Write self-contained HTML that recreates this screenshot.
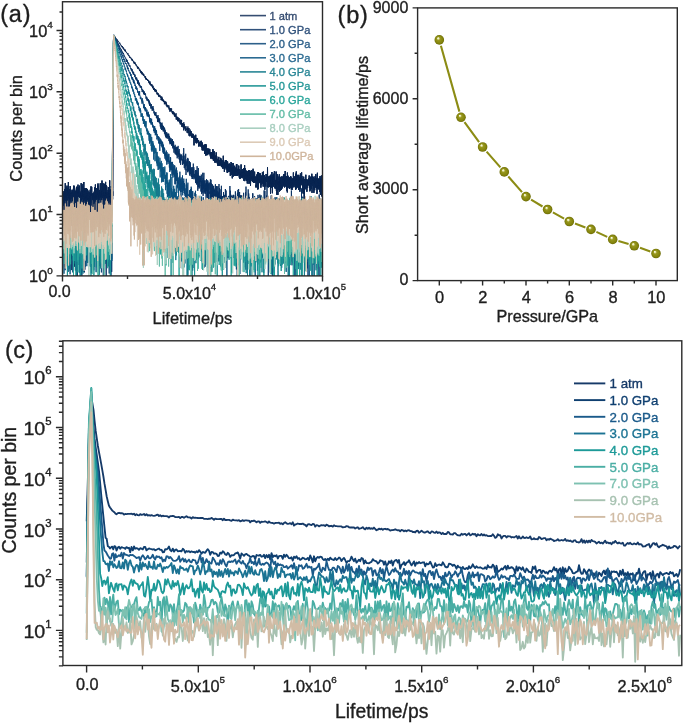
<!DOCTYPE html><html><head><meta charset="utf-8"><style>html,body{margin:0;padding:0;background:#fff;}svg{display:block;filter:blur(0.65px)} text{font-family:"Liberation Sans", sans-serif;stroke-width:0.35px}</style></head><body>
<svg width="685" height="724" viewBox="0 0 685 724">
<defs>
<clipPath id="ca"><rect x="62.5" y="1.75" width="260.0" height="274.15"/></clipPath>
<clipPath id="cc"><rect x="62.9" y="340.8" width="618.9" height="324.7"/></clipPath>
<radialGradient id="ball" cx="0.5" cy="0.5" r="0.5" fx="0.36" fy="0.3"><stop offset="0" stop-color="#ffffff"/><stop offset="0.16" stop-color="#e8e8b0"/><stop offset="0.35" stop-color="#98981e"/><stop offset="0.8" stop-color="#83830c"/><stop offset="1" stop-color="#6b6b06"/></radialGradient>
</defs>
<rect width="685" height="724" fill="#fff"/>
<g clip-path="url(#ca)">
<path d="M625 1939l1 16 1 11 1-30 2 32 1-56 1 21 1 8 1 79 1 36 1-3 1-37 2-85 1 167 1-156 1 90 1-101 1 56 1 0 1-97 2 56 1-10 1-1 1 98 1-100 1-101 1 179 2-104 1-6 1 1 1 77 1-13 1 45 1-60 1-75 2 110 1 77 1-118 1-44 1 60 1-104 1 100 1-11 2 60 1-41 1-62 1-1 1-21 1 26 1 13 2 145 1-72 1-173 1 156 1-64 1 39 1-41 1 34 2 58 1-12 1-61 1 45 1 89 1-144 1-27 2 5 1-1 1 137 1-172 1 94 1 42 1-26 1 15 2 30 1-68 1-9 1 19 1-19 1 18 1 30 1-8 2-59 1 107 1-50 1-79 1 37 1-21 1 34 2 64 1-43 1-28 1 28 1-12 1-19 1-37 1 71 2-85 1 61 1-52 1-8 1-31 1 35 1-1 1-32 2 184 1-43 1-107 1 177 1-133 1 0 1 94 2-34 1-86 1 6 1 61 1 14 1-6 1-66 1 103 2-78 1 82 1-129 1 37 1-59 1 201 1-16 1-81 2-113 1 143 1-133 1 60 1 0 1-29 1 94 2-22 1 36 1-76 1-93 1 119 1-48 1 7 1 10 2 20 1-81 1 66 1 32 1-86 1 16 1 25 2 24 1-94 1 86 1 34 1-66 1 49 1-17 1 19 2-10 1 84 1-46 1-5 1 37 1-64 1-29 1 69 2-166 1 119 1-30 1 85 1-13 1-136 1 51 2 43 1 70 1-162 1 136 1-26 1-18 1-28 1 19 2 2 1-105 1 97 1-18 1 107 1-125 1 144 1-65 2-159 1 165 1-42 1 65 1 0 1-127 1 86 2-20 1 12 1 68 1-76 1-67 1 102 1-69 1-34 2 129 1-117 1 161 1-150 1 56 1 45 1-57 1 27 2 64 1-156 1-5 1 122 1-36 1 5 1-14 2 60 1-127 1 49 1 58 1-27 1 15 1-32 1-46 2-1 1 98 1-67 1 56 1 52 1-41 1-61 2 89 1-49 1-65 1 64 1 2 1 13 1 55 1-94 2-17 1-4 1 64 1-1 1-102 1 99 1-37 1 160 2-116 1 0 1 27 1-167 1 99 1 93 1-115 2 4 1-2 1-74 1 78 1-4 1 40 1 19 1-57 2 5 1 46 1-24 1-32 1-4 1 40 1 92 1-137 2 33 1 33 1-25 1 40 1-81 1 34 1 76 2-115 1-8 1 36 1-39 1 116 1-156 1 51 1-39 2 212 1-69 1-53 1-16 1-116 1 100 1 70 1-99 2 17 1 52 1-86 1-19 1 77 1 42 1-92 2 15 1 39 1 30 1-32 1-41 1 22 1 176 1-207 2-61 1 74 1-26 1 46 1-107 1 107 1-76 2-6 1 90 1-54 1 135 1-111 1 112 1-120 1 55 2-14 1 40 1-65 1-26 1 92 1-34 1-33 1 50 2-104 1-40 1 94 1 20 1-14 1 55 1 38 2-42 1-57 1 32 1 33 1 8 1-59 1 19 1-60 2 101 1-195 1 140 1-116 1 131 1-49 1 57 1-122 2 54 1 81 1-31 1-50 1 142 1-60 1-8 2 109 1-159 1-91 1 216 1-38 1-77 1-15 1 3 2 35 1 13 1 71 1-202 1 27 1 112 1-36 1 13 2 9 1 39 1-185 1 134 1-53 1 51 1-27 2-69 1 80 1-77 1 121 1-77 1-39 1 35 1 81 2 15 1-33 1 17 1-56 1 29 1 33 1 28 2-35 1-35 1-41 1 18 1-15 1-32 1 45 1 111 2-74 1 67 1-87 1 110 1-99 1-11 1-25 1 33 2-138 1 163 1-71 1 72 1 30 1-31 1 60 2-96 1 117 1-153 1 49 1-40 1 105 1-148 1 15 2 12 1 61 1-52 1 47 1-71 1 173 1-107 1-72 2 27 1-3 1 5 1 35 1 63 1-81 1 46 2-77 1-294 1-418 1-353 1-269 1-150 1-48 1-1 2 6 1 3 1 6 1-3 1 1 1 1 1 3 1 3 2-3 1 4 1-1 1 6 1-1 1-1 1 1 2 9 1-2 1 2 1-3 1 4 1 5 1 0 1 2 2 0 1 3 1 0 1-2 1-2 1 6 1-1 1 13 2-7 1 2 1 2 1 3 1 9 1-3 1-1 2 0 1 6 1-2 1 2 1 2 1 1 1-1 1 5 2 1 1 4 1-1 1 3 1-2 1-4 1 2 2 10 1-2 1 3 1 7 1 3 1-3 1-1 1 6 2 0 1 2 1 1 1 3 1-2 1-2 1 3 1 6 2-1 1 0 1 9 1-9 1 8 1 3 1-12 2 14 1-1 1 3 1-4 1 6 1 6 1 4 1-5 2-8 1 13 1-7 1 9 1 4 1 5 1-7 1 0 2 3 1 9 1-4 1-2 1 5 1-2 1-5 2 15 1-14 1 16 1-3 1 2 1-2 1 6 1 0 2 2 1-1 1 2 1 3 1-2 1-1 1 10 1 1 2 2 1 2 1 1 1-1 1-2 1 8 1-3 2 5 1-11 1 11 1-1 1 9 1 1 1-3 1 6 2-2 1-3 1 9 1 2 1-3 1 4 1-3 2 5 1 6 1 6 1-9 1 6 1-2 1 9 1-3 2-3 1-1 1 1 1 0 1 8 1-3 1 4 1 4 2 3 1 3 1-7 1 6 1 5 1-1 1-8 2 16 1 2 1-11 1 14 1-11 1 10 1-3 1-2 2 1 1 4 1 5 1 3 1 1 1-7 1 7 1-2 2 18 1-8 1-1 1 4 1-10 1 17 1-7 2 0 1 10 1-7 1 4 1-11 1 9 1 9 1-4 2 4 1 6 1-4 1 2 1-4 1 17 1 1 1-1 2-6 1-1 1 8 1 0 1 2 1 10 1-2 2-8 1 2 1 0 1 4 1 18 1-13 1 1 1 11 2-16 1 12 1-4 1 2 1 2 1-2 1 10 2-5 1 4 1 11 1-2 1 5 1 5 1 0 1-10 2 12 1-12 1 9 1 1 1 7 1-7 1 8 1-7 2 1 1 16 1-12 1 17 1-16 1 19 1-5 2-12 1 8 1-1 1 20 1-18 1 11 1-13 1 11 2 2 1 11 1-3 1-4 1-7 1 2 1 11 1 7 2 2 1-16 1 10 1 10 1-15 1 7 1 1 2 0 1 5 1 7 1 9 1-1 1-1 1-7 1 9 2-8 1 0 1-2 1 1 1 29 1-26 1 10 1 2 2 7 1-5 1 3 1 6 1 10 1-20 1 7 2 12 1-2 1-7 1 10 1-4 1-4 1 3 1 8 2 7 1-2 1-7 1 8 1-11 1 1 1 3 2 7 1 15 1-19 1 8 1 12 1 3 1-1 1-4 2 13 1-17 1 12 1-5 1 18 1-32 1 15 1 10 2 9 1-18 1 16 1 1 1 5 1 4 1-7 2 1 1 5 1 6 1-18 1 1 1 20 1-15 1 11 2 3 1-15 1 3 1 19 1-7 1 11 1 10 1-18 2 5 1-1 1-10 1 21 1-5 1 4 1 18 2-12 1 13 1-12 1 11 1 2 1-19 1 16 1 0 2-3 1 22 1-9 1 0 1-8 1 3 1 9 1-19 2 21 1 3 1-8 1 11 1-15 1 9 1 10 2-23 1 24 1-2 1-2 1 2 1 1 1 16 1-11 2 20 1-14 1 0 1-4 1 13 1-8 1 8 2-3 1 10 1-15 1 2 1 24 1-11 1 3 1 16 2-5 1-8 1 11 1-11 1-4 1 14 1-10 1-6 2 20 1-15 1 1 1 0 1 14 1-1 1 11 2-14 1 2 1 5 1 5 1 8 1 17 1-15 1 13 2-14 1 8 1-29 1 30 1 4 1-25 1 35 1-26 2 1 1 14 1 14 1-6 1-6 1-5 1 4 2 3 1 10 1-14 1 23 1-2 1-7 1-5 1 4 2 1 1 12 1-14 1 34 1-14 1 9 1-1 1-15 2-2 1 20 1-9 1-18 1 18 1-11 1 6 2 0 1 17 1-6 1-19 1 34 1 5 1-24 1 21 2-5 1-5 1 13 1-1 1 12 1-10 1 15 1-18 2 5 1-9 1 16 1-13 1 0 1 0 1 7 2 5 1 3 1 10 1-3 1 1 1-22 1 39 1-10 2-4 1 15 1-18 1 17 1-10 1 5 1 29 2-32 1 23 1-17 1-12 1 8 1 12 1 0 1 0 2 7 1 8 1-8 1 2 1-24 1 20 1-19 1 28 2-3 1 5 1 12 1 3 1-7 1-14 1 27 2 5 1-15 1 9 1 2 1-27 1 22 1-6 1 9 2-9 1 12 1 3 1-10 1 11 1-16 1 27 1-27 2 35 1-7 1-6 1 18 1-6 1-15 1 14 2 8 1-19 1 10 1-5 1-10 1 21 1-3 1-31 2 65 1-28 1 14 1-15 1 18 1-3 1 13 1-26 2 11 1 5 1 12 1-29 1 41 1-37 1 11 2 14 1-7 1 23 1-39 1 39 1-8 1-20 1 20 2-8 1 2 1 14 1-1 1-31 1 14 1 6 2 8 1 15 1 8 1-26 1 18 1-3 1 14 1 10 2-25 1 17 1-42 1 6 1 30 1-20 1 31 1-28 2-13 1 23 1-22 1 67 1-31 1 5 1-13 2 11 1-7 1 8 1 17 1 9 1-36 1 28 1-18 2 5 1 14 1 18 1-26 1-15 1 66 1-21 1-61 2 39 1-4 1-13 1-3 1 22 1-6 1 24 2-9 1 22 1-30 1 3 1 1 1 0 1 43 1-26 2 13 1-9 1-13 1-14 1 29 1 11 1-3 1-5 2 3 1-6 1-7 1 40 1 3 1-15 1-1 2-33 1 31 1-20 1 36 1 7 1-68 1 29 1 37 2-14 1-36 1 28 1 18 1-24 1 9 1 46 2-76 1 23 1 22 1 9 1 6 1 22 1-36 1 16 2 11 1-7 1-51 1 52 1-31 1-6 1 27 1-12 2 35 1-11 1-8 1 22 1 0 1-52 1 15 2 25 1 20 1-21 1 24 1-15 1-3 1-2 1 17 2-26 1-9 1 33 1-9 1 14 1-12 1-21 1 38 2 5 1-9 1 4 1-10 1 5 1 78 1-36 2-60 1 31 1-4 1 11 1-35 1 6 1 19 1-7 2 6 1 22 1-9 1-34 1 20 1-35 1 37 1 42 2-37 1 15 1 27 1 1 1-53 1 6 1 38 2-9 1-3 1-15 1 9 1-24 1 41 1-43 1 20 2 13 1 3 1-8 1-6 1 26 1 4 1-2 2 4 1-27 1 6 1 53 1-25 1 16 1-20 1 6 2 8 1-28 1 24 1-13 1 11 1-18 1 2 1 20 2-14 1 7 1-27 1 50 1-20 1 6 1 5 2-48 1 39 1-16 1 0 1 19 1 1 1 26 1-1 2-17 1 43 1-59 1-17 1 68 1-38 1-10 1 37 2 5 1 18 1-47 1 16 1-10 1 30 1-19 2-20 1 22 1-15 1-9 1 24 1-7 1-9 1 2 2-7 1 83 1-54 1 9 1-54 1 47 1-8 1-32 2 105 1-48 1 48 1-95 1 13 1-27 1 63 2-17 1-4 1 66 1-37 1-16 1 44 1-20 1-41 2 17 1 42 1-3 1-35 1 48 1-14 1-16 2-26 1 40 1-6 1-10 1 16 1-4 1-45 1-1 2 32 1 3 1 3 1-27 1 43 1-33 1 6 1-22 2 20 1 36 1-19 1 2 1 33 1-11 1 21 2 13 1-58 1 51 1-37 1 23 1-44 1 18 1 0 2-11 1 21 1 35 1-31 1-9 1 14 1-9 1 43 2-40 1-49 1 83 1 0 1-93 1 51 1-29 2 17 1 75 1-80 1 35 1 27 1-37 1 9 1-3 2 50 1-94 1 65 1-30 1 76 1-12 1-50 1-6 2 43 1-39 1 41 1-3 1 5 1 11 1 12 2-42 1-27 1 11 1-44 1 72 1-16 1 35 1-25 2-25 1 21 1 35 1 5 1-11 1 17 1 4 2-41 1 45 1-14 1-35 1 69 1-73 1 50 1 11 2-31 1 7 1-5 1-50 1 40 1 51 1-33 1-25 2 4 1 40 1-15 1 6 1 20 1-36 1 18 2-13 1-7 1 23 1-63 1 70 1-29 1 12 1-9 2-37 1 75 1-56 1 58 1-49 1 57 1-31 1 15 2-8 1-41 1-3 1 33 1 21 1-47 1 65 2 11 1-43 1 1 1-9 1 7 1-84 1 112 1-12 2 10 1-52 1 56 1 14 1-32 1 15 1-29 1 79 2-93 1 18 1 21 1 10 1-33 1 23 1-21 2-44 1 56 1-33 1 16 1 41 1-61 1 18 1 57 2-42 1-48 1 29 1 6 1 41 1-13 1-15 1 40 2 35 1-111 1 76 1 36 1-111 1 61 1 24 2 9 1-73 1 47 1 36 1-59 1 14 1 23 1 2 2 1 1-23 1 18 1 23 1-73 1-11 1 52 2-6 1-33 1 58 1-35 1-29 1 52 1 63 1-28 2-17 1-23 1 60 1-7 1-67 1-56 1 49 1 29 2-45 1 2 1 4 1 81 1-109 1 117 1-40 2 75 1-96 1 19 1-30 1 33 1 36 1-41 1 51 2-125 1 135 1-85 1 64 1-12 1-6 1-48 1 27 2-3 1 57 1-81 1 40 1 8 1-68 1 18 2 32 1-25 1 73 1-38 1-13 1 23 1 10 1-20 2 41 1-40 1-45 1 22 1 10 1 32 1-94 1 71 2 43 1-117 1 3 1 72 1-20 1 8 1 10 2-23 1 55 1 0 1 14 1-53 1 17 1 3 1-40 2 58 1-13 1-24 1-52 1 1 1 43 1 23 2-20 1 72 1-72 1-11 1 40 1 55 1-82 1 44 2-17 1 29 1-36 1 61 1-41 1-38 1 37 1 4 2-61 1-42 1 98 1 4 1 29 1-51 1-24 2 26 1 29 1-37 1 19 1 16 1 28 1-57 1 15 2-48 1 76 1-29 1-13 1 38 1-7 1-2 1-26 2-46 1 43 1 80 1-24 1-33 1-30 1 21 2-17 1 56 1-128 1 110 1 50 1-62 1-68 1 108 2-61 1 6 1-43 1 49 1-22 1 23 1-7 1 56 2 9 1-54 1 10 1-5 1-43 1 102 1-51 2-46 1 96 1-12 1 39 1-102 1 8 1 81 1-108 2 66 1-5 1-33 1-12 1 72 1-50 1 14 2-60 1 88 1-87 1 132 1-99 1-37 1 35 1-25 2 11 1 103 1-35 1-73 1 37 1 17 1-63 1 38 2 109 1-40 1-52 1 21 1 25 1-31 1 9 2-87 1 70 1 3 1 11 1 6 1-20 1 8 1-7 2 2 1 34 1-43 1 54 1-67 1-46 1 72 1-7 2-84 1 92 1 42 1-62 1 55 1-65 1 80 2-57 1-7 1-34 1 29 1 65 1-56 1 5 1-58 2 79 1-6 1-28 1 28 1 34 1-12 1-36 1 6 2 40 1-30 1-13 1 95 1-25 1 23 1-14 2-83 1 4 1 86 1-109 1-11 1 40 1-15 1 0 2 43 1-88 1 101 1-21 1 90 1-138 1 58 2-95 1 138 1-133 1 164 1-92 1-7 1 18 1-79 2 102 1-26 1-16 1 5 1 9 1-27 1 27 1-67 2 90 1-30 1-22 1-4 1-35 1 82 1-62 2 41 1 80 1-116 1 91 1-34 1-42 1 45 1 15 2-60 1-20 1 67 1-10 1-31 1 14 1 14 1-85 2 87 1 25 1-21 1-31 1 45 1 11 1 26 2-150 1 61 1 73 1-70 1 3 1-31 1 90 1-90 2 16 1 83 1-57 1-1 1-4 1 109 1-106 1 27 2-50 1 25 1 34 1 18 1-31 1-23 1 15 2 58 1-125 1 30 1 32 1-6 1-14 1 13 1 19 2-55 1 53 1 6 1-15 1 7 1-11 1-125 2 153 1-40 1-17 1 100 1-52 1 55 1-36 1 35 2-73 1 34 1-68 1 55 1 5 1 9 1 10 1-78 2 101 1-108 1 59 1 46 1-59 1 32 1 2 2-81 1 26 1 154 1-119 1 1 1 12 1-85 1 102 2-1 1-42 1-41 1 110 1-54 1 5 1-40 1-66 2 58 1 55 1 14 1 85 1-121 1-35 1 9 2 52 1-89 1 117 1-96 1 24 1 46 1-69 1 93 2-9 1-54 1-64 1 41 1 66 1-98 1-32 1 89 2 9 1 49 1 2 1 17 1-19 1 27 1-57 2 20 1-16 1-35 1 65 1-14 1-37 1-97 1 64 2 128 1-120 1 8 1 35 1 117 1-91 1-54 1-63 2 37 1 56 1 0 1-38 1 3 1-40 1 191 2-132 1 12 1 17 1-10 1 13 1 6 1 40 1-47 2-49 1-29 1 53 1-80 1 12 1 160 1-103 2 2 1-22 1-24 1 70 1-62 1 130 1-113 1 83 2 0 1-95 1 70 1-59 1 32 1-16 1 29 1 63 2-135 1 0 1 50 1 10 1 29 1 10 1 2 2 17 1-56 1-60 1 75 1-41 1-2 1 56 1-64 2 34 1-68 1 6 1 70 1 0 1-86 1 118 1-125 2 25 1 77 1-16 1-44 1 92 1-7 1-85 2 25 1-3 1-94 1 101 1 31 1-66 1 19 1 49 2 22 1-64 1 39 1 18 1-7 1-90 1 69 1-19 2 78 1-6 1 24 1-90 1 35 1 71 1-198 2 95 1 39 1-81 1 26 1 2 1-49 1 75 1-43 2 75 1 11 1-4 1-60 1 11 1 25 1-42 2-31 1 114 1-93 1-14 1 27 1-9 1 38 1 42 2-105 1 86 1-62 1-38 1 15 1 39 1 0 1-40 2-8 1 105 1 22 1-84 1-11 1 24 1-1 2 23 1-30 1 84 1-97 1-18 1 17 1 72 1-27 2-32 1 17 1-16 1-5 1 63 1-68 1-80 1 119 2 16 1-48 1 7 1-36 1 15 1-16 1 62 2-60 1 10 1-22 1-7 1 100 1 7 1-22 1-86 2 48 1 81 1-58 1 64 1-162 1 63 1 82 1-74 2-93 1 91 1 84 1-47 1-49 1-45 1 42 2 7 1 79 1-83 1-38 1 109 1 1 1 1 1-59 2 25 1-85 1 17 1 31 1 15 1 87 1-60 2-12 1-73 1 71 1-50 1 32 1-10 1 49 1 50 2-107 1-12 1 141 1-67 1-20 1-36 1 94 1-153 2 100 1-30 1 22 1-54 1 20 1-16 1 66 2-34 1-13 1-73 1 63 1 39 1-65 1 93 1-48 2 3 1 36 1-8 1-33 1 100 1-83 1 107 1 7 2-153 1 48 1-36 1 17 1 126 1-169 1 68 2 16 1-11 1 147 1-62 1-133 1 130 1-115 1-12 2 91 1-4 1 11 1-19 1-30 1 18 1-10 1 21 2-125 1 79 1 33 1 22 1-76 1 21 1-37 2 40 1-33 1 63 1 57 1-59 1 21 1-2 1-79 2 12 1 16 1 27 1-49 1 35 1-17 1-26 2 49 1 6 1-70 1 68 1-15 1-53 1 60 1 13 2-99 1 48 1 75 1-49 1 27 1-16 1-72 1 145 2-4 1-103 1 54 1 8 1 32 1-132 1 8 2 64 1 21 1-59 1-15 1 29 1 19 1 51 1-63 2-85 1 136 1 54 1-21 1-69 1-56 1-3 1 75 2 1 1-91 1 58 1-30 1 45 1-39 1 29 2-55 1 99 1 20 1-84 1 121 1-119 1-29 1 29 2 15 1-23 1 23 1 78 1-67 1 39 1-111 1 34 2 41 1-23 1 29 1-77 1 102 1-127 1 37 2 100 1-29 1-32 1-12 1-24 1 69 1 22 1-42 2 108 1-68 1-20 1 34 1-157 1 71 1 36 2-37 1 34 1 29 1-54 1 84 1-24 1-79 1 36 2-30 1 23 1 77 1-42 1-68 1 53 1-43 1 35 2 59 1-98 1 56 1 74 1-159 1 78 1 20 2 87 1-94 1-34 1 105 1-72 1 94 1-156 1 41 2-40 1-33 1 106 1 100 1-175 1 85 1 62 1-125 2 61 1-120 1 49 1 132" transform="scale(.1)" fill="none" stroke="#0a2652" stroke-width="9.5" stroke-linejoin="round"/>
<path d="M625 2414l1 77 1-162 1 116 2-163 1 61 1-159 1 177 1 129 1-68 1 90 1 43 2-164 1-37 1 100 1-45 1 131 1-43 1-23 1 194 2-180 1 72 1-91 1 233 1-328 1-89 1 154 2-69 1 43 1-74 1 79 1 205 1-384 1 394 1-276 2-25 1 262 1-117 1-14 1-52 1-76 1 258 1-145 2-124 1-9 1-8 1 26 1 119 1 103 1-255 2 140 1-100 1 207 1 94 1-264 1-122 1 233 1 103 2-223 1 10 1 109 1 126 1-352 1 214 1-204 2 346 1-226 1 132 1-69 1-85 1 90 1-117 1 51 2 119 1 80 1-49 1-214 1 233 1 139 1-364 1-26 2 271 1-228 1 151 1 63 1-202 1 190 1-200 2 82 1 144 1-263 1 196 1-50 1-106 1-62 1 192 2-64 1 117 1 89 1-246 1-28 1-70 1 158 1-223 2 313 1-30 1-112 1 274 1-299 1 67 1-23 2 207 1-157 1-92 1-17 1 58 1-69 1-140 1 238 2 139 1-378 1 326 1-238 1 84 1 153 1-191 1-110 2 538 1-379 1 24 1-150 1 79 1 233 1 197 2-400 1-34 1 138 1-29 1 111 1-210 1 72 1-76 2 117 1 65 1-24 1-269 1 58 1 23 1-25 2 157 1-21 1 176 1-253 1-52 1 172 1-231 1 305 2-104 1-33 1-103 1-15 1 229 1-194 1-187 1 354 2-154 1 110 1-119 1 128 1-129 1 447 1-258 2-117 1-48 1 66 1 78 1-239 1 210 1-160 1 145 2-80 1 15 1 74 1-43 1 165 1-134 1-12 1-19 2 102 1-14 1 177 1-370 1 190 1 50 1 179 2-232 1-175 1-72 1 452 1-446 1 241 1 59 1-128 2 13 1-116 1 121 1 3 1-31 1-57 1-75 1 125 2-56 1-35 1 29 1 57 1 109 1-33 1 24 2-249 1 374 1-327 1-7 1 72 1 110 1-69 1-41 2 40 1 223 1-117 1-66 1 76 1-140 1 30 2-176 1 224 1-23 1-186 1 70 1 214 1-198 1 183 2-154 1-182 1 257 1-128 1 35 1-90 1 213 1-70 2-61 1 107 1 30 1-99 1-51 1 22 1 158 2-123 1 14 1-124 1 218 1-42 1-204 1 198 1 76 2-60 1 6 1 2 1-212 1 236 1 102 1-315 1 110 2-33 1 32 1-28 1-18 1 41 1 218 1-196 2 119 1-146 1 25 1-135 1 248 1 10 1 7 1-181 2 188 1-8 1-194 1 219 1 53 1-77 1-131 1 181 2-171 1 87 1-179 1 118 1-205 1 195 1 84 2-104 1 33 1 38 1-294 1 97 1 23 1-1 1 224 2-49 1 80 1-259 1-67 1 227 1-37 1 37 2-85 1 23 1-18 1-21 1 39 1 43 1-161 1 87 2 138 1-237 1 153 1-103 1 103 1-182 1 0 1 170 2 20 1 18 1-90 1-6 1 307 1-134 1-254 2 123 1 280 1-262 1 93 1-42 1 69 1-70 1 86 2-74 1 43 1-194 1 133 1-65 1 100 1-156 1 59 2 78 1-168 1 134 1-258 1 210 1 9 1-3 2-117 1 114 1 71 1 96 1-321 1 41 1-24 1 166 2 129 1-167 1 141 1-53 1-187 1 192 1 90 1-161 2 230 1-278 1 173 1-255 1 315 1-23 1-98 2 300 1-197 1-139 1-74 1 85 1-79 1 32 1 23 2 109 1-78 1-138 1 6 1 33 1 163 1-230 2 218 1-90 1-171 1 421 1-249 1-82 1 124 1 195 2-330 1-33 1-33 1 293 1 69 1-233 1-169 1 228 2-136 1 180 1-135 1-19 1 129 1-229 1 198 2-205 1 269 1 75 1 89 1-359 1 90 1 73 1 39 2-28 1-198 1 75 1 370 1-162 1-33 1-301 1-140 2-245 1-138 1-216 1-192 1-199 1-135 1-148 2-113 1-119 1-73 1-68 1-48 1-25 1 0 1-8 2 1 1 5 1 4 1 1 1-6 1 13 1 2 1-4 2-1 1 4 1 7 1 13 1-16 1 11 1-2 2 11 1-8 1 6 1-3 1 17 1-9 1 4 1 2 2 1 1 4 1-2 1 10 1-4 1-1 1 11 1-10 2 10 1 5 1-3 1 3 1 3 1 10 1-8 2 2 1 9 1-9 1 10 1 1 1 10 1-7 1 10 2 3 1-5 1-3 1 11 1 4 1-8 1 3 2 7 1 1 1 8 1 3 1 3 1-3 1-3 1 8 2 0 1-1 1 15 1-12 1 5 1 9 1-2 1 8 2-7 1 5 1 3 1 7 1-6 1 2 1 2 2 12 1-3 1 2 1-4 1 3 1 3 1 0 1 7 2-10 1 16 1 1 1 8 1-6 1 3 1-3 1 6 2 11 1-5 1 2 1 0 1 5 1 5 1-1 2 2 1 8 1 1 1-2 1-3 1 6 1 4 1-1 2 5 1 11 1-4 1-7 1 8 1 9 1 9 1-12 2 4 1-11 1 20 1-7 1-1 1 5 1 12 2-5 1 8 1 0 1-4 1 15 1-12 1-2 1 7 2 8 1-10 1 11 1 14 1-2 1-6 1 4 2-1 1 3 1 10 1 0 1-3 1-8 1 8 1 0 2 7 1 7 1 5 1 7 1-6 1 0 1 8 1 9 2 4 1 2 1-20 1 1 1 6 1 5 1 3 2 14 1-22 1 18 1 1 1 6 1 9 1-10 1-3 2 6 1 15 1 8 1-25 1 6 1 20 1-5 1-15 2 19 1 2 1-1 1 0 1 6 1-6 1 12 2 4 1 11 1-13 1-12 1 14 1-3 1 9 1 2 2 21 1-10 1 0 1-6 1 10 1 14 1 3 1-10 2-1 1-14 1 29 1-2 1 1 1-16 1 18 2 2 1-4 1 33 1-34 1 11 1-3 1 23 1-22 2 5 1-13 1 24 1-10 1 6 1 10 1 19 2-23 1 10 1-12 1 16 1 16 1-12 1 2 1-1 2 0 1 8 1 18 1-2 1-10 1 2 1-7 1 11 2-7 1 10 1 8 1-19 1 20 1 2 1 0 2-6 1 15 1-3 1 10 1-8 1 29 1-14 1 1 2-1 1 4 1-12 1 5 1 19 1-10 1-10 1 23 2-1 1-7 1 23 1-12 1-12 1-3 1 30 2-20 1 27 1-32 1 18 1 9 1 4 1-8 1-8 2 12 1-4 1 4 1 3 1-11 1 12 1 14 1-1 2 23 1 4 1-13 1-2 1 7 1 0 1-13 2 11 1 27 1-28 1 2 1 11 1-1 1 12 1-10 2 14 1-3 1-10 1 12 1 2 1-15 1 23 2-14 1 12 1 12 1 1 1-11 1-12 1 35 1 6 2-31 1 9 1 10 1 24 1-31 1 36 1-29 1 17 2-2 1 8 1 8 1-4 1-11 1 38 1-7 2-27 1 8 1-19 1 45 1-2 1-10 1-1 1 0 2 3 1-5 1 38 1-27 1 13 1 3 1-30 1 30 2-20 1-17 1 43 1-2 1 3 1-1 1-18 2 11 1 13 1 3 1 16 1-16 1 26 1-5 1-11 2 15 1 13 1-18 1 16 1-23 1 8 1 26 1-25 2-3 1 10 1 8 1 6 1-35 1 30 1 3 2 8 1 17 1-9 1-16 1 6 1 2 1 5 1 19 2-13 1-13 1 18 1 42 1-25 1 21 1-14 2-51 1 46 1 10 1 16 1-23 1-24 1 39 1-21 2 6 1 17 1-22 1 23 1 8 1 1 1-15 1-28 2 19 1 33 1-13 1 19 1 4 1 20 1-40 2 19 1-5 1 48 1-54 1 36 1-2 1-30 1 31 2 1 1-36 1 67 1-43 1-24 1-7 1 8 1 59 2-31 1-13 1 13 1 18 1 15 1-33 1 46 2 6 1-13 1-18 1-24 1 35 1-23 1 41 1-8 2 0 1 9 1-37 1 58 1 4 1-56 1 20 1-7 2 34 1-29 1 54 1-33 1-9 1 55 1-27 2 17 1-10 1-10 1 5 1 39 1-60 1 47 1-35 2 25 1 24 1-56 1 27 1-13 1 1 1 5 1 27 2-27 1-8 1 39 1 12 1-10 1-37 1 29 2-34 1 46 1-9 1-33 1-3 1 24 1 48 1-27 2 4 1 27 1-55 1 22 1 35 1 9 1-33 2 51 1-66 1 38 1 23 1-46 1 39 1-17 1-6 2 31 1-34 1-21 1 8 1 31 1-20 1 52 1-23 2-32 1 59 1-32 1-15 1 21 1-42 1 60 2 6 1 27 1-45 1 5 1 28 1-32 1-30 1 59 2-49 1 18 1 27 1 61 1-13 1-44 1 22 1-31 2 27 1-8 1 17 1-3 1-27 1 69 1-87 2 18 1 78 1-65 1 22 1 9 1-10 1 0 1 23 2-9 1-46 1 83 1-74 1 54 1-39 1 61 1-16 2-16 1 62 1-23 1-89 1 24 1-3 1 12 2 40 1-72 1-13 1 110 1-36 1 5 1 0 1-31 2 32 1-3 1 6 1 46 1-98 1 106 1-36 2-2 1-18 1-6 1 92 1-74 1 43 1-50 1 87 2-76 1 93 1-34 1-42 1-24 1-4 1 16 1 37 2-30 1 14 1 19 1-55 1 34 1 2 1-23 2 50 1-15 1 45 1-11 1 22 1-8 1-4 1-31 2-23 1 42 1-23 1-73 1 105 1-12 1-142 1 68 2 83 1-76 1 55 1 69 1-71 1 51 1-30 2-30 1 22 1 50 1 24 1-37 1-35 1 39 1 2 2-127 1 104 1-36 1 144 1-59 1 13 1-35 1-52 2 15 1 17 1-19 1 32 1-7 1-63 1 39 2-17 1-30 1 135 1-140 1 144 1-107 1 64 1-93 2 34 1 91 1-60 1 1 1 55 1-37 1 39 2-12 1-9 1-4 1 52 1-126 1 144 1-70 1 38 2-85 1 80 1 1 1-96 1 101 1-19 1 36 1-58 2 15 1 61 1-61 1 38 1-42 1 75 1-92 2-5 1 89 1-37 1-31 1 97 1-69 1-9 1 75 2-18 1-98 1 43 1 34 1 39 1-81 1 60 1-130 2 88 1-34 1 42 1-60 1 56 1 65 1-57 2 29 1-24 1 22 1-8 1 28 1-8 1-29 1 25 2-62 1 12 1 61 1 43 1-125 1 86 1 45 1-23 2-24 1-80 1 27 1 37 1 77 1-51 1 15 2-105 1 84 1-126 1 94 1 66 1-47 1 58 1-71 2 146 1-180 1 52 1-29 1 112 1-183 1 186 2-80 1 84 1-52 1-35 1 104 1-76 1-31 1 83 2-105 1 61 1 59 1-29 1 12 1-44 1-37 1 36 2-16 1 19 1-30 1-29 1 1 1 155 1-101 2 20 1-89 1 24 1 136 1-45 1 80 1-132 1 9 2 34 1 75 1-115 1 80 1-90 1 90 1-164 1 34 2 2 1 195 1-172 1-7 1 111 1-41 1 27 2-76 1-73 1 194 1 12 1-111 1 96 1-108 1 68 2-48 1-26 1 43 1-45 1 124 1 9 1-84 1 84 2-68 1-34 1 35 1-25 1 8 1 187 1-152 2 17 1-113 1 7 1 113 1-91 1 74 1-55 1 126 2-127 1-3 1 146 1-126 1-53 1 88 1-76 2 135 1 9 1 20 1-144 1 208 1-195 1 62 1-69 2 38 1 18 1-44 1-17 1-9 1 5 1 17 1 90 2-24 1 102 1-95 1-3 1-98 1-27 1 195 2 38 1-69 1-63 1-96 1 204 1 5 1-6 1-168 2 127 1-22 1 62 1-119 1 63 1-24 1 50 1-7 2-119 1 119 1-84 1 77 1 49 1-101 1 89 2-69 1-64 1 89 1 30 1-121 1 83 1 44 1-51 2-48 1 8 1 17 1-10 1 41 1 85 1-88 1 136 2-166 1 109 1 17 1-193 1 88 1 3 1 38 2-30 1 58 1-14 1-37 1 0 1 226 1-314 1 144 2-112 1-21 1 58 1 61 1-74 1 72 1 52 2 134 1-263 1 40 1-91 1 106 1-24 1 9 1 34 2-58 1-2 1 1 1 111 1-50 1-147 1 114 1 65 2 67 1-206 1 16 1 47 1 62 1-79 1-33 2 70 1 9 1 33 1-29 1 70 1-89 1 89 1-17 2 40 1 24 1-120 1-115 1 288 1-160 1 130 1-126 2 126 1-123 1 28 1-41 1-20 1 41 1-7 2 62 1-18 1-24 1-15 1-27 1-10 1 141 1-182 2 45 1 34 1-2 1 76 1-116 1 250 1-12 1-247 2 105 1-35 1 45 1-111 1 134 1-83 1-32 2-82 1 36 1 77 1-58 1 102 1-39 1-58 1-45 2 205 1-69 1-69 1-11 1 26 1 36 1 69 1 19 2-133 1 79 1-26 1 43 1-22 1 39 1-47 2-5 1-57 1 112 1 82 1-127 1-50 1 66 1-106 2 64 1 73 1-127 1 28 1 47 1 7 1 69 2 79 1-210 1-129 1 106 1 20 1 34 1 42 1-155 2 101 1-63 1 96 1-65 1-9 1 135 1 47 1-162 2-28 1 28 1 78 1 110 1-83 1-138 1 16 2 91 1-89 1 81 1 60 1-74 1 63 1-134 1 136 2-83 1-73 1 98 1 61 1-142 1 39 1-53 1 100 2-43 1 48 1-57 1 40 1 40 1 70 1-38 2-32 1-68 1-4 1 56 1-82 1-67 1 168 1-88 2 24 1 5 1 20 1 237 1-314 1 280 1-35 1-179 2-46 1 18 1 146 1 15 1-120 1 166 1-270 2-13 1 141 1 5 1-34 1-141 1 248 1-17 1-107 2 81 1-115 1-99 1 104 1 126 1-74 1 37 2 81 1-161 1-49 1 57 1-91 1 219 1-61 1 116 2-140 1-102 1 114 1 32 1-97 1-42 1 87 1 27 2-115 1 65 1-71 1 173 1-57 1 54 1 96 2-50 1-148 1-27 1 101 1 15 1-150 1 174 1-111 2 163 1 49 1-177 1 24 1 53 1 89 1-172 1 102 2-225 1 101 1 99 1 57 1-104 1 59 1 59 2-177 1 130 1-123 1 103 1-86 1 11 1-70 1 18 2 166 1-168 1-80 1 240 1-148 1 73 1-42 1-180 2 480 1-164 1-109 1 117 1-90 1-99 1 83 2 96 1-183 1 47 1 117 1-121 1 239 1-210 1 42 2-127 1 115 1 161 1-366 1 190 1-14 1 164 2-300 1 21 1 10 1 81 1-44 1 10 1 222 1-262 2 245 1-185 1 331 1-348 1 257 1-267 1 44 1 9 2 66 1-53 1-60 1 164 1 33 1-207 1 334 2-345 1 349 1-232 1-126 1 9 1 259 1-105 1-134 2 8 1 440 1-400 1 144 1-266 1 237 1-240 1 112 2-39 1 10 1 41 1 101 1-3 1 13 1 48 2-76 1-48 1 34 1-120 1 123 1-114 1 44 1-97 2 87 1-57 1 39 1 69 1-90 1 204 1-129 1-3 2-66 1 237 1-149 1-60 1-16 1 131 1 78 2-169 1 184 1-155 1 13 1-25 1-96 1 32 1 42 2-23 1 79 1-47 1 7 1 81 1-67 1-144 2 164 1-23 1 115 1-10 1 39 1-51 1-214 1 17 2 121 1 244 1-352 1 171 1 45 1-230 1 119 1-158 2 143 1 93 1-1 1 157 1-232 1 66 1-114 2 73 1-174 1 212 1-89 1-125 1 91 1-70 1 7 2 149 1 29 1 227 1-271 1 12 1-42 1-114 1 166 2 9 1-78 1 68 1 28 1 33 1-77 1-35 2 135 1-47 1-59 1 101 1-173 1-4 1 114 1-250 2 129 1 40 1 16 1-73 1-26 1 93 1-175 1 212 2 61 1 31 1-41 1-26 1 17 1 23 1-115 2 189 1 11 1-140 1 33 1 57 1-264 1 200 1-60 2 170 1-404 1 303 1-120 1 65 1-36 1 118 2 230 1-125 1-307 1 91 1-8 1 118 1-25 1 7 2 85 1-190 1 139 1 118 1-194 1 16 1 58 1-93 2-30 1-49 1 163 1 13 1-136 1 59 1 47 2-120 1-44 1 59 1 170 1 220 1-409 1 113 1-18 2-196 1 105 1 63 1 18 1 186 1-241 1 73 1-52 2-90 1 208 1-130 1 304 1-42 1-249 1-41 2 152 1-179 1 109 1-105 1 186 1 14 1-209 1-13 2 226 1-232 1 294 1-201 1 152 1-23 1-81 1 15 2-106 1 114 1 162 1-280 1-89 1 388 1-302 2 281 1-251 1 104 1 95 1-143 1 85 1-230 1 174 2-51 1 28 1-78 1 157 1-257 1 160 1-2 1 17 2-13 1 51 1 15 1-11 1-64 1-67 1 63 2 53 1-64 1-44 1 36 1-104 1 153 1-2 1 70 2 22 1-110 1 62 1-103 1 91 1-34 1-162 2 89 1-16 1 178 1 22 1-53 1-161 1 223 1-117 2-139 1 188 1-41 1-59 1 242 1-303 1 151 1 1 2 179 1-125 1 247 1-446 1-15 1 224 1-192 2 53 1 147 1 19 1 91 1-29 1 40 1-273 1-135 2 140 1 280 1-183 1-32 1 156 1-64 1-137 1 73 2 47 1 129 1-300 1 47 1-142 1 344 1-225 2-5 1 58 1 98 1-36 1-52 1 249 1-315 1 62 2 47 1-51 1 1 1-33 1 27 1 115 1-25 1-81 2 19 1-152 1 216 1-28 1-9 1 135 1-182 2 125 1-61 1 50 1-80 1-34 1 349 1-322 1-41 2 164 1-78 1-226 1 225 1-105 1 176 1-223 2 327 1-243 1 62 1-61 1 24 1-61 1 194 1 23 2-205 1 27 1 302 1-442 1 182 1-11 1 196 1-218 2-30 1-28 1 191 1-409 1 205 1-15 1-90 2 202 1-40 1 306 1-54 1-210 1-29 1 31 1 33 2-114 1-4 1 109 1-46 1-42 1 25 1 205 1-140 2 16 1-194 1 242 1-83 1 14 1 15 1 153 2-377 1 188 1-63 1 21 1 81 1 232 1-268 1-139 2 299 1-163 1-38 1 74 1 2 1-108 1 87 1-220 2 131 1-84 1 78 1 180 1-93 1-14 1-1 2 217 1-279 1 10 1 48 1 162 1-322 1 210 1 18 2 227 1-359 1-35 1 3 1 397 1-410 1 157 2-5 1 52 1-146 1-47 1 104 1 44 1-159 1 132 2-37 1 75 1-85 1-17 1 145 1 77 1-146 1 142 2-148 1-128 1 145 1 321 1-236 1-141 1 3 2 116 1-426 1 271 1 153 1-252 1 63 1-154 1 187 2 36 1 179 1-159 1 149 1-251 1 202 1-337 1 258 2-242 1 425 1-141 1 111 1-19 1-146 1 241 2-309 1 83 1 53 1-20 1 13 1-326 1 296 1-9 2 36 1-164 1 78 1 10 1 270 1-235 1-127 1 223 2-233 1 91 1 2 1-36 1 132 1-46 1-134 2-35 1 26 1-35 1 32 1 336 1-263 1 260 1-73 2 33 1-57 1-118 1 131 1-141 1-93 1 70 2 299 1-223 1-106 1 114 1-84 1 160 1-76 1-123 2 235 1-139 1 14 1 30 1-95 1-92 1 166 1 51 2-48 1-178 1 258 1 24 1-65 1-149 1 80 2-77 1 225 1-120 1 107 1-6 1-168 1 66 1-239 2 83 1 126 1 36 1 163 1 44 1-360 1 196 1-102 2 19 1-73 1-107 1 94 1 116 1-171 1 91 2 78 1-37 1-86 1-43 1 225 1-38 1 149 1-287 2 126 1-199 1 16 1 134 1-7 1 124 1-3 1-95 2 35 1-215 1 268 1-155 1 97 1-39 1-33 2 198 1-238 1-53 1 16 1 147 1 88 1-209 1 167 2-94 1 283 1-47 1-184 1 4 1 104 1 116 2-288 1 276 1-140 1-179 1 91 1-45 1 25 1-4 2 43 1 108 1-255 1 102 1 8 1-284 1 435 1-261 2 99 1 201 1-100 1-24 1 151 1-136 1-159 2-51 1 108 1 23 1 34 1 77 1-46 1-92 1 237 2-166 1-42 1-14 1 237 1-376 1 102 1 180 1-57 2-147 1-20 1 208 1 32" transform="scale(.1)" fill="none" stroke="#0a3163" stroke-width="9.5" stroke-linejoin="round"/>
<path d="M625 2284l1 78 1 65 1 50 2-41 1 100 1-221 1 79 1-14 1-204 1 198 1 175 2-59 1-186 1-23 1 111 1 63 1-135 1 227 1-16 2-97 1-67 1 29 1-11 1 190 1-111 1-37 2 36 1 25 1-133 1 98 1 72 1-223 1 102 1 232 2-267 1-153 1 101 1-25 1-15 1 93 1 131 1-197 2 261 1-159 1-57 1 32 1 80 1 100 1-340 2 115 1 150 1 63 1-149 1 5 1-10 1-128 1 237 2-138 1 261 1-180 1-186 1 318 1-253 1 362 2-226 1-26 1 45 1-121 1-9 1-39 1 147 1 46 2-216 1 200 1-137 1 145 1-142 1-220 1 192 1-194 2 369 1-95 1-21 1 36 1-96 1 0 1 58 2-141 1 278 1-33 1 236 1-333 1 58 1-83 1 140 2 13 1-112 1 85 1-114 1 2 1 44 1-92 1 68 2 59 1 67 1-156 1 138 1-201 1 67 1 101 2 74 1 20 1-301 1 437 1-196 1-359 1 165 1-77 2 111 1 47 1-37 1 324 1-104 1-74 1 34 1 24 2-405 1 364 1-214 1 374 1 26 1-302 1-66 2 225 1-122 1-176 1 14 1 244 1-301 1 24 1 56 2 305 1-107 1-139 1 59 1-18 1-45 1 26 2-58 1-84 1 140 1 72 1-43 1 150 1-166 1-115 2 407 1-24 1-362 1 191 1-69 1-64 1-136 1 81 2-2 1 29 1 184 1-156 1-112 1 519 1-79 2-344 1 221 1-117 1-71 1-145 1 182 1-30 1-116 2 233 1 94 1-326 1 450 1-92 1-51 1-249 1-5 2 28 1-56 1 218 1-72 1 46 1-78 1 4 2 154 1-193 1-29 1-14 1 103 1-46 1 62 1 216 2-384 1-3 1 254 1-85 1-62 1-24 1 36 1 18 2-34 1 226 1-223 1 53 1-235 1 30 1 131 2 93 1-136 1 204 1-263 1 184 1-45 1 131 1-24 2-284 1 126 1 96 1-148 1 137 1-51 1-13 2 129 1-88 1-96 1 45 1 233 1-144 1-279 1 361 2-41 1-87 1 174 1 82 1-391 1 358 1-335 1 96 2-15 1-159 1 337 1 62 1-321 1-3 1 78 2 149 1 59 1-134 1-74 1 197 1-269 1 195 1-39 2-157 1 171 1-164 1 86 1 119 1-15 1-134 1-27 2-4 1-49 1 55 1 14 1 93 1-23 1 128 2-64 1-67 1 43 1 213 1-106 1-306 1 320 1-299 2 95 1-27 1-4 1 125 1 44 1-37 1-141 1 216 2-143 1-26 1-26 1 13 1 220 1-363 1 262 2-150 1 87 1 10 1 48 1-226 1 200 1 117 1 10 2-95 1-188 1 157 1-52 1-110 1 29 1-9 2 27 1 65 1-21 1-31 1 30 1 15 1 72 1 52 2-84 1 67 1 99 1-295 1 230 1-226 1 32 1 66 2-165 1 345 1-187 1-137 1 107 1 130 1 72 2-175 1 199 1-277 1 20 1 381 1-250 1-208 1 65 2 212 1 29 1-6 1-52 1-155 1 26 1-124 1 101 2-62 1 136 1 35 1 32 1 67 1 197 1-546 2 305 1-230 1 167 1-109 1-10 1-72 1 220 1-103 2 73 1-120 1-58 1 241 1-204 1 134 1 171 1-99 2-167 1 33 1 115 1-52 1-52 1-82 1 214 2 17 1-252 1 145 1 105 1-265 1 83 1 126 1-71 2-17 1 139 1-24 1-260 1 114 1 22 1 0 2 50 1-35 1-108 1 147 1-110 1 306 1-226 1-86 2 49 1 120 1-147 1-104 1 481 1-340 1 7 1-11 2 158 1-275 1 267 1-120 1-79 1-19 1-69 2 291 1-44 1-172 1 22 1 73 1 338 1-341 1 12 2 12 1 179 1-346 1 314 1-249 1 73 1-263 1-13 2-194 1-308 1-134 1-239 1-155 1-165 1-149 2-118 1-93 1-89 1-64 1-46 1-22 1-16 1 12 2 5 1-1 1 1 1-7 1 16 1-1 1 5 1 0 2 4 1-3 1 10 1 2 1-2 1 5 1-2 2 9 1-3 1 9 1 3 1-4 1 5 1 3 1 8 2 1 1-1 1 6 1 5 1 1 1 0 1 7 1-6 2 12 1-2 1 1 1 6 1 0 1 11 1-3 2-3 1 4 1 6 1-1 1 6 1 3 1-3 1 8 2 4 1-4 1-4 1 22 1-13 1 1 1 14 2 6 1 0 1-5 1 10 1 7 1 3 1-8 1 5 2 2 1 4 1-5 1 11 1 0 1-3 1 6 1 13 2-13 1 15 1 5 1-6 1 12 1-1 1-6 2 5 1 5 1-4 1 12 1 6 1-10 1 1 1 10 2 1 1 2 1 7 1 13 1-13 1 9 1-1 1 4 2-4 1 7 1 5 1 15 1-7 1-10 1 1 2 9 1 7 1 4 1 14 1-4 1-6 1 8 1-3 2 3 1-4 1 4 1 7 1 2 1-2 1 7 1 12 2-3 1 0 1-6 1 14 1 17 1-4 1-16 2 26 1-11 1 7 1 1 1-11 1 20 1 7 1-6 2 4 1-3 1 10 1 4 1-2 1 4 1 7 2 4 1-5 1-3 1 8 1 9 1 2 1 2 1 1 2-16 1 14 1 9 1 11 1-18 1 11 1-9 1 6 2 15 1-5 1 24 1-13 1 2 1 4 1 8 2 0 1 12 1-22 1 25 1-1 1-25 1 27 1-13 2 3 1 19 1-2 1 14 1-15 1-9 1 13 1 23 2-32 1 24 1-8 1 11 1 4 1-10 1-2 2 15 1-5 1 24 1-5 1 4 1 7 1-13 1 15 2 4 1-3 1 9 1 16 1-14 1 17 1-28 1 9 2 4 1 8 1 10 1-16 1 16 1-8 1 11 2-2 1 4 1 17 1 3 1-10 1 18 1-6 1 0 2-3 1 7 1-10 1 14 1 19 1-8 1 14 2-19 1-11 1 25 1-9 1-6 1 21 1-45 1 36 2 2 1 6 1 2 1 7 1 27 1-3 1-5 1 4 2-18 1 5 1 11 1-3 1 12 1 5 1 4 2-1 1 12 1-5 1-16 1 45 1-19 1-37 1 28 2 9 1 13 1 0 1-25 1 8 1 4 1 4 1 20 2-4 1 25 1-12 1 30 1-21 1 17 1 6 2-30 1-12 1 7 1 38 1 9 1-21 1-3 1 14 2-11 1 38 1-16 1-13 1-11 1 17 1 5 1 7 2-17 1 30 1-8 1 10 1 0 1 0 1 28 2-36 1-10 1 1 1-1 1 65 1-27 1 1 1-11 2 17 1-2 1 19 1-32 1 39 1-17 1-32 2 35 1 12 1-23 1 7 1 20 1 0 1-5 1-17 2 38 1-15 1 24 1 30 1-7 1-35 1 29 1-12 2-19 1 38 1-12 1 4 1 22 1-21 1-8 2 43 1-19 1-12 1-2 1 8 1-34 1 30 1 1 2 26 1-15 1-4 1 18 1 11 1-29 1 37 1 9 2-19 1-3 1 16 1 13 1-19 1 20 1 3 2 0 1 30 1-14 1 10 1-38 1 6 1 52 1-13 2-17 1-38 1 38 1 11 1-22 1 20 1 12 1 34 2-57 1-10 1 34 1-5 1 31 1-34 1 24 2 12 1-47 1 26 1-11 1 17 1 42 1 19 1-22 2-31 1 23 1 1 1-7 1 18 1 4 1 0 2-2 1 28 1-42 1 19 1-4 1 20 1-35 1 70 2-30 1-34 1 21 1 4 1 36 1 9 1-36 1 5 2 100 1-127 1 55 1-7 1 6 1 4 1-7 2-5 1-37 1 46 1-12 1-22 1 41 1 15 1-50 2 55 1-6 1 2 1-7 1-34 1-6 1 31 1 32 2-55 1 75 1-24 1-46 1 45 1 53 1-45 2-1 1-17 1 73 1-88 1 84 1-58 1 66 1-8 2-34 1 36 1-16 1-39 1 46 1 31 1-67 1 43 2 57 1-69 1 8 1 37 1-32 1 7 1 6 2 7 1 53 1-73 1 14 1 46 1-50 1-35 1 96 2-54 1 99 1-77 1-49 1 92 1 6 1-56 1 7 2 33 1-41 1 54 1-48 1-31 1 101 1-86 2-4 1 68 1-58 1 60 1-35 1-44 1 56 1 0 2 57 1 23 1-40 1 8 1-32 1 109 1-114 2 66 1 0 1-102 1 108 1 13 1-115 1 128 1-86 2 1 1 70 1-69 1 81 1-23 1-55 1 6 1 35 2 8 1 84 1-77 1-13 1 43 1 27 1-117 2 55 1 4 1 99 1-136 1 45 1 31 1 29 1-49 2 19 1-35 1 2 1-19 1 61 1-75 1 119 1-48 2 37 1 1 1-17 1-85 1 185 1-59 1-15 2-30 1 105 1-143 1 15 1 57 1 19 1 17 1-121 2 10 1 111 1-133 1 49 1 36 1 11 1-10 1-57 2 169 1-144 1 20 1 27 1 48 1-47 1 54 2-26 1 79 1-85 1 130 1-126 1 72 1-54 1-8 2-38 1 75 1 33 1-46 1-63 1 0 1-16 2 8 1 15 1 123 1-187 1 86 1 58 1 45 1-67 2 82 1-59 1-69 1 26 1-27 1 268 1-240 1-45 2 73 1-12 1 55 1-44 1-28 1 101 1-57 2-3 1 43 1 17 1-166 1 120 1 79 1-85 1-13 2-16 1-28 1 79 1-79 1 12 1 20 1 64 1-121 2 144 1-12 1-2 1-25 1-60 1 52 1 55 2-93 1 112 1-11 1-46 1-16 1 57 1 28 1 17 2-42 1-8 1 25 1-19 1 17 1-47 1-124 1 165 2 93 1-152 1-49 1 124 1-23 1-78 1 113 2-6 1 124 1-89 1-126 1-47 1-10 1 178 1 48 2-65 1 28 1-13 1-50 1 118 1-30 1-101 2 0 1 2 1 155 1-131 1-63 1 101 1 66 1-47 2-119 1 10 1 162 1-17 1-84 1-74 1-9 1 332 2-207 1 33 1-56 1-127 1 120 1 93 1-197 2 45 1 58 1-29 1 79 1-39 1 135 1-209 1 71 2 86 1-170 1 10 1 9 1 85 1-39 1 147 1-47 2 48 1-153 1 110 1-59 1 46 1-45 1 76 2 5 1 44 1-107 1-38 1 187 1-224 1-38 1 202 2-47 1 67 1-187 1-54 1 130 1 229 1-327 1 304 2-217 1 13 1 44 1 20 1 46 1-35 1-125 2 48 1 74 1 53 1 13 1-53 1-102 1 12 1 28 2 66 1 17 1-48 1-68 1 207 1-28 1-128 2 150 1-220 1-8 1 138 1-102 1 171 1 18 1-137 2-94 1 14 1-7 1-42 1 103 1 23 1 128 1-121 2 38 1-72 1 195 1-112 1 168 1-296 1 314 2-334 1 10 1 161 1-71 1-131 1 415 1-306 1-70 2 58 1 25 1 56 1 74 1-71 1-14 1-56 1 14 2-34 1 78 1-15 1-146 1 152 1 66 1 4 2 109 1-26 1 22 1-180 1 232 1-223 1 187 1-59 2-107 1 8 1-76 1 40 1 96 1-41 1-96 1 71 2-94 1 192 1-5 1 64 1-243 1-61 1 207 2 17 1 73 1-249 1 142 1-57 1 16 1 199 1 44 2-378 1 28 1 18 1 124 1 76 1-97 1 113 2-144 1 53 1 32 1-81 1 62 1 90 1-22 1-85 2 26 1-116 1 57 1-11 1 200 1-137 1 142 1-100 2-124 1 134 1-30 1-66 1 72 1-165 1 178 2-35 1-166 1 122 1 37 1-205 1 156 1-108 1 73 2-6 1-72 1 87 1 100 1-30 1-10 1-130 1 22 2 78 1 22 1-19 1-93 1-71 1 157 1 151 2 41 1-36 1-314 1 353 1-111 1-60 1 115 1-117 2 449 1-487 1 18 1-79 1-82 1 466 1-458 1 76 2 201 1-218 1 93 1 165 1-70 1 122 1-260 2 113 1-178 1 175 1 9 1 95 1-316 1 222 1-174 2-13 1 106 1 30 1 59 1-44 1-61 1-26 2-50 1 44 1 87 1 123 1-20 1-60 1-115 1-28 2 189 1-26 1 222 1 5 1-338 1-156 1 326 1 5 2 30 1-142 1 224 1-439 1 238 1-155 1 270 2-128 1-130 1 462 1-160 1-224 1-166 1 201 1 138 2-126 1 242 1-340 1 82 1 11 1 120 1-213 1 405 2-385 1 177 1 100 1-94 1-157 1-73 1-94 2 155 1 72 1 14 1-57 1 117 1 8 1-119 1-30 2 379 1-317 1 52 1-53 1-167 1-47 1 158 1-87 2 34 1 443 1-366 1 337 1 75 1-349 1 21 2-181 1 171 1 193 1-189 1 74 1 65 1-262 1 107 2-182 1 136 1-166 1 284 1-11 1 1 1-81 1-157 2 109 1 229 1-210 1 338 1-287 1 62 1-268 2 118 1-69 1 134 1-109 1 171 1-108 1 22 1 0 2 21 1 140 1-202 1 79 1 58 1-83 1-78 2 77 1 33 1-137 1 315 1-276 1 137 1-56 1-9 2-196 1 557 1-448 1 31 1 37 1 90 1-68 1-189 2 435 1-408 1 38 1 43 1-9 1-57 1 497 2-319 1-78 1 181 1-171 1-181 1 226 1-70 1 246 2-305 1 53 1 20 1 176 1-126 1 256 1-438 1 241 2 16 1-92 1-51 1 240 1 36 1-241 1-27 2-101 1 125 1-54 1 145 1-26 1-107 1 15 1-48 2 358 1-151 1-177 1 78 1 252 1 89 1 133 1-327 2-18 1-70 1-141 1 9 1 246 1-96 1-53 2 2 1-139 1 19 1-58 1 114 1-204 1 274 1 7 2-109 1-10 1-44 1-13 1 281 1-39 1-180 2 191 1-187 1 255 1-344 1 58 1 100 1 72 1-79 2 231 1-113 1-222 1 154 1-167 1 99 1 207 1 142 2-321 1 103 1-41 1-290 1 223 1 107 1-57 2-76 1 173 1 44 1-403 1 72 1 115 1-125 1 245 2 27 1-27 1 82 1-26 1-156 1 0 1 40 1 24 2-165 1 8 1 36 1-74 1 91 1 57 1-64 2-48 1-112 1 244 1-17 1 167 1-83 1 97 1-137 2-13 1-146 1 123 1 53 1 41 1 63 1-331 1 57 2 268 1-155 1 125 1-161 1-48 1 117 1 223 2-122 1-17 1-345 1 61 1 96 1 175 1-18 1 15 2-195 1 356 1-370 1 298 1-317 1 57 1 61 2-1 1 56 1-278 1 277 1-45 1-25 1 77 1-209 2 271 1-17 1 142 1-286 1 96 1-69 1-79 1 193 2 22 1-39 1-269 1 521 1-125 1-332 1 52 2-61 1 99 1 41 1 171 1-162 1 1 1 141 1-290 2-28 1 370 1-300 1 18 1-52 1 138 1-10 1-165 2 289 1-232 1 269 1-240 1 90 1-78 1 182 2-111 1-52 1-120 1 116 1 86 1 62 1-249 1-14 2-2 1-35 1 107 1-75 1 36 1 27 1 409 1-264 2 336 1-266 1-131 1 259 1-186 1 28 1 54 2-138 1 145 1-13 1-198 1 73 1-10 1-44 1 13 2-118 1 125 1 399 1-298 1-79 1-76 1 47 2 45 1-138 1-88 1 55 1 194 1-89 1-11 1 85 2-118 1 186 1-139 1-39 1 46 1 120 1 22 1-286 2 338 1-166 1 38 1 194 1-194 1-146 1 253 2-26 1-166 1 0 1 37 1 107 1 6 1 39 1-189 2-18 1 99 1 146 1-152 1-40 1-66 1 94 1 162 2-70 1-319 1 114 1-112 1 156 1 204 1-13 2-146 1 34 1 7 1-86 1 331 1-412 1 196 1-166 2 162 1-155 1-87 1 363 1-133 1-95 1-121 1 24 2 232 1-70 1-20 1-165 1 432 1-238 1 12 2-111 1-42 1 22 1 14 1-17 1 307 1-137 1-131 2-4 1 241 1-46 1-199 1 184 1-212 1-105 2 197 1-50 1 23 1-83 1-76 1 141 1 604 1-520 2 106 1-110 1 46 1-171 1-17 1 171 1-50 1-84 2 170 1-158 1 39 1-59 1 305 1-264 1 188 2-167 1 50 1-58 1 12 1-91 1 125 1-152 1 216 2-110 1 14 1 36 1 21 1-86 1 51 1-86 1 113 2-243 1 33 1 248 1-135 1 174 1-236 1 136 2-27 1-34 1 491 1-480 1-129 1 681 1-551 1 106 2-199 1 318 1-169 1 128 1-88 1 150 1-205 1 67 2-241 1 160 1 71 1 90 1-30 1-75 1-114 2-130 1 223 1-104 1 346 1-454 1 188 1 251 1-45 2-141 1-170 1-115 1 237 1 112 1-165 1-7 1 216 2-168 1-11 1 60 1-172 1 181 1 63 1-17 2 147 1 23 1 48 1-181 1-155 1-110 1 279 1-29 2-92 1-66 1-79 1 102 1 137 1-216 1 411 2-423 1-33 1 182 1 90 1-19 1 91 1-268 1 74 2 347 1-216 1-142 1-210 1 155 1-23 1 13 1 6 2 189 1-212 1 131 1-269 1 417 1-241 1 116 2 5 1-52 1-15 1-104 1 145 1 29 1-235 1 109 2 247 1-127 1-93 1-56 1 49 1 19 1 72 1-128 2 340 1-237 1-25 1 180 1-255 1 39 1 350 2-469 1 367 1-58 1-200 1 309 1-251 1 102 1-96 2 70 1-94 1 216 1-118 1-222 1 58 1 122 1 21 2 52 1-106 1-78 1-26 1-27 1-121 1 251 2-46 1 173 1-174 1 197 1-294 1 7 1 154 1-81 2 61 1 52 1-1 1-74 1 75 1-96 1-109 2 147 1 77 1-88 1 62 1-85 1-209 1 261 1-18 2 39 1 115 1-215 1-15 1 161 1-170 1 148 1-95 2 234 1-106 1-49 1-123 1 67 1 30 1-10 2-23 1 419 1-338 1-29 1-195 1 157 1-10 1-69 2 274 1-301 1-127 1 371 1-150 1 169 1-236 1 5 2 73 1-29 1-35 1 117 1-230 1 241 1-68 2-237 1 233 1-113 1-59 1 54 1-10 1 640 1-279 2-290 1 10 1 130 1-105 1 240 1-212 1 64 1 93 2 68 1-124 1-158 1 219 1-255 1 306 1-225 2 13 1 207 1-47 1-223 1-43 1-40 1 57 1 191 2 36 1-281 1 112 1-92 1 196 1-113 1 80 2 375 1-513 1 185 1-312 1 214 1-10 1-81 1 125 2 37 1 97 1-113 1-6 1-135 1 165 1-39 1-48 2 80 1-108 1 158 1-151 1 7 1 28 1 46 2-56 1-26 1 83 1-4 1-152 1 116 1-130 1 80 2 105 1-122 1 171 1 82 1 25 1-218 1 133 1 221 2-365 1 82 1-226 1 223 1-201 1 273 1-206 2 93 1-233 1 290 1-195 1 116 1 83 1-35 1 112 2-180 1 84 1 76 1-301 1 299 1-66 1-66 1-250 2 381 1 36 1-309 1 204 1 78 1-177 1 146 2-38 1-24 1 143 1-140 1 107 1-223 1 147 1 97 2 253 1-594 1 55 1 41 1 72 1 510 1-578 2 187 1-190 1 323 1-174 1-333 1 72 1 367 1 0 2-192 1-49 1-83 1-5 1-67 1-9 1 535 1-349 2 49 1 135 1-278 1 104 1-116 1 103 1 26 2 257 1-479 1 111 1 132 1-70 1 171 1-250 1 9 2 298 1-68 1-88 1 129 1 52 1-237 1 118 1 25 2-66 1 72 1-58 1-153 1 4 1 88 1 29 2-36 1-11 1-27 1 20 1 86 1-37 1 28 1-158 2 89 1-66 1 197 1-120 1-16 1 225 1-185 1-97 2-65 1 190 1 22 1 133 1 127 1 18 1-378 2 91 1 3 1-101 1-51 1-50 1 28 1 108 1 432 2-413 1 115 1-10 1-116 1-22 1-128 1 163 2-2 1 27 1 468 1-350 1-359 1 96 1 48 1 52 2-159 1 124 1-200 1 245 1-63 1 131 1-282 1 153 2 83 1 38 1-8 1-64 1 80 1-84 1 95 2-170 1 60 1 27 1-111 1 114 1 40 1-50 1 80 2-193 1 257 1 139 1-245 1-124 1 159 1-154 1-119 2 297 1-37 1-265 1 386" transform="scale(.1)" fill="none" stroke="#0b4677" stroke-width="9.5" stroke-linejoin="round"/>
<path d="M625 2197l1 484 1-167 1-176 2 103 1-94 1-131 1 317 1-193 1-3 1 123 1-21 2-38 1 336 1-337 1-42 1-58 1 25 1 71 1 47 2 65 1-12 1-49 1 93 1-92 1 188 1-171 2-16 1-140 1 35 1 25 1 1 1-84 1 182 1-68 2 3 1 97 1-228 1 184 1-5 1-243 1 182 1 54 2-111 1 224 1-91 1 75 1-112 1 180 1-217 2 327 1-314 1 123 1-183 1 264 1-148 1 146 1-185 2-100 1-42 1-101 1 214 1 47 1 64 1 44 2-266 1 309 1 152 1-259 1-133 1 97 1 198 1-361 2 221 1 47 1-90 1-41 1-82 1 169 1-65 1-28 2-189 1 240 1-105 1 180 1-185 1-75 1 52 2 128 1-64 1 66 1 56 1-175 1-78 1 175 1 34 2-133 1 217 1-194 1 86 1-47 1-217 1 32 1 294 2 4 1-163 1 163 1-136 1 37 1-89 1 175 2-14 1-152 1-21 1 218 1 135 1-254 1 7 1 142 2-81 1-207 1 10 1-60 1 306 1-95 1 156 1-253 2 408 1-279 1 29 1-147 1-13 1-33 1 361 2-332 1-70 1 78 1 78 1 129 1-155 1 105 1 32 2 46 1 70 1-302 1 128 1 136 1-174 1 36 2-55 1 310 1-241 1-119 1 92 1-123 1 276 1-180 2-16 1-109 1-110 1 356 1-251 1-38 1 148 1 8 2-170 1 169 1 61 1 24 1-82 1 261 1-445 2 198 1 134 1-155 1 83 1-239 1 167 1-106 1-61 2 233 1-241 1 286 1-79 1-46 1-91 1 163 1-112 2-6 1 15 1-86 1 235 1-58 1-82 1-34 2 72 1 29 1 207 1-176 1 29 1-199 1 43 1-13 2-173 1 66 1 122 1 115 1 137 1-309 1 61 1 74 2-158 1 94 1 27 1-38 1 295 1-476 1 98 2 188 1-34 1-53 1-11 1 52 1-204 1 253 1 49 2-176 1-42 1-88 1 22 1 290 1-197 1-70 2 58 1 155 1-153 1 42 1-50 1 124 1-159 1-6 2 98 1 8 1 20 1 124 1-100 1-46 1-65 1 7 2 35 1 130 1-149 1 29 1 244 1-39 1 164 2-522 1 298 1-201 1 181 1-164 1 121 1 45 1-6 2-85 1-32 1 220 1-194 1 131 1-46 1 32 1-122 2-204 1 183 1 56 1-163 1 251 1 191 1-274 2 174 1-68 1-192 1 162 1-25 1-73 1 132 1-178 2 19 1 42 1 92 1 1 1-76 1-142 1-44 1 315 2 27 1-217 1 343 1-130 1-15 1-214 1 26 2-50 1 17 1 43 1 45 1-156 1 227 1-224 1 52 2 266 1-43 1-236 1 219 1-233 1-119 1 356 2 43 1-196 1 124 1 14 1-190 1-50 1 81 1 203 2 79 1-182 1-4 1-42 1-69 1 255 1-322 1 181 2-153 1-35 1 172 1-74 1-72 1 150 1 204 2-293 1 226 1-231 1 113 1-266 1 252 1 147 1-368 2 194 1-87 1 104 1-42 1-8 1 74 1-14 1-37 2 86 1-231 1 174 1 1 1-46 1-63 1-97 2 127 1 250 1-154 1-71 1 13 1-23 1 236 1-534 2 329 1 110 1-217 1 186 1-57 1-64 1-8 1-74 2 82 1-42 1 94 1-1 1-34 1 74 1-171 2 132 1-59 1 151 1-301 1 365 1 0 1 15 1-132 2-149 1 54 1 276 1-392 1 114 1-97 1-57 2 75 1 206 1-229 1-43 1 425 1-261 1 63 1-175 2 192 1-147 1 117 1-177 1 9 1 243 1-180 1-87 2 121 1 122 1-151 1 203 1-41 1-232 1 214 2-87 1 192 1-249 1 163 1-64 1-224 1 36 1 343 2-324 1 241 1-20 1-33 1-119 1 258 1-349 1-141 2-178 1-184 1-308 1-194 1-151 1-153 1-148 2-126 1-91 1-80 1-71 1-42 1-32 1-10 1 9 2 1 1 4 1 0 1 2 1 8 1 4 1 9 1-6 2 7 1 0 1 0 1 8 1 12 1-3 1-2 2 3 1-1 1 16 1-8 1 7 1-2 1 3 1 1 2 8 1 7 1-1 1 12 1 0 1 6 1-2 1-4 2 9 1 7 1 1 1-3 1 14 1 1 1 4 2 5 1 0 1-5 1 9 1 2 1 13 1-7 1 5 2 7 1 5 1-1 1 10 1-6 1 15 1-6 2-2 1 4 1 21 1-7 1 0 1 9 1-1 1 5 2 2 1 6 1-7 1 15 1-9 1 7 1 13 1-12 2 13 1 3 1 0 1 4 1 7 1 7 1-16 2 20 1-8 1 19 1-12 1 5 1 3 1 4 1 20 2-11 1 12 1 2 1-8 1 4 1-1 1 11 1 17 2-5 1-5 1 0 1 7 1 10 1 7 1-3 2 22 1-13 1-9 1 21 1-12 1 17 1-1 1-5 2 3 1 10 1 6 1-3 1-5 1 14 1 14 1-5 2 3 1 6 1-1 1 9 1-6 1 22 1-17 2 0 1 9 1 0 1 5 1 0 1 12 1 2 1 0 2 12 1-13 1 20 1 2 1-10 1-2 1 24 2-10 1 11 1-12 1 9 1 18 1 0 1-8 1 4 2 5 1 7 1 4 1-11 1 18 1-4 1 4 1-2 2 6 1 0 1 28 1-9 1 5 1-13 1 12 2 13 1-13 1 16 1-3 1 14 1-13 1 13 1 4 2 15 1-23 1 16 1-6 1 3 1 6 1-4 1 26 2 3 1-14 1 13 1 5 1 8 1 4 1-13 2 2 1 24 1-1 1-7 1 8 1-5 1 36 1 7 2-19 1-5 1 13 1-16 1 4 1 14 1 6 1-20 2 34 1-10 1 18 1-30 1 28 1 13 1-23 2 2 1 29 1-29 1 22 1 15 1 0 1-19 1-6 2 19 1-16 1 10 1 12 1 16 1 10 1 3 2-15 1 27 1 12 1-17 1-7 1-2 1 6 1 26 2-19 1 15 1-5 1 22 1-40 1 42 1-6 1-11 2-3 1 23 1 31 1 10 1-26 1-9 1 9 2 3 1 7 1-13 1 24 1-10 1 15 1-36 1 8 2 20 1 10 1 2 1-6 1 36 1-43 1 50 1-21 2 51 1-9 1-39 1 3 1 25 1-13 1-4 2-4 1-1 1 3 1 20 1-26 1 69 1-48 1 8 2 34 1-39 1 25 1 21 1-51 1 53 1-8 1 19 2-14 1-52 1 55 1 22 1-5 1 22 1 7 2-10 1-6 1 13 1-26 1 10 1 49 1-25 1 8 2-27 1 21 1 22 1-10 1-8 1 12 1 14 2-18 1-18 1 35 1 10 1 5 1-9 1 52 1-43 2 27 1 5 1-65 1 106 1-40 1 8 1-58 1 77 2-22 1 14 1-20 1 5 1-59 1 77 1-51 2 92 1-63 1 23 1 83 1-74 1-1 1-57 1 81 2 66 1-102 1 90 1-90 1 54 1 26 1-23 1-7 2-54 1 13 1 71 1-61 1 50 1-45 1 29 2 127 1-115 1 27 1 9 1 21 1-15 1-67 1 50 2 20 1-34 1 28 1-17 1 109 1-128 1-6 1 6 2 17 1 29 1-29 1 24 1-41 1 72 1 40 2 16 1-53 1 49 1-21 1 37 1-103 1 113 1-115 2 143 1-47 1 33 1-34 1-56 1 18 1 54 2-40 1 110 1-69 1-6 1 37 1-68 1 19 1-47 2 127 1-75 1 27 1-2 1 16 1 11 1 14 1-56 2 32 1-82 1 23 1 70 1 103 1-119 1-28 2 49 1-1 1-28 1 56 1 13 1-22 1-12 1-73 2 75 1 140 1-76 1 12 1-31 1-96 1 146 1-78 2-27 1 143 1-88 1-44 1 28 1-22 1 64 2-69 1-16 1 14 1 76 1 59 1-30 1-94 1 51 2-7 1-55 1 34 1 25 1-48 1 45 1 48 1-123 2 69 1 22 1-6 1 100 1-95 1 36 1 111 2-144 1 115 1-80 1 12 1-56 1 90 1-94 1 47 2 1 1-70 1 106 1-100 1 209 1-58 1-16 1 108 2-123 1-45 1 164 1-137 1-8 1 76 1-70 2 77 1 110 1-124 1-42 1-3 1 146 1-62 1-53 2-82 1 216 1-189 1 24 1 82 1-63 1-48 2 80 1 83 1-52 1-100 1-6 1-83 1 96 1 29 2 43 1 5 1 43 1 74 1-65 1-84 1 19 1 51 2-183 1 119 1 119 1 101 1-191 1 103 1-49 2 3 1-3 1 28 1-47 1 108 1 97 1-265 1 80 2 93 1-206 1 78 1 14 1 155 1-67 1-24 1 21 2 14 1-161 1 298 1-21 1-165 1 88 1-142 2 115 1-139 1 122 1-110 1-14 1 161 1-102 1 2 2 19 1-146 1 149 1 146 1-104 1 147 1-167 1 146 2-201 1 19 1 23 1 91 1 93 1-145 1-88 2 41 1 75 1 192 1-165 1-120 1 184 1-218 1-107 2 336 1-9 1-150 1 42 1-61 1 144 1-33 2-61 1 18 1-47 1 152 1-183 1 274 1-171 1 212 2-95 1-139 1 169 1-208 1-31 1 31 1 133 1-97 2 160 1-100 1-81 1-56 1 253 1-56 1-78 2-96 1 61 1 70 1 36 1-191 1 89 1-109 1 234 2-144 1-75 1 198 1-204 1 168 1 89 1-85 1-109 2 129 1 3 1-32 1-7 1 35 1-77 1 214 2-124 1-215 1 142 1-112 1 218 1-91 1-14 1-35 2 408 1-343 1-81 1 50 1 249 1-60 1-162 1-63 2 95 1 83 1 77 1-167 1-94 1-8 1-80 2 251 1 119 1-26 1-58 1 314 1-399 1 89 1-29 2-18 1-42 1 163 1 46 1-82 1-189 1 29 2 0 1 204 1-108 1-77 1 181 1-349 1 72 1 220 2-49 1 8 1 116 1 1 1-267 1-57 1 255 1-73 2 105 1 268 1-71 1-79 1-453 1 390 1-107 2-207 1 370 1-124 1-196 1 109 1 231 1-139 1-221 2 468 1-505 1-6 1 185 1 237 1-371 1 196 1-219 2 107 1 137 1-85 1-126 1 155 1-62 1-146 2 124 1 4 1-149 1 141 1 69 1 212 1-367 1-55 2 289 1-217 1 199 1 35 1 9 1-216 1 161 1-167 2 276 1-179 1-53 1 34 1 320 1-291 1-132 2 134 1 60 1-245 1 271 1 176 1-282 1 149 1-281 2 45 1 221 1-233 1 415 1-446 1 128 1 39 2 219 1-203 1 235 1-70 1-222 1-135 1 212 1 50 2-122 1-77 1-35 1-38 1 367 1-272 1 203 1-211 2 162 1-247 1 296 1-150 1-19 1 203 1-122 2 161 1-85 1-255 1 140 1 267 1-218 1-58 1 83 2-143 1 130 1 307 1-408 1 86 1-100 1 235 1-381 2 250 1-8 1-22 1-50 1-127 1 107 1 206 2-171 1 14 1 426 1-282 1-82 1-66 1-173 1 269 2 60 1-235 1 130 1-34 1 188 1 215 1-440 1 91 2-52 1 37 1-14 1 134 1-342 1-77 1 312 2-65 1 45 1-115 1-72 1 96 1 253 1-260 1-28 2 9 1 330 1-154 1-140 1-161 1 231 1 153 2-233 1 148 1-17 1 47 1-222 1 39 1 84 1 218 2-4 1-75 1-60 1 212 1-388 1-10 1 194 1-95 2 60 1-80 1-31 1 38 1-54 1 174 1 24 2-198 1-43 1-14 1 362 1-410 1 321 1-61 1-174 2-79 1 260 1-54 1 47 1-104 1 18 1-48 1 163 2 92 1-232 1-170 1 275 1-257 1 156 1-100 2 116 1-276 1 335 1 201 1-246 1-67 1 2 1-26 2-99 1 85 1 111 1-60 1 148 1-17 1-50 1-263 2 317 1-162 1-45 1 9 1 277 1-210 1-40 2 200 1 223 1-70 1-221 1 98 1-50 1-97 1-149 2 194 1 61 1-144 1-109 1 223 1-82 1-99 2 329 1-101 1-65 1-62 1-204 1 97 1-87 1 54 2 214 1 173 1-331 1 422 1-271 1-92 1-160 1 466 2-320 1-149 1 259 1 224 1-288 1-86 1 68 2 39 1-145 1 36 1 178 1-49 1 227 1-447 1 322 2-336 1 132 1 55 1 110 1-216 1 101 1 185 1-146 2 48 1 82 1-99 1 89 1 8 1 74 1-172 2 9 1 109 1-250 1-59 1 70 1 381 1-277 1-57 2-30 1-115 1 115 1 46 1-91 1 52 1-40 1-76 2 248 1 87 1-126 1-294 1 209 1 15 1 14 2 32 1 12 1 66 1-211 1 111 1-190 1 281 1 32 2-176 1 104 1-23 1-66 1-37 1 343 1 208 1-338 2-79 1-113 1 0 1 196 1-157 1-20 1 181 2-276 1 421 1-224 1-41 1-100 1 10 1-157 1 380 2-145 1 167 1-247 1 31 1 1 1 21 1-172 2-71 1 419 1-41 1-122 1-45 1 28 1-15 1 2 2-150 1 214 1-278 1 68 1 160 1-90 1 60 1 193 2 25 1-132 1-108 1 112 1-255 1 57 1 329 2 6 1-232 1-17 1 112 1 96 1-136 1 34 1 123 2 65 1-91 1-426 1 580 1-72 1-155 1-63 1 28 2-133 1 148 1-124 1-150 1 44 1 498 1-349 2 191 1-60 1-35 1-73 1 290 1-303 1 181 1 9 2-243 1-76 1 318 1 87 1-390 1 316 1-369 1 176 2 63 1 22 1 222 1-300 1-38 1 527 1-476 2 80 1-41 1-18 1-73 1 93 1-106 1 238 1-178 2 227 1-64 1-57 1-216 1 313 1-5 1-155 2-11 1 124 1-119 1-103 1-80 1 230 1-280 1 650 2-500 1-27 1-39 1 200 1-213 1 244 1-292 1 76 2 120 1 38 1-39 1-81 1-148 1 8 1 356 2-255 1 317 1-162 1-49 1 88 1-98 1 262 1-321 2 32 1 264 1-173 1-21 1 282 1-78 1-415 1 162 2 122 1 226 1-437 1 217 1-224 1-36 1 156 2-79 1-146 1 20 1 131 1 63 1 120 1-67 1 73 2 256 1-508 1 425 1-223 1 2 1-100 1-10 1 6 2-104 1 17 1 15 1-135 1 172 1-262 1 396 2-100 1 5 1 186 1-189 1-38 1-152 1 453 1-268 2 160 1-155 1 41 1 79 1 73 1-95 1 12 2-99 1 87 1-219 1 153 1 191 1-44 1-276 1-3 2 238 1-279 1 390 1 3 1-208 1 173 1 158 1-377 2-50 1 12 1-3 1-35 1 69 1 363 1-449 2 419 1-338 1 103 1-41 1-1 1 72 1-296 1 359 2-463 1 324 1 13 1 142 1 147 1-422 1-49 1 284 2 94 1-187 1-13 1-85 1-72 1 203 1 168 2-224 1-36 1-144 1 281 1-122 1-103 1 48 1 259 2-88 1-117 1 130 1 85 1 266 1-601 1-8 1 341 2-275 1 330 1-409 1-165 1 238 1 122 1 107 2 59 1-212 1 238 1-202 1-252 1 161 1-52 1 295 2-224 1 34 1 117 1-120 1 356 1-469 1 219 2-184 1 94 1-29 1-71 1-199 1 400 1-73 1 108 2-272 1 54 1-28 1-163 1 15 1 74 1-37 1 401 2-79 1-157 1-92 1 316 1-461 1 382 1-125 2 45 1-139 1 441 1-340 1 166 1-95 1-76 1-14 2 33 1 224 1-130 1-287 1 278 1-83 1 89 1-167 2 363 1-203 1-134 1-43 1 85 1 51 1-159 2-61 1 52 1 221 1-145 1 322 1-311 1 64 1 13 2-177 1 179 1-95 1 209 1-354 1 190 1-103 1-88 2 246 1-189 1 58 1 70 1-171 1 296 1-360 2 194 1-57 1 126 1-101 1-13 1-92 1 188 1 232 2-286 1 115 1 195 1-466 1 161 1-56 1 61 2 11 1 153 1-251 1 428 1-546 1 99 1 398 1 0 2-51 1-148 1-127 1 73 1 27 1 358 1-386 1-36 2 133 1-69 1-1 1-148 1 336 1-26 1-182 2 29 1 27 1-87 1-71 1-96 1 295 1-108 1-198 2 165 1 39 1-56 1 177 1-94 1-138 1 92 1-192 2 346 1-356 1 353 1-51 1 399 1-363 1-17 2-263 1 317 1 23 1-159 1-132 1 355 1-262 1-225 2 320 1 57 1 109 1-236 1 12 1 37 1-76 1 509 2-483 1-9 1 7 1-77 1 305 1-99 1-169 2 247 1-213 1 27 1 32 1 160 1-64 1-197 1-55 2 242 1-47 1-25 1 228 1-94 1-230 1 107 1 140 2-182 1 174 1-181 1-132 1-65 1-5 1 112 2 398 1-375 1 33 1 90 1-164 1 327 1-385 1 273 2-188 1 80 1 103 1-233 1 219 1-57 1 63 2-310 1 370 1-93 1 54 1 116 1-398 1 163 1-68 2 140 1-117 1 27 1-124 1 236 1-240 1 4 1-126 2 349 1 290 1-533 1 197 1-117 1 122 1-358 2 606 1-533 1 320 1 173 1-112 1-52 1-305 1 260 2-259 1 284 1-270 1 200 1 148 1-24 1 173 1-215 2 181 1-240 1-102 1 309 1-289 1 56 1 80 2-164 1 182 1-95 1 47 1-46 1 287 1-264 1-153 2 132 1-49 1-95 1 559 1-598 1 158 1 53 1 113 2 19 1-107 1-7 1-24 1 57 1-132 1-106 2 195 1-32 1-184 1 333 1-156 1-116 1 62 1-59 2 189 1-300 1 246 1 240 1-128 1 332 1-585 2-44 1 191 1 119 1-191 1 43 1 8 1-98 1 155 2 47 1-260 1 371 1-270 1 327 1-262 1 82 1-115 2-26 1 89 1-212 1 213 1-48 1-172 1 419 2-178 1 95 1-319 1 470 1-334 1-57 1-224 1 421 2-217 1 14 1 47 1 28 1-93 1 77 1 67 1-85 2-8 1-117 1 221 1-219 1-12 1 39 1 174 2-47 1-81 1-25 1 457 1 125 1-551 1 5 1-87 2 305 1-170 1-246 1 55 1 274 1 74 1-283 1 306 2-18 1-146 1 119 1-38 1-265 1 4 1 166 2 132 1-119 1-65 1-28 1 42 1-75 1 178 1-28 2 260 1-392 1 347 1-149 1-87 1-216 1 146 2 260 1-33 1-129 1-294 1 345 1 67 1-285 1 237 2 166 1-184 1-102 1 18 1 178 1-206 1 69 1 25 2-83 1 350 1-360 1 129 1-142 1 172 1-274 2 167 1-152 1-87 1 252 1-203 1 267 1-202 1 89 2-207 1 427 1-177 1-102 1-27 1 86 1 89 1-98 2 52 1 38 1-184 1-32 1 286 1 97 1-370 2 99 1-31 1 30 1-59 1 12 1 147 1-123 1 427 2-60 1-178 1-59 1 50 1 35 1-154 1 172 1-174 2 184 1-205 1-160 1 276 1 286 1-477 1 373 2-173 1-266 1 259 1-137 1 41 1 116 1-195 1-30 2 445 1-468 1 236 1-205 1 340 1 22 1-421 2 117 1-4 1-114 1 162 1-24 1 205 1-111 1-117 2 84 1 444 1-589 1-104 1 143 1-20 1 90 1 52 2-100 1 102 1-6 1-49 1-59 1-17 1 87 2-74 1 170 1-153 1 238 1-99 1 3 1-311 1 379 2-91 1-144 1 98 1-110 1 176 1-234 1 48 1-66 2 25 1 109 1 506 1-518 1 151 1-193 1-42 2 172 1 78 1-111 1-141 1-91 1 234 1 63 1 40 2-146 1 206 1-39 1-138 1 176 1-67 1-34 1-144 2-134 1 283 1-94 1-259 1 307 1-7 1 153 2 231 1-493 1 236 1-233 1 52 1 227 1-157 1 346 2-80 1-333 1 308 1-47 1-170 1 330 1-463 2-98 1 66 1 144 1-132 1 230 1-14 1-157 1-44 2 135 1-207 1-26 1 6 1 499 1 139 1-352 1-116 2-97 1-46 1 306 1-120 1-224 1 221 1-353 2 291 1-67 1 223 1-437 1 436 1 88 1 35 1-307 2 316 1-299 1-14 1-100 1-26 1 105 1 101 1 224 2-415 1 255 1-68 1-2" transform="scale(.1)" fill="none" stroke="#0e5783" stroke-width="9.5" stroke-linejoin="round"/>
<path d="M625 2256l1 511 1-261 1-166 2-43 1-74 1 52 1-93 1 103 1 123 1-149 1 185 2-177 1 183 1-201 1 177 1-241 1 354 1-315 1 331 2-196 1 40 1 131 1-318 1 34 1 200 1 49 2-83 1-5 1-187 1 127 1-78 1 82 1-21 1-1 2 103 1-29 1 40 1-2 1-68 1-66 1 81 1 54 2-201 1 128 1-53 1 138 1-6 1 240 1-364 2 6 1 166 1-224 1 268 1-293 1 96 1 101 1 186 2-261 1-141 1 90 1 158 1-95 1 90 1-94 2 30 1 301 1-356 1 29 1-179 1 205 1-1 1 211 2-164 1-118 1-110 1 268 1-30 1-229 1 242 1-95 2 9 1-204 1 231 1-244 1 166 1 21 1-130 2 374 1-272 1 68 1 126 1-281 1 103 1-48 1 157 2-132 1 343 1-316 1 98 1 186 1-273 1 27 1 106 2 98 1-350 1 197 1 114 1-4 1-102 1-73 2-88 1 95 1 28 1-118 1 299 1-256 1 45 1 4 2-41 1 43 1-95 1-20 1-20 1 119 1 167 1-20 2-297 1 400 1-186 1-51 1-83 1 152 1 77 2 86 1-441 1 289 1 50 1-250 1 120 1-39 1 68 2-46 1-155 1 387 1-276 1 90 1-153 1 120 2-163 1 222 1-58 1-245 1 289 1 82 1-31 1-138 2 168 1-105 1-20 1-13 1-128 1 147 1 380 1-389 2 26 1-103 1 147 1-139 1 93 1-70 1 316 2-237 1 26 1-34 1 86 1-94 1-94 1 19 1 81 2-319 1 654 1-416 1 133 1-267 1 287 1-17 1-65 2-35 1-142 1 386 1-104 1-143 1 12 1 185 2-212 1 12 1-43 1 245 1-268 1 9 1 14 1 107 2-180 1 296 1-304 1-55 1 170 1 109 1-68 1-58 2 198 1-212 1 51 1 127 1-295 1 35 1 81 2 93 1-141 1 234 1-75 1-27 1 233 1-197 1 13 2-258 1 38 1 94 1-32 1 135 1-161 1 189 2-106 1 14 1 57 1-23 1-74 1 13 1-158 1 187 2-116 1 39 1-9 1 77 1-193 1 515 1-412 1 257 2-293 1 99 1 83 1 60 1-165 1-28 1-32 2 152 1-80 1 107 1-268 1 298 1 78 1-102 1 5 2-50 1-284 1 268 1 73 1 43 1-47 1 20 1-127 2 371 1-418 1 239 1-212 1 121 1-3 1-156 2 54 1 161 1-152 1-126 1 219 1-76 1-78 1-60 2 354 1-195 1 162 1-153 1 213 1-208 1-194 1 271 2-234 1 24 1 36 1 85 1 303 1-393 1 155 2-149 1 138 1-71 1 54 1-115 1 177 1-105 1 25 2-89 1-20 1-95 1 306 1-284 1 22 1 61 2 66 1-92 1 215 1-42 1-144 1 15 1 75 1 41 2 324 1-265 1 23 1-92 1 66 1-125 1 130 1-118 2 262 1-229 1 233 1-178 1 230 1-464 1 140 2-145 1 352 1-113 1-178 1 225 1-251 1 33 1 147 2 50 1 81 1-226 1-62 1 101 1 125 1-112 1-95 2 167 1-233 1-202 1 307 1 288 1-245 1-84 2 209 1 63 1-75 1 167 1-39 1-318 1 191 1-130 2-136 1-65 1 435 1-247 1 181 1-89 1-191 1 390 2-456 1 51 1 239 1-302 1 142 1 37 1-33 2 268 1-260 1-113 1 16 1 24 1 208 1-116 1-80 2 20 1-17 1 211 1-62 1 197 1-89 1-58 2 26 1-283 1 414 1-339 1 141 1-4 1-9 1-103 2 0 1 135 1 22 1-81 1 277 1-298 1-20 1 123 2 103 1-199 1-213 1 198 1-18 1 155 1-46 2-25 1 282 1-179 1-411 1 289 1-4 1-196 1 181 2-112 1 93 1-36 1 202 1-179 1-103 1-51 1-55 2-293 1-96 1-247 1-254 1-123 1-196 1-123 2-127 1-107 1-91 1-50 1-44 1-23 1-10 1-2 2 7 1 5 1-1 1 10 1 3 1 4 1 6 1 4 2-2 1 6 1 4 1 9 1 6 1 1 1-4 2 12 1 9 1-1 1-2 1 18 1-8 1 7 1 11 2-3 1 14 1-7 1 7 1 16 1-2 1 6 1-3 2 12 1-7 1 2 1 5 1 14 1-4 1 19 2-8 1 6 1-2 1 9 1 4 1 6 1 10 1-1 2 13 1-4 1 0 1 3 1 3 1 10 1 4 2 2 1 5 1 1 1 14 1-5 1 4 1 4 1 13 2 3 1 1 1 3 1 0 1 8 1 4 1-7 1 17 2 2 1 3 1 5 1 6 1 4 1-12 1 18 2 3 1 14 1 6 1-2 1-1 1-3 1 18 1 6 2-9 1 8 1 26 1 2 1 5 1-8 1 1 1 9 2-7 1 10 1-1 1 12 1-5 1 13 1-1 2-8 1 30 1-1 1-12 1 29 1-15 1 21 1-3 2 10 1 12 1-25 1 20 1-4 1 3 1 6 1-5 2 6 1 32 1-16 1 16 1 5 1-6 1 0 2 7 1-12 1 12 1-5 1 29 1-6 1 35 1-4 2-19 1 3 1 4 1 33 1-19 1 10 1 6 2-12 1 27 1 2 1-16 1 12 1 11 1 4 1 0 2-4 1-13 1 41 1 3 1 7 1-16 1 26 1 11 2-18 1-18 1 18 1 7 1 12 1-3 1 10 2 2 1-7 1 19 1 12 1-21 1 11 1-24 1 29 2 0 1 21 1 21 1-24 1 38 1 2 1-12 1-30 2 40 1-8 1 19 1-2 1 15 1 4 1-6 2-17 1 35 1-1 1-31 1 40 1-1 1-14 1 27 2-6 1-3 1 3 1-12 1 14 1 23 1 7 1 12 2-14 1 6 1 0 1 30 1-37 1 1 1 55 2-25 1 21 1-54 1 12 1 32 1-9 1 36 1 22 2 6 1-48 1 12 1 37 1 0 1 10 1 24 2-24 1-49 1 17 1 23 1-20 1 38 1-1 1-12 2 24 1 11 1 18 1-27 1 18 1 1 1-7 1-6 2 21 1-66 1 79 1-1 1 17 1-2 1-44 2 55 1-23 1 38 1-22 1 20 1 13 1-10 1-43 2 34 1-14 1 72 1-66 1 43 1 0 1 9 1 31 2-6 1-46 1 0 1 19 1 9 1 113 1-66 2 26 1-30 1 4 1-37 1-9 1 59 1-16 1 66 2-78 1-36 1 34 1 22 1-17 1 58 1-4 1-12 2 32 1 50 1-76 1 58 1 51 1-119 1 5 2 7 1 40 1 65 1-100 1 74 1 53 1-91 1-31 2 20 1 50 1 51 1-39 1 10 1-59 1 26 2 9 1-12 1 5 1-1 1 65 1-39 1 58 1-47 2 16 1 95 1-143 1 67 1 23 1-26 1 36 1-32 2 42 1-67 1 13 1 61 1-59 1 38 1 9 2 33 1-101 1 148 1-114 1 50 1 81 1-71 1-42 2 78 1-64 1 25 1-2 1-23 1 27 1-37 1 108 2-7 1 48 1-34 1-10 1-85 1 136 1-51 2-114 1 130 1-17 1 62 1-130 1 39 1 107 1-185 2 106 1 83 1-43 1-40 1 29 1-30 1 131 1 60 2-222 1 243 1-177 1-42 1 138 1 37 1-114 2-34 1 161 1-39 1-161 1 25 1 166 1-39 1-14 2-36 1 71 1 19 1-111 1-34 1 51 1 106 2-21 1 36 1-152 1 247 1-149 1-158 1 31 1 68 2 67 1-20 1-53 1-35 1 99 1 70 1-139 1 165 2-81 1 147 1-45 1 110 1-178 1 72 1-26 2-25 1-46 1 67 1 103 1-89 1-142 1 149 1 6 2-49 1-148 1 146 1-13 1-115 1 136 1-68 1 25 2 56 1 52 1-191 1 79 1-80 1 228 1-29 2 137 1-278 1 281 1-92 1-206 1 133 1-93 1 222 2 1 1-193 1 90 1-59 1 56 1 88 1-99 1-90 2 245 1-185 1-57 1 51 1 49 1 196 1-233 2 48 1 161 1-216 1 46 1-5 1 210 1-283 1 24 2 88 1 74 1-151 1 213 1-206 1 170 1-202 1 187 2-4 1-66 1-104 1 403 1-452 1 58 1 246 2-9 1-179 1 278 1-235 1-109 1 72 1 161 1-127 2 66 1-128 1-35 1 185 1-175 1 108 1 16 2 114 1-25 1 20 1-218 1 95 1 24 1-13 1-83 2-92 1 59 1 67 1 28 1-78 1 130 1-96 1 132 2 28 1-207 1 82 1 17 1 230 1-83 1-55 2-52 1 85 1-138 1 140 1-55 1 141 1-247 1 155 2-186 1 21 1 199 1-31 1-165 1 222 1-140 1 37 2 160 1-121 1 178 1 48 1-338 1 298 1-157 2-127 1 48 1-105 1 58 1-67 1 482 1-186 1-359 2 111 1 183 1-336 1 190 1 106 1-50 1-74 1 237 2-250 1 279 1 8 1-369 1 158 1 170 1-31 2 28 1-237 1 107 1-214 1 94 1-13 1 261 1-265 2 9 1 78 1 135 1-128 1 156 1-311 1 159 2 39 1 150 1-199 1-181 1 36 1 71 1 252 1-116 2 187 1-309 1 75 1 41 1 202 1-294 1-78 1 114 2 377 1-267 1 25 1 49 1-36 1-181 1 12 2 170 1 300 1-549 1 297 1-198 1 83 1 253 1-259 2 84 1-141 1 123 1 55 1 1 1-167 1-118 1 239 2-27 1 312 1-353 1-74 1 36 1-138 1 88 2 273 1-328 1 457 1-273 1-37 1-85 1 257 1-222 2 31 1-22 1-6 1 94 1-197 1 27 1-58 1 124 2 100 1-128 1 57 1 212 1-234 1 492 1-472 2-243 1 140 1 549 1-257 1-170 1 453 1-306 1 17 2-99 1-333 1 353 1 182 1-257 1 138 1-69 2 0 1-204 1 370 1-406 1 308 1-71 1-85 1 281 2-327 1 106 1-307 1 252 1 116 1-114 1-192 1-17 2 231 1-206 1 98 1 249 1-28 1-265 1-16 2 87 1-125 1 134 1 505 1-198 1-226 1-126 1 254 2-174 1 409 1-223 1-214 1 411 1-88 1-257 1-193 2 93 1-118 1 217 1-177 1-19 1 265 1-58 2-213 1 205 1-42 1-199 1 304 1-321 1 323 1 95 2-234 1 302 1-275 1 109 1-113 1-134 1 150 1 330 2-292 1-74 1 117 1-71 1-192 1 267 1-27 2-123 1 127 1-133 1 86 1 16 1 71 1-197 1-32 2 138 1 275 1-421 1 112 1 180 1-62 1 167 2-175 1 7 1-54 1 217 1-129 1-194 1 143 1 79 2-41 1-92 1-223 1 113 1 244 1-187 1 303 1-267 2-201 1 166 1 257 1-236 1-151 1 311 1-57 2-205 1 200 1-70 1 45 1-258 1 75 1 16 1 49 2 77 1 74 1-97 1 310 1-56 1-387 1 157 1-13 2-9 1 167 1-264 1 299 1-297 1 99 1-200 2 88 1 92 1 189 1-217 1 30 1 174 1-97 1 86 2-336 1 15 1 49 1 142 1 52 1 221 1-295 1 71 2 10 1-253 1 19 1 288 1-346 1 67 1 146 2 14 1-22 1 70 1 158 1 5 1-326 1 155 1-60 2-46 1-176 1 67 1 209 1-146 1 6 1-8 2-178 1 729 1-204 1-56 1-344 1 263 1 3 1-98 2-148 1 5 1 297 1-292 1-154 1 113 1 198 1 307 2-164 1-65 1-40 1 63 1-316 1 113 1 226 2-202 1 68 1-69 1 24 1 27 1 110 1-243 1 541 2-552 1 73 1 52 1-50 1 151 1-117 1-138 1 149 2 182 1-410 1 612 1-292 1-86 1 55 1-151 2-37 1 158 1 358 1-203 1-194 1-257 1 463 1-113 2-195 1-25 1 67 1 185 1-87 1-113 1 33 1-102 2 86 1 54 1-96 1 357 1-258 1 88 1-169 2 424 1-131 1-211 1-113 1 48 1 132 1 41 1-116 2-114 1 336 1-261 1 32 1 5 1 91 1-80 2 15 1-90 1 52 1-70 1 232 1-212 1 277 1-201 2-40 1-29 1 148 1 29 1-124 1-278 1 580 1-218 2 259 1-198 1 172 1-69 1-103 1-17 1 11 2-6 1-336 1 339 1-251 1 104 1 409 1-385 1 40 2-7 1-28 1 138 1-205 1 70 1-148 1 63 1 170 2-42 1 122 1-149 1 59 1-1 1-378 1 231 2 39 1 185 1-285 1 175 1 264 1-359 1 6 1 138 2-347 1 311 1-85 1-141 1 478 1-260 1 172 1-224 2 76 1-255 1 130 1 153 1-282 1 360 1-224 2 75 1-45 1 383 1-396 1 231 1-437 1 546 1-297 2 274 1-361 1 90 1-23 1 172 1-162 1-39 1 3 2 177 1 104 1-166 1-72 1 207 1-213 1 67 2 68 1-242 1-8 1 194 1-52 1-225 1 145 1 284 2-353 1 204 1-23 1-106 1-166 1 5 1-7 2 156 1 46 1 151 1-184 1-138 1 118 1-10 1 316 2-81 1-19 1 107 1-262 1 179 1-145 1-128 1-7 2 15 1 537 1-189 1-250 1-211 1 184 1-52 2 169 1 6 1-56 1 81 1-85 1-237 1 2 1 231 2 155 1-118 1-67 1 102 1-76 1 43 1 95 1-71 2-107 1 83 1 293 1-350 1 258 1-407 1 169 2 66 1-168 1 13 1 205 1-208 1 419 1-252 1 134 2-202 1 61 1-140 1 222 1-89 1-221 1 170 1-171 2 508 1-329 1-251 1-39 1 337 1-84 1 60 2-125 1 57 1 37 1-87 1 199 1-293 1 299 1-222 2 353 1-249 1-165 1 486 1-313 1-65 1 167 2-160 1-77 1 138 1 103 1-115 1-216 1 98 1-91 2 332 1-77 1-96 1 33 1-203 1 454 1-298 1-13 2 51 1-57 1-190 1 229 1-62 1-24 1-95 2 200 1 102 1 110 1-93 1-35 1-21 1-112 1-130 2 206 1-286 1 99 1 81 1 181 1 48 1-262 1 266 2-142 1 208 1-359 1 4 1 157 1 36 1-191 2 82 1 212 1-247 1 264 1 91 1-331 1 46 1 131 2-198 1 201 1-56 1-60 1 389 1-448 1-19 1 110 2 393 1-320 1-10 1-121 1-29 1-8 1-135 2 340 1-78 1-129 1 182 1-77 1 420 1-521 1-119 2 91 1-12 1 82 1 305 1-43 1-43 1-243 2 45 1 76 1-121 1 137 1-169 1 52 1 128 1-158 2 513 1-343 1 31 1-105 1-28 1 314 1-461 1 434 2-295 1 73 1-209 1 198 1 391 1-487 1-183 2 450 1-289 1 250 1-423 1 362 1 57 1 120 1-284 2 154 1-479 1 324 1-47 1 5 1-31 1-108 1 353 2-295 1 18 1 40 1-46 1-69 1 146 1 213 2-53 1-358 1 294 1 1 1-203 1 119 1 162 1-149 2-17 1 30 1-263 1 37 1 385 1-170 1-198 1 335 2-149 1-60 1 362 1-213 1-67 1-305 1 154 2-152 1 160 1 97 1-77 1 52 1-115 1 61 1-3 2 493 1-394 1-136 1-86 1 404 1-187 1 22 2 109 1 142 1-56 1-210 1-158 1-60 1 196 1-16 2-42 1 16 1 67 1 74 1-78 1 41 1 27 1-290 2 90 1 343 1 100 1-458 1 152 1 133 1-265 2 252 1 75 1-392 1 481 1-184 1-107 1 217 1-142 2-88 1-21 1 77 1 367 1-414 1 125 1 35 1-176 2 195 1-50 1-362 1 167 1-11 1 293 1-506 2 285 1-223 1 117 1 531 1-509 1 100 1-56 1-41 2 72 1-65 1-3 1 241 1-239 1-108 1 61 1 120 2 85 1-257 1 130 1-30 1 47 1-32 1-107 2 263 1-135 1-19 1 179 1-140 1-49 1 115 1-43 2-139 1 43 1 42 1-139 1 156 1 111 1-179 2-41 1-143 1 247 1 0 1 24 1 297 1-169 1-39 2-166 1 35 1 188 1-2 1 42 1-282 1 333 1 103 2-340 1 126 1-270 1 332 1-42 1-287 1 148 2 235 1-117 1-159 1 137 1-311 1 222 1-239 1 615 2-294 1 170 1 187 1-340 1-83 1 13 1-165 1 514 2-372 1 76 1 11 1-50 1 36 1-126 1 40 2-216 1 284 1-102 1 235 1-103 1-398 1 399 1-260 2 343 1-162 1-29 1 122 1-142 1 105 1-79 1 213 2-308 1 246 1-323 1 229 1-127 1 420 1-211 2-15 1-106 1-315 1 164 1 198 1-106 1 215 1-256 2-234 1 420 1-195 1 37 1-146 1 47 1 315 1-279 2-87 1-1 1 341 1-25 1 224 1-405 1 481 2 60 1-237 1-291 1 21 1-132 1 67 1 151 1 89 2-25 1-133 1-130 1 253 1 141 1-85 1-202 2 129 1 128 1-205 1 117 1-206 1 73 1 371 1-257 2 240 1-349 1 92 1-182 1 48 1-109 1 66 1-42 2 85 1 83 1 24 1-47 1 75 1-53 1-128 2 299 1-453 1 546 1-462 1 319 1-111 1-282 1 386 2 188 1-39 1-250 1-233 1 67 1 90 1 238 1-365 2 151 1 63 1-16 1-197 1 232 1 70 1-327 2-116 1 536 1-295 1 101 1-346 1 273 1 6 1 182 2-179 1 20 1 329 1-393 1 169 1 62 1-136 1 11 2 78 1-201 1 15 1-48 1 156 1-85 1 170 2 14 1-157 1 20 1-15 1-226 1 122 1 580 1-264 2-270 1-8 1 104 1-121 1-47 1 194 1-140 2 552 1-340 1-58 1-106 1-144 1 59 1 66 1-46 2 15 1-12 1-63 1-12 1 157 1 23 1 9 1-183 2 52 1 53 1 105 1 96 1-66 1 85 1-338 2-61 1 93 1 225 1-179 1-35 1 214 1 256 1-486 2-88 1 422 1-151 1 79 1-123 1-116 1 160 1-195 2 360 1-127 1 215 1-417 1 399 1-269 1-64 2 321 1-313 1-42 1 20 1 102 1 106 1-4 1-260 2 180 1 172 1-318 1 152 1-320 1 278 1-24 1 486 2-346 1 178 1-64 1-353 1 377 1-130 1 11 2-84 1-41 1-266 1 274 1-148 1 118 1-66 1 153 2 272 1-412 1 344 1 107 1-649 1 36 1 358 2-182 1-139 1 145 1-97 1 8 1 398 1-230 1-163 2 78 1-164 1 349 1-230 1 77 1 242 1-530 1 389 2-184 1 493 1-286 1 0 1 89 1-474 1 219 2 277 1-212 1-47 1 505 1-693 1 455 1-255 1 378 2-344 1 165 1-170 1-250 1 158 1-119 1 29 1 168 2-62 1-106 1 171 1 2 1-108 1 287 1-95 2-33 1-4 1-80 1 127 1 379 1-508 1-29 1 155 2-44 1-178 1-105 1 317 1 91 1-418 1 284 1-155 2 182 1-49 1-112 1 394 1-410 1 0 1 179 2-33 1-94 1-115 1 144 1 31 1-91 1 116 1 105 2-124 1-170 1 250 1-167 1 92 1 79 1 217 2-536 1 314 1 164 1-416 1 125 1-1 1 77 1-63 2-91 1 12 1 173 1-311 1 365 1 0 1-91 1 12 2-80 1 287 1-337 1 494 1-27 1-284 1-228 2 170 1-368 1 255 1-37 1 32 1 57 1 220 1-320 2 588 1-489 1 15 1-134 1-32 1 228 1-148 1 102 2 209 1-370 1 118 1 335 1-207 1-110 1 35 2-99 1-35 1 153 1 322 1-464 1 107 1 220 1-118 2 373 1-356 1-288 1 226 1-176 1 80 1 9 1 73 2-80 1-87 1 175 1-339 1 228 1 62 1 99 2-320 1 140 1 159 1-208 1 198 1-131 1-60 1 21 2 121 1-157 1 206 1-194 1 25 1 187 1-52 2 123 1-269 1 17 1 186 1-148 1 265 1-318 1-110 2 216 1 147 1-153 1 286 1-98 1-397 1 344 1-252 2 204 1 113 1-187 1 209 1 38 1-142 1 161 2-345 1 68 1-48 1 63 1-219 1 469 1-547 1 491 2-116 1-163 1 75 1 46 1-170 1 95 1 72 1-274 2-49 1 345 1-15 1-162" transform="scale(.1)" fill="none" stroke="#167b8d" stroke-width="9.5" stroke-linejoin="round"/>
<path d="M625 2632l1-302 1 191 1 49 2-337 1 68 1 152 1-292 1 71 1 138 1 70 1-180 2 137 1 30 1 84 1-161 1-144 1 56 1 104 1-155 2-10 1 88 1-19 1-129 1 24 1 160 1-55 2-3 1 93 1 150 1-350 1 203 1-25 1-123 1 390 2-225 1 28 1-54 1-122 1 131 1-135 1-133 1 133 2 531 1-425 1-13 1 46 1-152 1 13 1 270 2-89 1-263 1 56 1 396 1-191 1 47 1-70 1 72 2-128 1-41 1-16 1-67 1 185 1 4 1-167 2 183 1 115 1-82 1-272 1 238 1-52 1 233 1-272 2-69 1 9 1-53 1 137 1 75 1-146 1 98 1-94 2 169 1-193 1-61 1 208 1-39 1-19 1-106 2 180 1 120 1-227 1 90 1 23 1-99 1-106 1 160 2-253 1 215 1-14 1-63 1-10 1 199 1-23 1-196 2 382 1-355 1-35 1 109 1 12 1 6 1-147 2-20 1 428 1-222 1-188 1 212 1-107 1-62 1 450 2 75 1-707 1 225 1 177 1-196 1 132 1-101 1 45 2 9 1-69 1 29 1 22 1 186 1-209 1-80 2-16 1 86 1 53 1-157 1 43 1 218 1-119 1-7 2-105 1 89 1-126 1-113 1 491 1-303 1 251 2 29 1-240 1-70 1 5 1 50 1 203 1-148 1 423 2-539 1 166 1-138 1 10 1-19 1 67 1 61 1-316 2 220 1 138 1 135 1-431 1 130 1 57 1-22 2 3 1-64 1 91 1-103 1 135 1-56 1-12 1 136 2-234 1 182 1 52 1-135 1 5 1-14 1-164 1 229 2-7 1 261 1-96 1-156 1 19 1-113 1 5 2 243 1-188 1 13 1-103 1 176 1 40 1-20 1-20 2 145 1-304 1 61 1-20 1 140 1-99 1-76 1 92 2-113 1 87 1 94 1 154 1-312 1-72 1 15 2 196 1-166 1 36 1 100 1 38 1-128 1 94 1-38 2 26 1-50 1 98 1-94 1 43 1 75 1-204 2-121 1 302 1-140 1 143 1-249 1 91 1-113 1 151 2 77 1-112 1 249 1 117 1-276 1-172 1 251 1-50 2-161 1 149 1-163 1 585 1-498 1-45 1 25 2 86 1 19 1 125 1-57 1-20 1 216 1-321 1-136 2 356 1-232 1-5 1 85 1-37 1 153 1-118 1-191 2 278 1 53 1-420 1 237 1 146 1-136 1 423 2-429 1-224 1 464 1-78 1-157 1 125 1-298 1 307 2-158 1-26 1 159 1 9 1-17 1 139 1-227 1 49 2-120 1 16 1-20 1 41 1 41 1 70 1-101 2-57 1 149 1-97 1-14 1 167 1 38 1-326 1 357 2-213 1 55 1-71 1 216 1-293 1-46 1 2 2 265 1-129 1-133 1 150 1 112 1 115 1-257 1 21 2 58 1 153 1-25 1 9 1-74 1-194 1 32 1-125 2-100 1 302 1-112 1 134 1 199 1-269 1 13 2 294 1-2 1-384 1 396 1-379 1 3 1 225 1-176 2-17 1 67 1-131 1 108 1 2 1 54 1-199 1 356 2-189 1-7 1-123 1 153 1-248 1 163 1 386 2-286 1-66 1-134 1 198 1-43 1 14 1-234 1 118 2 13 1-75 1 84 1 49 1-153 1 162 1 161 1-224 2 61 1 92 1-123 1 19 1 59 1-277 1 65 2 71 1 316 1-92 1-119 1-75 1-21 1 223 1-145 2 14 1 62 1 15 1-252 1 395 1-284 1 191 2-365 1 422 1-310 1 227 1-12 1-7 1-216 1 147 2 70 1-29 1-238 1 345 1-86 1 86 1-221 1 101 2-49 1 119 1-110 1 41 1-34 1 65 1 360 2-422 1 8 1 112 1-42 1-73 1-120 1 33 1 46 2 215 1-291 1 90 1-8 1 14 1-117 1 65 1-135 2-238 1-261 1-211 1-169 1-178 1-140 1-147 2-125 1-91 1-86 1-64 1-41 1-33 1 1 1 2 2 4 1 3 1 10 1 2 1 3 1 8 1 4 1 12 2 3 1 4 1 2 1 8 1-2 1 3 1 0 2 20 1-2 1-3 1 11 1 11 1-1 1 2 1 3 2 18 1-7 1 11 1 1 1 13 1-2 1 13 1-3 2 4 1 19 1-7 1 5 1 12 1-2 1 4 2 11 1 3 1 4 1-4 1 19 1-11 1 22 1 4 2-14 1 25 1-4 1 5 1 9 1-2 1 6 2 23 1-17 1 7 1 5 1 2 1 21 1-1 1 0 2-5 1 27 1-4 1 18 1-25 1 17 1 1 1 19 2-8 1 9 1 5 1-9 1 17 1 20 1-7 2 6 1-3 1 0 1 25 1-6 1 19 1-1 1 11 2 7 1-10 1 8 1 25 1-17 1 11 1-5 1 16 2-11 1 15 1 6 1 10 1 1 1-13 1 32 2 11 1-7 1-5 1-2 1 9 1 19 1 30 1-18 2 5 1 12 1-2 1 34 1-41 1 29 1-9 1 7 2 15 1-6 1-16 1 13 1-22 1 24 1 19 2-8 1 23 1 39 1-33 1 18 1-11 1 6 1 23 2-10 1 13 1-25 1 47 1 21 1-34 1-1 2 5 1 17 1-2 1 8 1 1 1 2 1 0 1 22 2 29 1-16 1-13 1 7 1 19 1-41 1 48 1 4 2 20 1 14 1-33 1 6 1 49 1-55 1 21 2 23 1-21 1 36 1-21 1 23 1 15 1-15 1 24 2-28 1 23 1 17 1-2 1-33 1 34 1 17 1 15 2-29 1 9 1 37 1 8 1-15 1 22 1 16 2-35 1 36 1 0 1-30 1 25 1-14 1 31 1 24 2-49 1 17 1 22 1-13 1 4 1 54 1 30 1-23 2-46 1 29 1 0 1-24 1 52 1-3 1-28 2 24 1 5 1 48 1-66 1 0 1 47 1-50 1 37 2 49 1 2 1-25 1-6 1-34 1 54 1 5 2-15 1 26 1-5 1-16 1 54 1 0 1-91 1 102 2-45 1 68 1 30 1-94 1 92 1-106 1 76 1 50 2-62 1 18 1-23 1 79 1-6 1 6 1-2 2-17 1-26 1 51 1 10 1 1 1-75 1 54 1-19 2 78 1-85 1 59 1 21 1-32 1 13 1 63 1-100 2 138 1-143 1 88 1 81 1-59 1 16 1-143 2 63 1 61 1-26 1 33 1-25 1-36 1 80 1 107 2-85 1-113 1 77 1-56 1 110 1-42 1 22 1 108 2-67 1-19 1-14 1 3 1 55 1-36 1 1 2-36 1 3 1 5 1 102 1 50 1-108 1 68 1-24 2-48 1 48 1-60 1 66 1-22 1 67 1 16 2-98 1 75 1-75 1-27 1 126 1-86 1 112 1-93 2-68 1 107 1 19 1-48 1-3 1 103 1-3 1-117 2 149 1-131 1 46 1-5 1 28 1-8 1 66 2 122 1-131 1-91 1-121 1 264 1-114 1-50 1 38 2 6 1 77 1 53 1-79 1 76 1-116 1 82 1-33 2-37 1 83 1-38 1 24 1 193 1-245 1 120 2 126 1-110 1-12 1-57 1-57 1 119 1-28 1 6 2 4 1 163 1-202 1-64 1-40 1 243 1-192 1 123 2-91 1 225 1-66 1-54 1 139 1 17 1 10 2-184 1 32 1-111 1 108 1 131 1 194 1-134 1-177 2-99 1-8 1 63 1 111 1-89 1 83 1-12 2-75 1 89 1 14 1-9 1-178 1 217 1-122 1 35 2-120 1 307 1-168 1-22 1 72 1 14 1-185 1 45 2 102 1-145 1 51 1 148 1-65 1 289 1-287 2-59 1 21 1 5 1 80 1-141 1 117 1 42 1 52 2-122 1 9 1 35 1-60 1 57 1-64 1 97 1 32 2-85 1 32 1-60 1-20 1 67 1 82 1-188 2 221 1-17 1-212 1 78 1 90 1 68 1-88 1 58 2 116 1-340 1 78 1 115 1 78 1-206 1 49 1 275 2-171 1-185 1 82 1 119 1 209 1-378 1 284 2-103 1-133 1 72 1 150 1-280 1 270 1-139 1 131 2-31 1-36 1 167 1 110 1-282 1 128 1-122 1-188 2 133 1 11 1-10 1 94 1 2 1 2 1-290 2-53 1 358 1-273 1 165 1-26 1-264 1 368 1-67 2-76 1-116 1 361 1 151 1-367 1 123 1 24 2 0 1 2 1 20 1-305 1 176 1 280 1 20 1-258 2 3 1 464 1-529 1 147 1-113 1-152 1 121 1 115 2 52 1 43 1-313 1 145 1-94 1 106 1-82 2 94 1 87 1 87 1-483 1 81 1 239 1-63 1 130 2 30 1-132 1 129 1-71 1-36 1-302 1 393 1-116 2 35 1 88 1-413 1 279 1 76 1-122 1-173 2 261 1-115 1 226 1-287 1 287 1-5 1-133 1 140 2-374 1 278 1 181 1 45 1-88 1-218 1-24 1-139 2 124 1 87 1-106 1-7 1 22 1-121 1 279 2-75 1 34 1-45 1-186 1 208 1-104 1 332 1-102 2-122 1 126 1-230 1 136 1 50 1-25 1-182 2 52 1 379 1-359 1 431 1-537 1-27 1 170 1 177 2-126 1 13 1-177 1-22 1 102 1 176 1-359 1 141 2 277 1-110 1-292 1 350 1-254 1 198 1-214 2 145 1-118 1 343 1-154 1-154 1 28 1-202 1 228 2 110 1-72 1 427 1-392 1-116 1-33 1-16 1 140 2-105 1 65 1 160 1-61 1-82 1 144 1-225 2 131 1 27 1-2 1-320 1 109 1 146 1-42 1 158 2-148 1 139 1-122 1 132 1-36 1-123 1-14 1-43 2 53 1-69 1-90 1 178 1 184 1-285 1 146 2 194 1-350 1 258 1-290 1 183 1-16 1 162 1-189 2 405 1-134 1-321 1 31 1 154 1 69 1-103 2 89 1-175 1 399 1-416 1-25 1 158 1-202 1 59 2-188 1 181 1 199 1-191 1 233 1-176 1 213 1-404 2-37 1 261 1 138 1-179 1 13 1 322 1-386 2-25 1 101 1 94 1-161 1-12 1 228 1-275 1 35 2-103 1 146 1-127 1 117 1 148 1-301 1 162 1-35 2-130 1 320 1-310 1 298 1-324 1 287 1-112 2-151 1 106 1-48 1 564 1-523 1 44 1-13 1 32 2 33 1 107 1-133 1-211 1 354 1-296 1-29 1 230 2 82 1-49 1-210 1 197 1-142 1 128 1-246 2 6 1 202 1 59 1-267 1 402 1-270 1 32 1 91 2-137 1 67 1-97 1 284 1-286 1 17 1 238 2-325 1 124 1 142 1-48 1-183 1 360 1-314 1-38 2-164 1 390 1-11 1 83 1-300 1 56 1-221 1 170 2 37 1 195 1-313 1 359 1-270 1 416 1-89 2-306 1-76 1 231 1-13 1 61 1 58 1-182 1-161 2 249 1-279 1 233 1-92 1 69 1-64 1 452 1-419 2-24 1-39 1 100 1 243 1-127 1-400 1 630 2-62 1-423 1 200 1 163 1-398 1 260 1-141 1-8 2-69 1-107 1 116 1 135 1-7 1-130 1 90 1 126 2-52 1 14 1-70 1-114 1 19 1 55 1 214 2-49 1-196 1-205 1 348 1-84 1 150 1-351 1-11 2 100 1-71 1 177 1-28 1-89 1 129 1 383 2-183 1-114 1-79 1-12 1-207 1 49 1-90 1 120 2 96 1-17 1-6 1 18 1 42 1-114 1 128 1 257 2-501 1-83 1 370 1-129 1 4 1-46 1 362 2-41 1-415 1 280 1 123 1-185 1-123 1 172 1 101 2-78 1 280 1-357 1-21 1-140 1-35 1 225 1 152 2-40 1-67 1-215 1-27 1 2 1 270 1-279 2 394 1-216 1-189 1 137 1 73 1 236 1-252 1 94 2-360 1 108 1 99 1-69 1 31 1 151 1-221 1-24 2 347 1-10 1-115 1 52 1-72 1 65 1-31 2 85 1 0 1-190 1-64 1 191 1-115 1-179 1 482 2-393 1 236 1-89 1-189 1 640 1-533 1-131 2 24 1-25 1-34 1 134 1-4 1 313 1-311 1 123 2 55 1-244 1 249 1-303 1 273 1 68 1 121 1-208 2 14 1-74 1-220 1 253 1 35 1 60 1 75 2-178 1-215 1-13 1 186 1 72 1 185 1-321 1-17 2-76 1 354 1-142 1 362 1-467 1 245 1-283 1 173 2 141 1-193 1 187 1 290 1-399 1-257 1 138 2 2 1-104 1 37 1 156 1-89 1 250 1-169 1 89 2-344 1 376 1-53 1-174 1 14 1 388 1-360 1 227 2-121 1 64 1-44 1-111 1-98 1 176 1-328 2 179 1 256 1-232 1 335 1-191 1 67 1-19 1-146 2 195 1-358 1 230 1-30 1-22 1 120 1-37 1-121 2 56 1-183 1 298 1-389 1 71 1-67 1 205 2-31 1-61 1-83 1 207 1 180 1-368 1 185 1-188 2 312 1-9 1 204 1-377 1 2 1-23 1-50 2 202 1 137 1 27 1-385 1 237 1 54 1-331 1 76 2 383 1-428 1 187 1-95 1 15 1 224 1-84 1-99 2-14 1-134 1 178 1 42 1-111 1 410 1-495 2 299 1 99 1-273 1 159 1-64 1-39 1-107 1 122 2-218 1-48 1 138 1 79 1 152 1-28 1-154 1 209 2-115 1-45 1-240 1 103 1 37 1 39 1 7 2 268 1-428 1 329 1-277 1 131 1-69 1-93 1 272 2-203 1 240 1 81 1-265 1-34 1-27 1 214 1 125 2-52 1 90 1 67 1-399 1-24 1 52 1-36 2-199 1 648 1-71 1-441 1 198 1-174 1-85 1 103 2 119 1-165 1 138 1 239 1-2 1 59 1-273 2 126 1 59 1-230 1 37 1-24 1 152 1-289 1 276 2-174 1 125 1-289 1 9 1 203 1 34 1-203 1 36 2 176 1-87 1 14 1-78 1 198 1-177 1-70 2 162 1-64 1-116 1-15 1 424 1-318 1-2 1-50 2 167 1-145 1-78 1 418 1-290 1 26 1 11 1-52 2-108 1 186 1-197 1 227 1 19 1 263 1-605 2 518 1-103 1-345 1 311 1-174 1 111 1 72 1 70 2-381 1 194 1 40 1-21 1 20 1 56 1 252 1-325 2-69 1 222 1-287 1 122 1-84 1 183 1-3 2-261 1 147 1 269 1-205 1 266 1-37 1-250 1-133 2 277 1-114 1-220 1 77 1-13 1 58 1 109 2-233 1 523 1-486 1 25 1 129 1 133 1 35 1-372 2 219 1 190 1-375 1 284 1-57 1 101 1-374 1 236 2 54 1-156 1 427 1-415 1 131 1 27 1 268 2-306 1 241 1-202 1 144 1-372 1 63 1-46 1-28 2 251 1 1 1-180 1 359 1-169 1-137 1 28 1 274 2-318 1-137 1 150 1 81 1-183 1 210 1-132 2-64 1 182 1-125 1 142 1-196 1 112 1 122 1-167 2-139 1 299 1-282 1 236 1-226 1 170 1-167 1 161 2-55 1 130 1-166 1 70 1-51 1-33 1-32 2-26 1 225 1-13 1 47 1-146 1 120 1 41 1-114 2 71 1-58 1 51 1 176 1-405 1 397 1 224 2-545 1-18 1 102 1-116 1 416 1-241 1-153 1 162 2 195 1-400 1 103 1-38 1 90 1 24 1 97 1 322 2-690 1 130 1-206 1 96 1 186 1 65 1-72 2-95 1 19 1 33 1-68 1 5 1-62 1 242 1-259 2 265 1-146 1 175 1 156 1-469 1 75 1 168 1-8 2-58 1 117 1-18 1-4 1-63 1-58 1 170 2-133 1-128 1 43 1 138 1 64 1 390 1-624 1-31 2 122 1 171 1-155 1 51 1-59 1-9 1 411 1-223 2-309 1 56 1 86 1-8 1 90 1-337 1 418 2 79 1-315 1 303 1-125 1-11 1 150 1-193 1 222 2-375 1 278 1-118 1-86 1 368 1-292 1-62 2 257 1-64 1-92 1-126 1-75 1 92 1 235 1-295 2-60 1 190 1 198 1-114 1-275 1 184 1-151 1 303 2-260 1-52 1-6 1 142 1 51 1-85 1-82 2 83 1 15 1 100 1 10 1-50 1 426 1-334 1-280 2 87 1 236 1-256 1 79 1-277 1 227 1-194 1 17 2 191 1 114 1-109 1 6 1-29 1 86 1-185 2 155 1 104 1-126 1-13 1 243 1 27 1-97 1-38 2-180 1 241 1 333 1-472 1 42 1-88 1 58 1 9 2-175 1 293 1-68 1 112 1 112 1-301 1 8 2-141 1 103 1-34 1-103 1 322 1 97 1-193 1 216 2-303 1-108 1 92 1 350 1-233 1-41 1 105 1 120 2-322 1 122 1-156 1 171 1-50 1-161 1 187 2 300 1-436 1 295 1-325 1 491 1-423 1 211 1-166 2-107 1-20 1 128 1-113 1 87 1-48 1-13 2 79 1 251 1-91 1-281 1 308 1-325 1 99 1-17 2 60 1 312 1-232 1-50 1-54 1 453 1-605 1 90 2-138 1 361 1-3 1 69 1-114 1-175 1-112 2 134 1 428 1-218 1-177 1 158 1 67 1 55 1-308 2-108 1 65 1 125 1 149 1 139 1-418 1 7 1 158 2-52 1-159 1 315 1-238 1 122 1 10 1-61 2 174 1-234 1 124 1 100 1-436 1 448 1-266 1 56 2 71 1-249 1 276 1-128 1-42 1-36 1 233 1-15 2-65 1-130 1 222 1-183 1-67 1 273 1-29 2 66 1-95 1-132 1 37 1-24 1 16 1 34 1-126 2 78 1 225 1 221 1-463 1-59 1 317 1-274 2 40 1 134 1 89 1-127 1 256 1-219 1-19 1-278 2 93 1 326 1 40 1-440 1 126 1 159 1-37 1 127 2-179 1 206 1 46 1-30 1-223 1-150 1 50 2 221 1-22 1-83 1-55 1-239 1 374 1 124 1-397 2 390 1 65 1-190 1-274 1 370 1 26 1-164 1 119 2-204 1-199 1 465 1-303 1-85 1 402 1-214 2 55 1-115 1 264 1 15 1-329 1 232 1-243 1 35 2 43 1-242 1 253 1-89 1 204 1-305 1 253 1 158 2-199 1-194 1 172 1-109 1-22 1 370 1-12 2 154 1-286 1 23 1 110 1-22 1-375 1 139 1 127 2 107 1-348 1 237 1-7 1-189 1 247 1 81 2-160 1-168 1 79 1 303 1-306 1-44 1 401 1-558 2 248 1-75 1 6 1-23 1 101 1-149 1 82 1 64 2-254 1 224 1-64 1-32 1-102 1 253 1-75 2-104 1 241 1-19 1-208 1 205 1-271 1 214 1 264 2 130 1-256 1-208 1 184 1-350 1 208 1-189 1 259 2-164 1 63 1 171 1-156 1-124 1 247 1-111 2 215 1-495 1 266 1 197 1-166 1-137 1 137 1 33 2 129 1-242 1 73 1-91 1 3 1 185 1 99 1 19 2-353 1 114 1 301 1-352 1 151 1 40 1-16 2-69 1 79 1-140 1-12 1-9 1 154 1-147 1 56 2-14 1 231 1-121 1 81 1-70 1 106 1-288 2-89 1 130 1-96 1 118 1 132 1 75 1-106 1-58 2 314 1-442 1 287 1-436 1 306 1 34 1-365 1 27 2 296 1-144 1 118 1-38 1 51 1-135 1 85 2 17 1 163 1-19 1 55 1-176 1-25 1-197 1 211 2 86 1-64 1-116 1-2 1 56 1-206 1 135 1 87 2 133 1-413 1 152 1 160 1-43 1 134 1-186 2-23 1-147 1 292 1 8 1 225 1-378 1 18 1 114 2-17 1 7 1-106 1 62 1-78 1 313 1-259 1 43 2-63 1-82 1 209 1-112 1 107 1-168 1 93 2 75 1 166 1-250 1 29 1 86 1-159 1-18 1 276 2-89 1-196 1-51 1 204 1-96 1-16 1-52 2 187 1-365 1 117 1-12 1 12 1 278 1 200 1-119 2-218 1-59 1-18 1 154 1 284 1-342 1 122 1-332 2 235 1 230 1-198 1-226 1-9 1 45 1 301 2-212 1 103 1 103 1-72 1 376 1-154 1-494 1 220 2 339 1-525 1 485 1-413 1 45 1 6 1-120 1-154 2 11 1 105 1 110 1 89" transform="scale(.1)" fill="none" stroke="#1b9393" stroke-width="9.5" stroke-linejoin="round"/>
<path d="M625 2149l1 93 1 45 1 79 2-117 1 122 1-39 1 156 1-128 1 23 1-118 1 192 2-152 1 20 1 106 1 209 1-201 1-87 1 35 1-92 2-48 1 161 1-267 1 162 1 52 1-258 1 210 2-51 1 117 1-147 1 136 1-68 1 68 1 3 1 41 2-6 1-204 1 212 1-16 1 115 1 54 1-194 1 2 2 30 1-118 1-107 1 177 1 73 1-72 1-115 2 100 1 149 1 105 1-325 1-4 1 176 1-178 1-50 2 112 1 14 1-205 1 8 1-36 1 213 1-135 2 106 1-150 1 314 1-176 1 347 1-254 1-154 1 429 2-282 1 180 1-39 1-141 1-70 1 77 1 11 1-245 2 250 1-134 1-92 1 163 1-96 1-128 1 139 2 96 1-266 1 491 1-292 1-44 1 174 1-180 1 61 2 96 1 395 1-104 1-491 1-43 1 165 1-55 1 5 2 41 1 84 1-36 1-153 1 32 1-66 1 264 2-198 1 33 1-171 1 194 1-200 1 205 1 108 1-190 2 129 1 86 1-50 1 19 1 8 1-65 1 37 1-172 2 219 1-45 1 139 1-274 1 138 1 145 1-12 2-60 1 167 1-409 1-31 1 564 1-470 1-46 1 47 2-51 1 63 1 1 1 27 1-18 1 37 1-194 2 163 1-138 1-10 1 224 1 75 1 8 1-162 1 35 2 84 1 23 1-49 1-10 1-157 1 262 1 7 1 33 2-186 1-41 1 10 1-131 1 102 1 192 1-249 2 21 1 340 1 119 1-154 1-272 1-72 1 143 1 98 2-218 1 332 1-260 1-68 1-2 1-3 1-1 1 255 2-274 1 158 1 65 1-117 1 31 1-166 1 10 2 283 1-114 1-75 1-18 1 69 1-183 1 311 1-281 2 27 1 372 1-74 1-151 1-99 1 9 1-116 1 101 2-41 1 119 1-111 1 140 1-5 1-73 1 49 2 39 1-16 1-15 1-17 1-43 1 11 1-243 1 60 2 326 1 29 1-126 1 33 1 47 1 44 1-272 2 63 1 128 1-206 1 122 1 65 1-27 1 56 1-229 2 68 1 154 1-182 1 300 1-398 1 448 1-431 1 158 2-6 1 149 1-151 1 162 1 52 1-89 1-249 2 247 1 269 1-319 1-124 1 176 1-76 1 93 1-73 2-56 1 174 1-301 1 43 1 292 1-301 1 94 1-47 2 216 1 4 1-209 1-42 1 5 1 38 1 188 2 70 1-40 1-106 1-65 1 27 1 213 1-182 1-136 2 380 1-446 1 110 1 189 1-163 1 355 1-185 1-6 2-17 1-142 1 78 1 59 1-20 1-296 1 210 2 33 1-220 1 189 1 11 1 135 1-240 1 171 1 112 2-353 1 102 1 114 1-43 1-7 1 9 1 453 2-116 1-378 1 83 1-45 1 191 1-109 1-277 1 65 2 66 1 243 1-281 1-80 1 131 1 94 1-2 1-39 2 122 1-248 1 163 1 30 1-235 1 233 1-55 2 39 1-94 1-22 1 1 1-18 1-35 1 135 1-150 2 124 1 288 1-178 1 80 1-160 1-74 1 148 1-146 2-15 1-118 1 190 1 169 1-190 1 126 1-28 2-140 1 123 1 159 1-294 1-100 1 109 1 161 1-232 2 174 1-27 1-133 1 280 1-208 1 6 1-39 1 68 2-28 1-47 1-19 1 367 1-377 1 178 1-136 2 2 1-43 1 24 1-220 1 249 1 65 1-45 1 209 2-155 1-192 1 153 1 42 1 203 1-293 1 443 2-384 1 299 1-249 1 98 1-8 1-135 1 29 1-173 2 22 1 233 1-258 1-93 1 65 1 206 1-176 1-95 2 196 1-74 1-17 1 22 1 223 1-222 1-51 2 286 1-56 1-320 1 196 1-20 1-34 1 161 1-15 2 21 1-122 1 194 1 76 1-155 1-178 1-72 1-84 2-213 1-135 1-145 1-286 1-132 1-163 1-147 2-117 1-88 1-89 1-73 1-44 1-22 1-12 1 10 2 7 1-4 1 14 1 5 1 3 1 12 1 4 1 7 2 3 1 8 1 5 1 10 1 3 1 6 1 12 2 7 1-2 1 7 1 4 1 14 1-3 1 10 1 4 2 3 1 15 1-2 1-8 1 27 1-1 1-2 1 19 2-12 1 26 1-3 1 11 1 14 1-7 1 12 2 5 1 18 1-2 1 6 1 5 1-9 1 16 1 2 2 26 1-20 1 15 1 11 1 2 1 0 1 8 2 6 1 21 1-13 1 16 1 9 1-5 1 11 1-10 2 35 1-8 1-1 1 28 1-7 1 14 1 12 1-22 2 14 1-2 1 11 1 24 1 0 1-1 1 1 2 14 1 2 1 9 1 11 1-2 1 11 1-8 1 31 2-10 1 3 1-7 1 27 1 0 1 7 1 7 1 11 2-6 1 7 1 26 1-1 1-6 1 15 1 1 2-6 1 6 1 27 1-13 1 13 1-15 1 20 1 6 2 22 1 4 1 9 1-15 1 49 1-23 1 20 1-23 2 5 1 49 1-15 1 21 1-4 1-9 1 9 2-3 1 3 1-1 1 29 1-11 1 16 1 10 1-5 2-17 1 26 1 0 1 43 1-23 1 0 1 40 2-22 1-36 1 39 1 23 1-25 1 68 1-52 1 9 2 51 1-40 1 17 1 53 1-36 1 11 1 15 1-7 2 21 1-20 1 19 1-2 1 56 1-59 1 31 2 26 1 0 1-17 1 3 1 26 1 25 1 12 1-38 2 25 1 48 1-56 1 17 1 19 1 3 1 3 1 11 2-1 1-50 1 17 1 71 1 63 1-91 1 17 2 16 1 6 1-25 1 44 1-4 1-16 1-26 1 66 2-21 1-6 1 28 1 12 1-19 1 68 1-16 1-4 2-1 1-29 1 21 1-25 1-11 1 55 1-38 2 49 1 14 1 20 1-18 1-14 1 50 1-37 1 21 2 71 1-108 1 103 1-19 1 22 1-10 1-86 2 88 1-36 1 68 1-100 1 17 1 54 1 147 1-109 2 38 1 18 1-14 1 11 1-32 1-1 1-25 1-2 2 41 1-9 1-35 1 108 1-40 1 34 1-21 2-54 1 166 1-95 1 24 1 7 1-116 1 29 1 94 2-43 1 32 1 21 1-93 1 96 1 116 1-186 1 51 2 66 1 89 1-141 1 26 1 126 1-60 1 61 2-78 1-16 1 71 1 10 1-163 1 207 1-68 1-89 2-25 1 293 1-192 1 31 1-112 1 104 1 84 1-69 2 68 1-156 1 198 1-53 1-113 1-26 1 96 2 143 1-105 1 239 1-317 1 52 1 25 1 88 1-88 2-67 1-81 1 269 1-135 1-46 1 327 1-291 2 46 1-53 1 0 1 74 1 8 1-34 1 102 1-49 2-137 1 328 1-310 1 234 1-34 1-176 1 87 1-49 2 15 1-11 1 245 1-206 1-32 1-11 1 116 2 129 1-293 1 133 1-139 1 44 1 74 1 1 1 128 2-153 1-40 1 262 1-201 1 61 1-163 1 150 1 169 2-147 1 176 1 11 1-240 1-52 1-83 1 173 2-152 1 166 1-145 1-34 1 260 1-54 1 69 1-190 2-9 1 71 1-111 1 129 1 185 1-133 1 13 1-105 2 283 1-206 1-35 1-149 1 138 1 48 1-26 2 161 1 8 1 34 1-166 1-95 1 76 1-128 1 302 2-19 1-377 1 81 1 119 1 332 1-21 1-125 2-241 1 269 1-144 1-213 1 407 1-121 1-194 1 208 2-230 1 99 1-115 1 284 1 119 1-170 1-107 1-35 2-105 1 184 1-135 1 131 1-23 1 35 1-180 2 470 1-345 1 53 1-45 1-56 1 170 1-47 1 44 2 42 1 126 1 19 1-315 1 132 1-34 1-68 1 51 2 106 1-111 1 56 1-210 1 12 1 288 1-181 2-50 1-58 1 326 1-417 1 263 1-28 1 47 1 45 2-105 1-138 1 65 1-13 1-20 1-2 1-25 1 322 2-206 1 190 1-160 1 162 1-216 1 271 1-286 2 100 1 103 1 253 1-262 1-116 1-16 1 16 1 167 2-144 1-73 1-107 1-121 1 338 1 106 1-165 1-50 2-27 1 64 1-130 1 110 1 8 1 56 1-119 2-132 1 218 1-95 1 237 1-28 1-178 1-46 1 21 2 169 1-1 1-2 1 95 1-351 1 337 1-213 2 75 1-223 1 180 1-63 1-34 1-34 1 306 1-198 2 34 1-76 1-77 1 99 1 3 1 113 1 198 1-36 2-241 1 64 1-80 1 54 1-20 1-167 1 4 2 162 1-15 1 381 1-408 1 37 1 111 1 134 1-171 2-111 1 239 1-174 1 104 1 35 1-164 1-138 1 198 2-74 1-16 1 154 1-115 1-104 1 222 1-233 2 160 1 17 1-69 1-168 1 146 1 44 1 137 1-219 2-154 1 147 1-11 1 278 1-103 1-326 1 312 1-75 2-190 1 6 1 433 1-150 1-152 1 122 1 49 2-266 1-45 1 214 1 137 1-139 1-86 1 61 1-269 2 275 1 110 1-249 1 635 1-461 1 114 1-208 2 51 1 172 1-258 1 128 1-255 1 242 1-81 1 37 2 131 1-358 1 143 1 8 1-69 1 479 1-503 1 383 2-209 1-235 1 116 1 173 1-31 1 184 1-74 2 104 1-26 1-195 1 235 1-24 1-243 1-232 1 250 2 399 1-215 1 230 1-374 1 8 1 121 1 25 1-409 2 345 1 217 1-429 1 24 1-116 1 121 1 152 2-97 1 24 1 224 1-258 1-168 1 276 1-317 1 142 2 226 1-183 1-27 1 70 1-57 1 130 1 114 1-329 2-34 1 271 1 107 1 50 1-80 1-34 1-217 2-204 1 146 1 120 1 12 1 70 1 64 1-173 1-153 2 348 1-205 1 204 1-10 1-55 1 152 1-115 2-357 1 460 1 208 1-368 1-130 1 15 1-133 1 161 2-77 1 69 1 119 1-93 1 71 1-249 1 67 1-4 2 99 1-7 1 349 1-126 1-51 1 264 1-558 2 394 1-375 1 115 1 62 1-305 1 273 1-51 1-210 2 327 1 203 1-312 1 148 1-97 1 22 1 45 1-298 2 129 1 22 1-20 1-9 1 29 1-57 1 162 2-76 1 120 1-265 1 130 1 80 1-123 1-187 1 141 2 194 1-157 1 54 1-36 1 4 1 73 1-140 1 240 2-90 1-33 1-89 1 446 1-9 1-385 1 26 2 6 1 348 1-454 1 112 1-9 1 31 1 32 1 81 2-268 1 95 1-1 1 483 1-469 1 52 1-81 2 18 1-128 1 184 1-36 1 198 1-281 1 79 1 228 2-212 1 42 1-37 1-57 1 75 1 223 1-9 1-302 2 103 1 156 1-90 1-127 1 238 1 22 1-180 2 134 1-101 1-31 1 6 1-15 1 165 1-59 1-92 2 385 1-620 1 207 1-88 1 234 1-241 1 85 1-185 2 246 1-96 1 184 1-235 1 157 1-243 1 36 2 158 1 58 1-89 1-111 1 348 1-140 1-29 1-34 2 195 1-358 1 143 1 156 1-115 1-57 1 113 1 2 2-68 1-107 1-47 1 93 1 59 1-57 1 73 2-15 1 18 1-34 1-233 1 185 1-25 1-68 1 147 2 122 1 72 1-319 1 200 1-83 1 280 1-261 2-6 1 163 1-212 1-47 1-123 1 209 1-232 1 164 2-38 1 224 1-260 1 54 1 155 1 309 1-416 1 41 2 14 1 180 1-455 1 345 1-277 1-46 1 167 2 211 1-246 1 386 1-81 1-189 1-125 1-35 1 263 2-100 1 73 1 270 1-388 1-134 1 50 1 455 1-201 2 39 1-111 1-55 1 102 1-122 1-72 1 35 2 205 1-345 1 26 1 314 1 229 1-158 1-168 1-144 2 32 1-151 1 286 1-91 1-214 1 111 1 0 1 53 2 399 1-171 1-220 1-36 1 5 1-12 1-1 2 142 1-84 1 109 1 120 1-397 1 109 1 331 1-343 2-95 1 187 1 80 1 72 1-150 1 114 1 150 2-213 1-170 1 164 1 16 1 158 1-198 1 151 1-360 2-19 1 124 1 87 1 25 1-42 1-225 1 235 1 383 2-421 1-29 1 113 1-23 1 79 1-156 1-155 2 380 1-86 1-133 1 268 1-368 1 93 1 36 1 99 2-64 1-142 1 325 1 29 1-91 1 12 1-134 1 188 2-306 1 195 1 328 1 23 1-415 1-52 1-39 2 119 1-186 1 9 1 137 1 199 1 136 1-598 1 677 2-502 1-155 1 123 1 272 1-100 1-276 1 397 1-301 2 256 1 12 1-139 1-139 1 33 1 138 1 27 2-184 1 124 1 22 1-180 1-67 1 253 1 92 1-50 2 144 1-274 1-4 1-37 1 379 1-346 1 64 1 168 2-202 1 70 1-143 1 75 1 14 1 72 1 118 2 7 1-44 1-197 1-85 1 176 1-29 1 121 1-85 2-112 1-64 1-42 1 467 1-316 1 79 1 237 2-78 1-287 1 274 1-91 1-160 1-21 1 293 1-310 2 280 1-95 1 94 1-212 1 88 1-21 1 449 1-386 2-13 1 5 1 238 1-319 1-148 1 155 1 75 2 92 1-175 1 116 1-235 1 87 1 25 1-159 1 127 2-178 1 11 1 255 1 155 1-319 1 132 1 3 1-30 2 75 1 302 1-393 1-33 1-86 1 169 1-215 2 126 1 185 1 53 1-267 1 467 1-278 1-62 1 2 2 109 1-12 1-178 1-74 1-38 1 153 1-174 1 222 2-23 1 20 1-50 1 133 1 22 1-127 1-127 2 110 1-46 1 190 1-141 1 281 1-348 1 8 1 39 2 62 1-246 1 207 1 73 1 229 1-378 1 181 2-199 1 90 1 82 1-179 1-11 1 56 1-12 1 11 2 1 1 310 1-302 1 40 1-54 1 135 1-133 1 159 2-149 1-25 1-98 1 321 1-231 1-10 1-115 2 298 1 4 1 32 1-164 1 336 1-348 1 111 1 29 2-317 1 56 1-32 1 300 1-122 1 247 1-406 1 51 2 90 1-213 1 94 1-45 1 630 1-457 1 43 2-110 1 304 1-114 1-254 1 240 1-71 1-134 1 174 2 102 1-249 1 103 1 257 1-495 1 117 1-93 1 21 2 258 1-134 1 41 1-101 1 42 1-37 1 9 2 310 1-386 1-12 1 86 1-140 1 100 1 126 1-84 2 233 1-199 1 128 1-19 1 274 1-242 1-260 2 419 1-432 1 207 1 209 1-210 1-38 1 70 1-220 2 128 1 154 1-222 1 390 1-452 1 69 1 155 1-227 2 3 1 250 1-87 1 242 1-164 1-61 1 322 2-112 1-11 1-254 1 145 1 27 1-19 1 60 1-198 2 107 1-36 1-4 1 459 1-456 1 224 1-231 1-38 2 228 1-284 1-21 1 14 1 68 1 16 1-109 2 101 1 421 1-672 1 695 1-360 1 218 1-273 1-149 2 534 1-273 1-181 1 68 1 186 1-361 1 442 1-141 2 72 1-226 1 27 1 164 1-264 1 30 1 290 2-351 1-90 1 113 1 3 1 61 1 23 1 23 1-182 2 176 1 116 1-139 1 34 1-57 1 274 1-224 2-119 1 181 1-124 1 212 1-59 1-131 1-214 1 225 2 1 1 82 1-233 1 146 1-255 1 711 1-342 1-98 2 234 1-268 1-63 1 255 1 131 1-402 1-44 2 115 1-36 1 261 1 207 1-654 1 68 1 107 1-44 2 227 1-236 1 181 1-77 1 48 1-134 1-80 1 322 2-275 1 197 1 14 1-204 1 74 1-193 1 532 2-233 1 46 1-9 1-26 1-67 1 24 1 227 1-390 2 159 1-1 1 52 1 123 1-92 1-100 1 48 1-256 2 313 1-276 1 379 1-272 1-80 1-51 1 149 2 134 1-19 1 174 1-273 1-124 1 417 1-258 1 265 2-344 1-65 1-11 1 440 1-159 1-183 1 279 2-384 1 200 1-14 1 133 1-166 1 16 1 311 1-353 2 135 1 107 1-275 1 184 1-82 1 147 1-321 1 88 2 3 1 359 1-362 1-52 1 306 1-49 1 44 2-247 1 134 1-104 1 86 1 0 1-77 1 112 1-102 2 159 1-110 1-63 1 52 1 73 1-176 1 65 1 134 2-266 1 243 1-80 1 262 1-384 1-103 1 196 2-115 1 134 1-159 1 66 1 29 1-46 1 247 1-183 2-15 1-117 1 340 1 315 1-597 1 87 1 152 1-304 2 323 1-246 1-77 1 252 1-221 1 366 1-185 2 71 1-189 1-55 1 245 1-106 1 31 1-157 1-3 2 129 1-25 1 30 1-138 1 314 1-73 1 34 1-390 2 243 1-115 1 183 1-8 1 49 1-83 1-111 2 85 1-13 1 69 1-184 1 56 1 241 1-150 1-163 2 217 1 58 1-102 1 4 1 172 1-108 1-161 2-114 1 441 1-540 1 229 1 102 1-82 1 3 1-70 2 36 1 2 1 217 1 70 1-126 1-196 1 132 1 89 2-323 1 236 1-21 1 106 1-120 1-196 1 74 2 304 1-75 1 86 1-342 1 161 1-293 1 213 1 85 2-89 1 103 1-125 1 125 1-217 1 57 1 183 1-169 2-56 1-26 1-113 1 269 1 143 1 319 1-184 2 28 1-210 1-136 1-20 1 175 1-82 1-102 1-50 2 127 1-205 1 289 1 58 1-277 1-63 1 55 1 195 2 2 1-101 1-72 1-29 1 347 1-258 1 463 2-321 1-166 1 250 1-73 1 196 1-247 1-99 1 76 2 156 1 36 1-186 1 142 1 64 1-87 1 110 2-358 1 142 1-160 1 227 1-164 1-29 1 203 1-124 2 63 1 18 1 326 1-343 1-64 1 388 1-126 1-121 2-158 1 50 1 107 1-317 1 336 1-88 1 92 2-32 1-81 1-152 1 104 1 89 1 83 1-224 1 257 2-61 1 56 1-88 1-9 1 122 1 296 1-742 1 51 2 89 1 193 1 4 1 34 1-84 1-31 1-48 2 223 1-310 1 61 1 330 1-191 1 117 1-410 1 322 2 18 1-57 1 2 1 130 1-188 1-74 1 486 1-338 2-150 1 19 1 207 1 31 1-72 1-78 1 31 2-8 1-205 1 638 1-400 1-83 1 42 1 107 1 35 2-156 1-183 1 109 1 65 1-225 1 312 1 82 2-370 1 405 1 52 1-451 1 196 1 252 1-30 1-254 2 495 1-485 1-70 1 14 1-27 1 162 1 130 1-282 2 2 1 72 1 96 1-41 1-68 1-84 1 205 2-51 1 93 1-38 1 160 1-160 1-150 1 141 1 166 2 215 1-190 1-168 1-282 1 301 1-334 1 371 1-207 2 183 1-152 1-50 1 265 1-38 1-237 1 30 2 80 1 237 1-430 1 169 1 25 1-88 1 94 1-136 2 197 1-340 1 105 1 297 1 16 1-392 1 237 1 66 2-139 1-25 1 394 1-550 1 187 1 150 1-149 2 91 1 204 1-361 1 47 1-57 1 260 1-160 1 258 2-324 1 35 1 11 1 11 1 307 1-288 1-134 2 29 1 177 1-228 1 147 1-159 1 72 1-104 1 293 2-27 1 107 1-220 1-18 1 29 1 147 1-343 1 209 2 253 1-379 1 559 1-424 1 3 1-133 1-19 2-48 1 269 1 51 1-234 1 220 1-116 1 24 1 63 2 25 1 5 1 180 1-333 1-122 1 202 1-84 1 131 2-89 1 144 1 62 1-126 1-179 1 69 1 295 2-342 1 239 1-160 1-145 1 54 1 215 1 86 1-54 2-296 1 15 1 115 1 91 1 18 1-143 1-145 1 118 2-18 1 440 1-149 1 94 1-400 1 82 1 59 2-152 1 278 1 103 1-223 1-242 1 17 1 59 1 35 2 56 1 518 1-453 1 231 1-20 1-315 1-121 2 112 1 182 1-280 1 57 1 187 1 70 1-171 1-148 2 132 1 375 1-433 1-88 1 271 1-13 1-231 1 255 2-89 1 98 1 292 1-589 1-35 1 138 1 259 2-182 1-46 1-41 1 8 1 72 1 101 1 39 1-277 2 99 1-116 1 166 1 105 1-153 1 14 1 14 1 15 2-24 1 46 1-42 1-58" transform="scale(.1)" fill="none" stroke="#2aa69b" stroke-width="9.5" stroke-linejoin="round"/>
<path d="M625 2371l1 20 1-248 1 391 2-257 1-116 1-36 1 106 1-189 1 229 1-55 1 33 2-30 1-24 1 32 1 115 1 160 1-332 1 18 1 79 2-53 1-141 1 264 1-69 1 53 1-90 1 67 2 88 1-59 1-11 1 20 1-209 1 291 1 105 1 36 2-340 1-7 1 11 1 14 1-97 1 165 1-144 1 294 2-35 1 57 1-251 1-21 1 19 1 177 1-235 2 131 1-22 1 162 1 1 1-140 1-194 1 167 1 271 2-367 1-29 1 51 1 264 1-33 1-154 1 29 2-35 1 173 1-268 1 132 1-130 1 163 1-90 1-79 2 73 1-51 1-23 1 110 1-154 1 223 1 44 1-104 2 137 1 71 1-247 1 128 1-75 1-43 1 73 2-92 1-94 1 129 1 122 1-306 1 26 1 303 1-60 2 81 1-251 1 65 1 2 1 232 1-143 1-115 1-74 2 163 1 34 1-37 1 60 1-154 1 133 1-95 2-164 1 113 1 86 1-124 1-35 1 75 1-75 1 52 2 175 1-102 1-184 1 163 1 9 1 63 1 2 1-55 2 161 1-95 1-56 1-56 1 285 1-184 1-165 2 48 1 137 1-32 1 30 1-30 1-77 1 18 1 51 2-21 1-107 1 19 1 21 1 182 1-141 1 8 2 161 1 15 1-215 1-29 1 197 1-32 1-230 1 192 2 39 1-70 1-190 1 162 1 90 1 120 1-88 1-101 2 83 1-231 1 213 1 173 1 17 1-305 1 181 2-152 1 44 1-44 1-202 1 142 1 132 1-28 1-116 2 231 1-339 1 252 1-58 1-154 1 333 1-369 1 313 2-78 1-60 1 157 1-200 1 9 1 98 1 161 2-232 1 113 1 136 1-107 1 48 1-66 1 23 1-64 2-168 1 93 1 0 1-71 1 82 1-9 1-69 1 283 2-104 1-225 1 89 1 170 1 31 1-95 1-99 2-14 1-41 1 95 1 1 1 168 1-133 1-151 1-70 2 268 1 31 1-129 1 10 1 152 1 24 1-205 2 225 1-329 1 84 1 216 1-217 1 38 1 60 1 2 2-118 1-104 1 288 1-225 1-5 1 196 1 174 1-299 2 189 1-183 1 90 1-68 1 35 1-146 1 119 2 47 1-146 1-17 1 223 1-256 1 409 1-306 1 34 2-33 1 242 1-246 1 524 1-456 1 7 1-57 1 154 2 9 1-168 1-181 1 175 1 1 1 122 1-117 2 27 1 30 1-128 1 96 1 131 1-355 1 278 1-158 2 292 1-250 1 120 1 62 1 95 1-13 1-328 1 197 2-55 1-79 1 170 1 9 1-208 1 14 1 58 2 217 1 101 1-238 1 88 1-165 1-3 1 5 1 1 2 30 1 39 1-82 1 103 1 414 1-601 1-50 2 89 1 101 1 10 1 68 1 53 1-87 1 31 1-33 2-3 1-76 1 133 1-273 1 212 1-59 1 212 1-392 2 316 1-17 1 42 1-238 1-48 1 222 1-245 2 156 1 57 1-165 1-70 1 151 1 59 1-163 1-6 2 182 1-109 1 189 1-18 1 40 1-37 1-184 1 31 2 59 1-139 1 270 1-187 1-139 1 102 1 205 2-282 1 17 1 143 1-52 1 173 1-126 1 489 1-485 2-129 1 63 1-33 1-40 1 225 1-189 1 214 1 74 2-147 1 26 1-162 1 25 1 71 1 109 1-172 2 281 1-183 1 165 1-176 1 38 1-43 1 30 1-121 2 11 1 75 1 50 1-47 1 55 1-42 1-141 2 151 1-127 1 184 1-117 1 266 1-201 1 21 1-147 2-105 1 174 1 174 1-406 1 336 1-109 1 105 1 24 2 168 1-209 1-125 1 167 1-109 1-3 1 171 2-257 1 131 1-215 1 142 1-139 1 70 1-85 1 295 2-126 1-64 1-17 1 180 1 72 1-121 1-286 1-11 2-72 1-259 1-232 1-193 1-160 1-159 1-134 2-126 1-98 1-79 1-62 1-42 1-36 1-3 1 3 2 8 1 5 1 6 1 10 1-2 1 15 1 9 1 10 2-5 1 6 1 21 1 1 1 9 1 6 1 1 2 5 1 9 1 14 1-3 1 12 1 12 1-2 1 7 2 10 1 4 1 10 1 20 1-11 1 6 1 13 1 4 2 15 1 5 1 6 1 0 1 11 1 4 1 13 2 7 1-1 1 20 1 5 1 1 1 8 1 5 1 9 2 18 1-7 1 17 1-1 1 14 1-7 1 16 2 12 1 2 1-1 1 5 1 2 1 25 1-6 1-7 2 38 1 1 1 4 1 3 1 7 1 11 1 10 1 5 2 21 1-22 1 20 1 4 1 4 1 5 1 9 2 5 1 14 1-10 1 14 1 19 1-2 1 27 1-19 2 5 1 24 1-1 1 2 1 14 1 4 1 10 1 16 2-2 1-22 1 32 1 16 1-11 1 32 1-2 2 7 1 0 1 5 1 10 1 38 1-9 1-25 1 21 2 32 1-18 1 16 1 20 1-11 1-22 1 20 1 38 2 9 1 10 1 27 1-40 1 28 1-23 1 8 2 35 1-7 1-8 1 11 1 33 1 8 1-3 1-33 2 56 1-68 1 40 1 11 1 10 1 31 1 0 2 13 1 5 1-4 1 6 1 7 1-15 1 35 1 15 2-7 1 10 1-21 1 56 1-46 1 109 1-26 1-87 2 69 1 41 1-25 1-21 1 41 1 36 1-21 2 7 1-54 1 27 1 26 1-50 1 58 1 17 1 8 2-2 1-48 1 49 1 24 1 26 1-68 1 112 1-75 2 53 1 16 1-2 1-37 1-42 1 125 1-105 2 75 1-8 1-72 1 95 1 7 1-6 1 38 1-28 2 9 1 52 1-69 1 43 1 23 1-36 1 57 1-41 2 36 1 58 1-69 1 37 1 26 1-10 1-46 2 50 1-42 1 121 1-90 1-13 1 42 1-109 1 164 2-77 1 117 1-84 1 65 1-91 1 43 1 98 2-51 1 86 1-108 1-63 1 52 1 12 1 23 1-102 2 171 1-23 1-38 1-73 1 53 1 85 1 46 1 3 2-138 1-20 1 145 1-58 1 80 1 66 1-104 2-117 1 137 1-8 1 47 1-60 1 3 1-7 1 11 2-39 1 184 1-205 1 45 1 136 1-116 1 199 1-109 2-141 1 41 1 134 1-40 1-69 1 125 1 66 2-15 1-149 1-19 1 56 1-39 1 4 1 243 1-153 2-97 1 66 1 36 1-93 1 144 1-145 1 90 1 3 2 78 1 87 1-296 1 147 1-14 1 94 1-187 2 310 1-260 1 385 1-267 1-73 1-124 1 128 1-21 2-69 1 156 1-165 1 202 1-105 1 46 1 39 2 231 1-460 1 369 1-238 1 209 1-217 1 154 1-151 2 196 1 54 1 178 1-396 1 96 1-49 1-135 1 60 2 42 1-42 1 208 1-35 1-185 1 187 1-151 2 37 1 13 1-128 1-20 1 260 1-182 1-87 1 254 2 108 1-228 1 2 1 140 1-149 1-65 1 130 1-91 2 164 1-195 1 265 1-265 1 22 1 112 1 144 2-104 1-21 1-107 1-146 1 298 1-199 1 375 1 63 2-245 1-153 1 212 1-12 1 128 1-184 1-141 1 384 2-173 1 127 1-313 1 136 1-180 1-74 1 279 2 245 1-307 1 117 1-114 1 97 1 13 1-185 1 146 2-130 1 92 1-79 1-110 1 40 1 320 1 24 2-204 1 268 1-226 1 107 1-336 1 129 1 206 1-343 2 131 1-139 1 127 1-109 1 376 1 207 1-369 1-12 2 137 1 75 1-129 1-120 1 99 1-257 1 302 2-334 1 158 1 64 1-56 1 94 1-120 1 92 1-174 2-9 1 72 1 216 1 191 1-323 1-172 1-34 1 209 2 393 1-406 1 130 1 42 1 104 1-207 1 5 2-10 1-90 1 5 1-30 1 245 1-108 1-153 1 315 2-430 1 142 1-21 1 30 1 62 1-84 1 142 1-25 2-58 1 321 1 188 1-631 1-23 1 43 1 211 2-183 1 152 1-170 1 358 1-160 1-42 1-23 1 133 2-317 1 80 1 259 1-57 1-285 1 104 1-168 1 57 2 93 1 174 1-223 1 301 1-160 1-225 1 69 2-117 1 304 1 345 1-220 1-271 1-24 1 276 1-41 2-179 1 128 1-216 1 224 1-281 1 180 1-28 2 88 1-150 1 182 1 100 1 78 1-220 1 80 1-272 2 110 1 36 1 114 1-19 1-88 1-69 1 107 1 263 2-296 1 262 1-388 1 193 1-49 1-184 1 183 2-93 1 121 1-62 1 138 1-152 1 523 1-487 1 24 2-143 1 36 1-42 1-92 1 262 1-57 1 136 1-375 2 481 1-108 1 130 1-411 1 24 1 280 1-72 2-115 1-15 1-53 1 175 1-305 1 397 1-81 1-39 2-229 1 196 1 238 1-371 1 87 1-43 1 210 1-113 2 211 1-164 1-152 1-17 1 311 1-44 1-91 2-116 1-7 1 27 1-16 1 23 1-102 1 296 1-265 2 195 1-272 1 115 1 88 1-208 1 161 1 80 2 117 1-129 1 249 1-253 1-209 1 183 1-72 1 322 2-400 1-27 1 9 1 104 1-22 1-13 1 212 1-398 2 393 1-254 1 153 1-33 1 8 1-125 1 121 2-196 1 392 1-295 1 192 1-36 1-325 1 251 1 218 2-173 1-162 1-23 1 232 1 183 1-306 1-31 1 163 2-89 1 119 1 122 1-416 1-47 1 371 1 35 2 57 1-167 1 156 1-430 1 213 1 44 1-284 1 276 2 140 1-7 1-101 1-286 1 107 1 25 1-18 1 110 2-9 1 172 1-43 1-143 1-35 1-34 1 279 2 120 1-306 1-77 1 117 1-123 1 106 1 59 1 220 2-288 1 88 1-221 1 199 1-172 1 162 1-80 2-7 1-7 1 0 1-94 1 54 1 237 1-62 1-259 2 521 1-490 1 24 1-77 1 491 1 4 1 43 1-201 2-422 1 743 1-359 1-324 1 308 1 171 1-256 2-54 1-22 1-90 1 433 1-192 1-6 1-145 1-125 2 539 1-450 1 179 1-79 1-8 1 70 1-224 1-123 2 166 1 131 1-60 1 80 1-24 1-161 1-72 2 445 1-187 1-3 1 20 1-352 1 242 1-146 1 52 2 97 1 112 1-322 1 174 1 159 1-80 1 83 1 30 2-229 1 167 1-155 1 64 1 41 1-163 1 9 2-64 1 210 1-59 1 7 1-48 1 71 1 465 1-624 2 208 1-208 1 227 1-2 1-133 1 71 1-16 2 107 1-88 1-96 1 153 1 66 1-92 1 47 1 45 2 27 1 147 1-361 1 226 1-168 1 57 1-75 1-53 2 84 1 61 1-139 1-126 1 235 1-8 1-77 2 281 1-119 1-119 1-19 1 78 1 56 1-98 1-129 2 66 1 20 1 48 1-55 1-133 1 194 1 48 1 251 2-186 1-223 1 44 1-78 1 401 1-279 1-79 2 327 1 14 1-186 1 315 1-127 1-374 1 251 1-292 2 8 1 104 1-45 1 334 1-366 1 191 1-53 1-80 2 94 1 142 1 25 1-304 1 178 1 26 1-205 2-45 1 539 1-207 1-19 1-47 1-87 1-77 1 99 2 58 1 1 1-239 1 107 1 25 1-62 1 136 2-200 1 29 1 178 1-152 1 155 1-72 1-127 1 114 2 92 1-102 1-76 1 153 1 70 1-158 1-10 1 243 2 209 1-284 1-142 1-14 1 75 1 139 1-207 2-188 1 708 1-582 1 186 1-24 1 140 1-147 1-174 2 18 1 172 1-350 1 92 1 211 1 204 1 143 1-414 2 474 1-559 1 70 1-2 1-186 1 277 1 54 2-95 1-144 1-1 1-5 1 344 1-452 1 74 1 129 2 41 1 41 1 147 1-46 1-256 1 380 1-289 1 41 2 28 1 71 1 365 1-531 1 110 1-123 1 34 2 33 1 243 1-436 1 343 1-393 1 438 1 4 1 37 2-440 1 330 1-311 1 80 1-5 1 266 1-138 2-124 1 418 1-423 1 395 1-372 1 68 1 100 1-11 2-86 1-192 1 68 1 209 1-207 1 226 1-251 1-18 2 285 1 12 1 3 1 35 1-34 1-231 1 125 2 13 1 78 1-2 1-14 1 160 1-313 1-60 1 169 2 42 1 351 1-381 1-176 1-45 1 123 1 300 1-198 2-63 1 214 1-267 1 243 1-163 1-52 1 263 2-126 1 258 1-311 1 49 1-116 1-82 1 345 1-337 2 71 1 162 1 93 1-267 1-30 1 92 1-83 1 67 2-139 1 82 1 103 1-291 1 392 1 4 1-251 2 23 1-37 1 253 1-105 1-149 1 127 1-7 1 259 2-268 1 325 1-324 1-30 1-55 1 15 1-216 1 506 2-90 1-215 1 77 1-155 1 130 1 1 1-1 2 210 1-190 1 4 1 112 1 46 1 79 1-281 1-156 2 292 1-322 1 259 1-163 1 101 1-121 1 228 2-99 1 69 1-179 1 232 1 216 1-445 1 185 1 4 2-32 1 127 1-157 1-44 1 250 1 72 1-287 1-118 2 304 1-206 1-220 1-19 1 460 1 32 1-429 2 87 1 125 1-124 1 414 1-370 1 281 1-152 1-32 2-29 1-130 1 87 1 56 1-258 1 125 1-40 1 29 2 69 1 124 1 61 1 36 1-217 1-157 1 330 2-179 1-80 1 197 1-13 1-110 1 3 1 273 1-324 2-20 1 10 1 47 1 310 1-31 1-215 1 42 1-231 2 371 1-3 1-194 1-78 1 248 1 47 1 9 2-20 1-299 1 56 1 124 1-57 1 360 1-480 1-91 2 189 1-78 1-81 1 297 1-2 1-238 1 24 2 70 1 266 1 261 1-513 1-9 1-74 1-38 1 46 2 377 1-212 1-126 1 166 1-122 1-33 1-29 1 342 2-220 1-212 1 169 1-241 1 190 1 213 1-236 2 234 1-459 1 100 1 102 1-187 1 357 1-217 1 458 2-234 1 47 1-230 1 134 1 87 1-93 1 28 1-104 2 303 1-45 1-218 1-115 1 175 1 75 1-144 2 139 1-91 1-284 1 320 1-177 1 95 1-9 1 26 2 180 1-134 1-124 1 307 1-195 1-239 1 181 1 181 2-364 1 89 1 298 1-134 1-97 1 41 1 173 2-11 1 107 1-155 1-312 1 72 1-70 1 237 1-185 2 306 1-20 1 124 1-347 1 61 1 117 1 112 2-185 1-13 1 5 1 111 1 36 1 272 1-568 1 100 2-27 1-85 1 167 1 4 1-47 1-26 1 144 1-45 2-192 1 62 1-24 1 125 1 109 1-255 1 102 2 243 1-7 1-261 1-153 1 274 1-64 1-113 1 114 2-142 1 357 1-112 1-159 1-38 1-93 1 189 1 144 2-184 1 256 1-34 1-274 1-19 1 39 1 67 2 48 1 39 1-325 1 189 1-15 1 357 1-390 1-120 2 193 1-13 1 143 1-123 1 122 1-139 1-3 1-45 2 161 1-306 1 250 1-175 1 151 1-4 1-121 2 362 1-240 1-78 1 112 1-79 1-176 1 274 1-220 2 366 1-227 1-41 1 61 1 86 1 197 1-393 2 267 1-425 1 596 1-148 1-332 1 69 1-4 1 94 2 29 1-138 1 206 1-39 1 93 1-29 1-79 1 173 2 27 1 88 1-313 1-22 1-64 1 152 1-126 2-134 1 209 1 121 1-265 1 80 1 168 1 53 1-214 2-256 1 274 1 2 1 194 1-252 1-72 1 145 1 61 2-83 1 159 1-184 1 80 1-69 1 54 1 114 2-127 1-229 1 41 1 240 1-60 1-112 1 92 1 0 2 135 1-33 1-29 1 247 1-200 1-67 1-193 1 144 2 315 1-342 1 147 1-249 1 125 1 374 1-373 2 51 1-120 1 331 1-357 1 242 1-306 1 159 1 17 2-277 1 439 1-279 1 410 1-244 1 64 1-277 2 22 1 81 1 161 1-133 1 237 1-244 1-52 1 141 2-142 1-92 1 289 1-114 1-106 1 268 1-319 1 359 2-190 1 223 1-358 1 68 1 394 1-400 1 195 2-355 1 68 1 69 1-71 1 289 1-238 1 296 1-128 2-242 1 64 1 447 1-294 1-156 1-128 1 72 1 407 2-275 1-16 1 50 1-131 1 174 1 268 1-143 2-90 1-234 1 144 1 268 1-431 1 100 1 162 1-68 2 259 1-349 1 59 1 160 1-315 1 425 1-386 1 47 2 65 1 123 1-250 1 211 1-46 1 74 1-19 2-95 1-57 1-5 1 100 1 75 1 202 1-102 1-101 2-16 1 39 1-279 1 143 1 95 1-155 1 200 1 133 2-100 1-344 1 143 1 8 1 51 1-20 1 39 2 238 1-305 1-113 1 256 1-236 1-111 1 75 1 13 2 129 1 6 1 66 1-32 1-104 1-110 1 487 2 99 1-377 1-16 1-189 1 212 1-188 1 157 1 140 2-23 1 23 1-65 1-59 1 184 1-251 1 94 1 97 2-22 1-109 1 52 1-93 1 9 1 126 1-184 2 24 1-1 1 50 1-108 1 207 1 123 1-299 1 89 2 84 1-40 1-71 1 206 1-145 1 22 1-25 1-279 2 209 1 277 1-169 1 426 1-692 1 481 1-284 2-118 1 255 1-51 1 162 1-327 1 6 1 141 1-34 2 335 1-309 1-15 1 388 1-386 1-61 1 354 1-368 2-20 1 61 1 176 1 20 1 64 1-264 1-127 2 377 1-479 1 156 1 17 1 19 1-80 1 152 1 76 2-257 1 92 1-19 1 1 1-20 1 190 1-165 2 52 1 313 1-570 1 588 1-387 1-17 1-151 1 215 2 318 1-328 1-137 1 373 1-217 1 19 1 29 1 235 2-378 1 205 1-112 1 30 1-167 1-21 1 102 2-5 1 253 1-135 1 199 1-282 1 10 1 56 1 222 2-361 1 399 1 37 1-325 1 59 1-160 1 237 1-172 2 33 1 97 1 149 1-156 1-210 1-41 1 253 2 17 1 162 1-269 1 212 1-90 1-68 1-105 1-37 2 277 1-316 1 13 1-20 1 163 1 268 1-295 1 264 2-320 1 70 1-8 1-3 1 251 1-395 1 302 2-166 1-208 1 378 1 46 1-271 1 143 1-136 1 181 2-268 1 68 1-74 1 215 1-101 1 46 1-45 2 64 1-211 1 103 1 235 1-194 1-90 1 252 1-124 2 239 1-273 1-90 1 81 1-195 1 96 1 83 1 263 2-226 1-15 1 115 1-38 1 93 1 93 1-122 2-104 1 100 1 40 1-189 1 264 1-260 1 84 1 190 2-503 1 421 1-72 1 206 1-287 1 52 1-80 1 120 2-155 1 73 1 215 1-333 1 353 1-247 1-150 2 49 1 179 1 188 1-320 1 141 1 6 1-184 1 35 2 191 1-93 1-251 1 262 1 51 1-83 1 445 1-269 2-188 1 3 1 251 1-243 1-126 1 179 1 103 2 53 1-296 1 87 1-49 1-35 1 148 1 177 1-231 2 132 1 82 1-152 1-73 1-99 1 91 1 144 2-71 1-329 1 181 1 33 1 5 1-56 1 94 1-67 2 45 1-1 1 326 1-168 1-165 1 24 1 80 1-121 2 201 1-271 1 94 1 331 1-335 1-40 1 113 2-112 1 61 1-27 1 207 1-76 1-98 1-116 1 177 2-21 1-128 1 50 1 85 1 89 1-27 1 205 1-237 2-248 1 546 1-308 1-84 1 2 1-66 1 71 2-12 1 81 1-63 1 265 1-270 1 29 1 304 1-353 2 85 1 111 1-122 1-219 1 228 1-3 1-215 1 65 2 105 1-91 1 296 1-139 1-38 1-38 1 89 2-206 1 407 1-421 1 236 1-99 1 302 1-249 1-206 2 206 1-143 1-99 1-75 1 426 1-81 1-80 2 125 1-98 1 84 1 73 1 66 1-166 1 98 1-111 2-32 1-46 1-121 1 426 1-284 1 59 1-17 1-89 2-58 1 115 1 79 1-147 1 62 1-91 1-92 2 376 1-155 1-10 1-27 1 143 1-226 1 112 1-85 2 102 1-258 1 40 1 245 1 266 1-56 1-203 1-239 2 148 1-23 1 147 1-131" transform="scale(.1)" fill="none" stroke="#62bca6" stroke-width="9.5" stroke-linejoin="round"/>
<path d="M625 2247l1-135 1 182 1 12 2-173 1-4 1-10 1 296 1-76 1-342 1 38 1 54 2 47 1 17 1 336 1-243 1 77 1-167 1 74 1-76 2 147 1 233 1-241 1 71 1-338 1 150 1 324 2-353 1 283 1-262 1-10 1-23 1 7 1 214 1 307 2-455 1 51 1-42 1-144 1 95 1 37 1 106 1-161 2 178 1-130 1-90 1 308 1-173 1 228 1-286 2-129 1 347 1-92 1-164 1-125 1 461 1-356 1 53 2-98 1 183 1 201 1-253 1 269 1-112 1-49 2-36 1-107 1 152 1-38 1-198 1 16 1-48 1 233 2-21 1-113 1 198 1-43 1-146 1 313 1-234 1-1 2-107 1 185 1-150 1 26 1-7 1 273 1-136 2-5 1-128 1-196 1 321 1-250 1 95 1 114 1 59 2-25 1 66 1-14 1-60 1-207 1-45 1 476 1-251 2-172 1 370 1-99 1-110 1 45 1-63 1 43 2 28 1-105 1-178 1 169 1-6 1-135 1 131 1 200 2 60 1-233 1-8 1 143 1-312 1 389 1-64 1-148 2-110 1 224 1-16 1-15 1-144 1 305 1-357 2 162 1-270 1 94 1 82 1 15 1-139 1-1 1 110 2 133 1-251 1 209 1-280 1 292 1-246 1 253 2 1 1 68 1 10 1 109 1 26 1-157 1 199 1-363 2 100 1-219 1 264 1-225 1 188 1-28 1-205 1 123 2-31 1-29 1 70 1 13 1-21 1 124 1-126 2 136 1-62 1 48 1-62 1 182 1-49 1 5 1-121 2 297 1-204 1-222 1 157 1 135 1-245 1 185 1 95 2-281 1 183 1 160 1-377 1-93 1 551 1-461 2 104 1-91 1 220 1-147 1 64 1 15 1 316 1-364 2 238 1-145 1-166 1 190 1-53 1-240 1-2 1 137 2 59 1-213 1 198 1-207 1 295 1-111 1-20 2 207 1-361 1 32 1 134 1-6 1 153 1-47 1 87 2-132 1 30 1 13 1 22 1-86 1 15 1-114 2 618 1-518 1-167 1 372 1-376 1 445 1-211 1 41 2-91 1-70 1 61 1 88 1-56 1 164 1-240 1 70 2-89 1 94 1-154 1 151 1-208 1 229 1 152 2-88 1-92 1 245 1-349 1-94 1 134 1 146 1-120 2-37 1-140 1 327 1-105 1-35 1-99 1 163 1 236 2-316 1-122 1 112 1-32 1 254 1-318 1 32 2 136 1 159 1-58 1-229 1 311 1-209 1 19 1-12 2-20 1-49 1 178 1-288 1 7 1 34 1 236 1-6 2-80 1 18 1 10 1 129 1-466 1 226 1 206 2-407 1 404 1-136 1 32 1 12 1-163 1-91 1 94 2-150 1 260 1-191 1 139 1-109 1 375 1-178 2 107 1-118 1 150 1-251 1-45 1 49 1 59 1 238 2-91 1-209 1-22 1-81 1 381 1-468 1 173 1 31 2 50 1 78 1-106 1 86 1 58 1-274 1 83 2 150 1-165 1 281 1-135 1-34 1-122 1 23 1-22 2 245 1 285 1-345 1-5 1-183 1 17 1 474 1-425 2 44 1-211 1 124 1 196 1 82 1-234 1-59 2-110 1 316 1-300 1 187 1 154 1-119 1 0 1-77 2-97 1 423 1-306 1-143 1 244 1-177 1 27 1-7 2 97 1 45 1-166 1 429 1-346 1 101 1 260 2-419 1 175 1-285 1 163 1 94 1-328 1 140 1-140 2 410 1-306 1-16 1 247 1-21 1-51 1-22 2-127 1 78 1 73 1 65 1-53 1-177 1 207 1-49 2-99 1 90 1-10 1 229 1-299 1-28 1 27 1 330 2-207 1 93 1-286 1-22 1 23 1 86 1 301 2 122 1-175 1-124 1-215 1-84 1 293 1-193 1 71 2-92 1 239 1-178 1 105 1-46 1 42 1-136 1 92 2-274 1-194 1-264 1-203 1-144 1-183 1-134 2-112 1-114 1-69 1-75 1-44 1-26 1-7 1-4 2 14 1 15 1-1 1 15 1 8 1 6 1 16 1 10 2 5 1 12 1 6 1 10 1 8 1 5 1 20 2 8 1 2 1 1 1 9 1 15 1 7 1 4 1 15 2 3 1 20 1 4 1-1 1-2 1 24 1 16 1-1 2 13 1-1 1 21 1 17 1-10 1 10 1 4 2 9 1 19 1 9 1-1 1 21 1-6 1 0 1 35 2-4 1 15 1 8 1 4 1 23 1-26 1 32 2 0 1 15 1-3 1 32 1 3 1-2 1-3 1 47 2-17 1-1 1 18 1 4 1 18 1 2 1 4 1 1 2 39 1-20 1 25 1-8 1 32 1 29 1-28 2 34 1-22 1 12 1 20 1-17 1 13 1 26 1-15 2 16 1-1 1 13 1 46 1 3 1 13 1-6 1-32 2 68 1 14 1-7 1 21 1-22 1 49 1-12 2-37 1 6 1 48 1 37 1-42 1 3 1 72 1-54 2 25 1 20 1 37 1-33 1-2 1 55 1-13 1-18 2 21 1 0 1 11 1 17 1 1 1-24 1 62 2-47 1 45 1 14 1-17 1 57 1-105 1 71 1 41 2-9 1 61 1-76 1 148 1-80 1-56 1 72 2 18 1-2 1 2 1 30 1-15 1 7 1-20 1 9 2-23 1 110 1 0 1-56 1 51 1-26 1-2 1-28 2 146 1-66 1 0 1-39 1 68 1-22 1 39 2-45 1 113 1 91 1-84 1-87 1 52 1 5 1-29 2 34 1-70 1-25 1 112 1 1 1 64 1-88 1-57 2 59 1 70 1-66 1 63 1-28 1 87 1 8 2-69 1-69 1 181 1-144 1-50 1 200 1-103 1 32 2-78 1 69 1 62 1 25 1 22 1-59 1 113 1 119 2-132 1-69 1-88 1 311 1-162 1-68 1 29 2 94 1 31 1-120 1-35 1 136 1 27 1-171 1-35 2 219 1 40 1 21 1-218 1 22 1 89 1-84 2 69 1-70 1 46 1 246 1-165 1-50 1 0 1 3 2 180 1 44 1-84 1 46 1-101 1-67 1 72 1 143 2-176 1 126 1-46 1-107 1 3 1 122 1 8 2-237 1 66 1 115 1-13 1-15 1-136 1 169 1-117 2 117 1-36 1-113 1 37 1 243 1-169 1 205 1-292 2 634 1-492 1-89 1 184 1 17 1-134 1 161 2-172 1 45 1 47 1-261 1 365 1 7 1-73 1-227 2-53 1 347 1-3 1-375 1 405 1-1 1-122 1 173 2-80 1-244 1-99 1 329 1-159 1-95 1 9 2 270 1-3 1-214 1 115 1-130 1 45 1 186 1-298 2-11 1 149 1-24 1 77 1-68 1 340 1-262 2 137 1-356 1 425 1-262 1-18 1 82 1-95 1-113 2 149 1 220 1-226 1 91 1 4 1-34 1-4 1-51 2-94 1 322 1-359 1 11 1 155 1 58 1 105 2-206 1 47 1-245 1 181 1 316 1-376 1 113 1 175 2-250 1 110 1-209 1 144 1 140 1 114 1-339 1 372 2-372 1 26 1 131 1-135 1 156 1-119 1 176 2-68 1 102 1-149 1 158 1-40 1-370 1 475 1-371 2 94 1-133 1 48 1 102 1 24 1 101 1-97 1-72 2-36 1 72 1 64 1-149 1 140 1-87 1 294 2-315 1 106 1 154 1-147 1 81 1-372 1 454 1-209 2-45 1 483 1-412 1 114 1 95 1-30 1-220 2-140 1 302 1-184 1-17 1 111 1-211 1 44 1 134 2 48 1-82 1 14 1 198 1-161 1 127 1-69 1-140 2 139 1-85 1 113 1-134 1-53 1 179 1-333 2 424 1-141 1-38 1-144 1-58 1 233 1-218 1 68 2-25 1 252 1-52 1-105 1 35 1-59 1-167 1 274 2 181 1-271 1 224 1-365 1 93 1-121 1 75 2 188 1 18 1-148 1 71 1-129 1 239 1-161 1 2 2 77 1-54 1 170 1-124 1 240 1-267 1-57 1-31 2 114 1 53 1-188 1 71 1-113 1 225 1-77 2 45 1 383 1-108 1 68 1-470 1-160 1 293 1 216 2-12 1-339 1 261 1-13 1 57 1-106 1 88 1-2 2-265 1 49 1 286 1-231 1-90 1 87 1 167 2 167 1-242 1-93 1-204 1 99 1 25 1 18 1-63 2-46 1 274 1-148 1-153 1 140 1 80 1-119 2-55 1 90 1 149 1-119 1 18 1 12 1 108 1-178 2-52 1 75 1-1 1 121 1-39 1 122 1-326 1 105 2 136 1 210 1-499 1 372 1-259 1 40 1 134 2-245 1 255 1-78 1-87 1 87 1 315 1-261 1-19 2 246 1-266 1-41 1-67 1 306 1-97 1-273 1 11 2 78 1-103 1 275 1-294 1 107 1 276 1-50 2 3 1-114 1-109 1 49 1 108 1-141 1 45 1-112 2-85 1 319 1 59 1-216 1-124 1 225 1-166 1-126 2 261 1 142 1-151 1 26 1-61 1 86 1-172 2 248 1-141 1 98 1-140 1-130 1 380 1-240 1 37 2-161 1 129 1-56 1 276 1-301 1-124 1 95 2-30 1 56 1 261 1 139 1-147 1 132 1 30 1-398 2 168 1-182 1 51 1-195 1 168 1-85 1 149 1-63 2-134 1 203 1 277 1-396 1 46 1 38 1-70 2 170 1-123 1 334 1-97 1-240 1 588 1-586 1 90 2-255 1 282 1-33 1 169 1-268 1 292 1 321 1-363 2-231 1 79 1-168 1 300 1-221 1 6 1 194 2-99 1-100 1-134 1 357 1-181 1 372 1 15 1-374 2 163 1-136 1 132 1-287 1 224 1 36 1-298 1 201 2-6 1 268 1-409 1 307 1-277 1 365 1-82 2-246 1 45 1 87 1-207 1 277 1-129 1-53 1 15 2 148 1-73 1 24 1-97 1-122 1 249 1-147 2-14 1 284 1-155 1-50 1-83 1 142 1-222 1 48 2 310 1-122 1-256 1 7 1 397 1-85 1-176 1 90 2 47 1-83 1-241 1 122 1-66 1 395 1-235 2-36 1-1 1-70 1 246 1-255 1 37 1 4 1-14 2-81 1 338 1-410 1 412 1-153 1-56 1-11 1 67 2 27 1-128 1 117 1-150 1 130 1 324 1-186 2 37 1-337 1 443 1-402 1 472 1-219 1-251 1 93 2 211 1-258 1 63 1 348 1-474 1 8 1 158 1 6 2-3 1 83 1-14 1-152 1 33 1 253 1-177 2-152 1 59 1-39 1-88 1 245 1 49 1-205 1-75 2 122 1 52 1 28 1-228 1 36 1 148 1 209 2-20 1-74 1-132 1 17 1-125 1 381 1-468 1 96 2-26 1 265 1-79 1 9 1 82 1-449 1 309 1-157 2 495 1-331 1 58 1-3 1-104 1 195 1-84 2-245 1 149 1-61 1 5 1-38 1 277 1-211 1 197 2-180 1 167 1-273 1 328 1 64 1-198 1 95 1-79 2-13 1-114 1 45 1-94 1-80 1 26 1 603 2-568 1 363 1-379 1 110 1-102 1 36 1 114 1 71 2 114 1-2 1 38 1-258 1 0 1-115 1 1 1-2 2 47 1 50 1-40 1 250 1-70 1-219 1-34 2 37 1 226 1-22 1-368 1 263 1-154 1 627 1-482 2 25 1-19 1 50 1 126 1-147 1-52 1-26 2-158 1 204 1-62 1 173 1 418 1-503 1 79 1-4 2 232 1-174 1-206 1-23 1-33 1-39 1 312 1-175 2-44 1 482 1-373 1-294 1 267 1 56 1-161 2 268 1-233 1 343 1-264 1-100 1 123 1 153 1-97 2-241 1 31 1 186 1-208 1 365 1-476 1 203 1-146 2 132 1 199 1-99 1 28 1-181 1 9 1 207 2 79 1-97 1-201 1 240 1-166 1-49 1 30 1-16 2-166 1 262 1 104 1-322 1 208 1 13 1 84 1-106 2 71 1-324 1 131 1 197 1-19 1-106 1-160 2-87 1 228 1-138 1 151 1 160 1 156 1-232 1-1 2-240 1 166 1 434 1-386 1-148 1 234 1-120 2-150 1-1 1 103 1 30 1 85 1-82 1-206 1 284 2 21 1-217 1 263 1-154 1 167 1-93 1-88 1-152 2 113 1 129 1-88 1 42 1-108 1 76 1-58 2 153 1-38 1-106 1-58 1 146 1 19 1 155 1-103 2-281 1 212 1-117 1 225 1-147 1 227 1-207 1-91 2 80 1 49 1-87 1 143 1 49 1-265 1 186 2-105 1-71 1 243 1 25 1-327 1-25 1 206 1-64 2 58 1 463 1-637 1 263 1-161 1-1 1 277 1 134 2-133 1 99 1-390 1 292 1-318 1 190 1-24 2 29 1 365 1-475 1 101 1 59 1-229 1 25 1 251 2-189 1-130 1 121 1 6 1 29 1-61 1 270 1-83 2 41 1 57 1-130 1-83 1-22 1 98 1 57 2-350 1 405 1-404 1-1 1 458 1-323 1 105 1-310 2 129 1 54 1 273 1-320 1 23 1 119 1-43 2 69 1 51 1-304 1 120 1 113 1 71 1-193 1 172 2-96 1 144 1 214 1-404 1 297 1-366 1 69 1 280 2-195 1-59 1-33 1 147 1-209 1 261 1-162 2-50 1-165 1 214 1-4 1 544 1-566 1 59 1 1 2-42 1 60 1 34 1 107 1-408 1 188 1-60 1 315 2-59 1 72 1-186 1-64 1 178 1-130 1 10 2 72 1-257 1 46 1 242 1-309 1 377 1-272 1-23 2 78 1 105 1-144 1 371 1-17 1-60 1-42 1 0 2-153 1 39 1 36 1 118 1-179 1-98 1-64 2 228 1 136 1 169 1-481 1-6 1 51 1 561 1-700 2 256 1-75 1-33 1-99 1 234 1 41 1 111 2-508 1 288 1 118 1-235 1 188 1-193 1 51 1-132 2 226 1-177 1-76 1 263 1 5 1-168 1-21 1 133 2 322 1-164 1-127 1 85 1-249 1 5 1 92 2-124 1 83 1 209 1-11 1-11 1-192 1 535 1-458 2-286 1 159 1 135 1 59 1 21 1-62 1-37 1-17 2 13 1-102 1-42 1 80 1 59 1-5 1 18 2 209 1-149 1 253 1-470 1 123 1 95 1-87 1 55 2 120 1-187 1 223 1-294 1 24 1-26 1 263 1-124 2 77 1 36 1-182 1-55 1-73 1 259 1-254 2 83 1 56 1 151 1-116 1-117 1-64 1 0 1 146 2-1 1 30 1-37 1 206 1-158 1-186 1 149 2 333 1 43 1-187 1-195 1-142 1 199 1 197 1-281 2-196 1 204 1 175 1 206 1-455 1 107 1 59 1-293 2 179 1-32 1 284 1-141 1 6 1-134 1-16 2 168 1-314 1 324 1-6 1 134 1 117 1-516 1 276 2-113 1-149 1 208 1 23 1-76 1 531 1-727 1 319 2-70 1-216 1 371 1 165 1-337 1 28 1-287 2 152 1 15 1 66 1-167 1 63 1 71 1 48 1 34 2 187 1-236 1 131 1-251 1 402 1-196 1-108 1 13 2-9 1 133 1-116 1-27 1-211 1 164 1 380 2-477 1 102 1 287 1-215 1-212 1 246 1 85 1 123 2-402 1 345 1-232 1-33 1 16 1 374 1-290 2 128 1-58 1-60 1-2 1-82 1-42 1 170 1-177 2-102 1 235 1-150 1 378 1-339 1 138 1 128 1-156 2-147 1 145 1-132 1 150 1 62 1-222 1 6 2-33 1 70 1-59 1 232 1-36 1 128 1-92 1-151 2-64 1 137 1 164 1-11 1-448 1 529 1-287 1 141 2-199 1 373 1-215 1-14 1-290 1 291 1-66 2-67 1 151 1-66 1 339 1-469 1-7 1 229 1-72 2 87 1-122 1-173 1 336 1-115 1-142 1 553 1-620 2 165 1-152 1 189 1-122 1-3 1-11 1-12 2 95 1 0 1 84 1-88 1 53 1-3 1-82 1 289 2-193 1 165 1 105 1-269 1 365 1-367 1 131 2-249 1 69 1 135 1-276 1 223 1-142 1 21 1 272 2-38 1-176 1-211 1 155 1-188 1 225 1 90 1-278 2 647 1-109 1-337 1 481 1-497 1 60 1-130 2 577 1-596 1 216 1-48 1 75 1 111 1-148 1 23 2-152 1 28 1 208 1-291 1 53 1 162 1-71 1-37 2 61 1-124 1 285 1-30 1-216 1 97 1-99 2-27 1 12 1 100 1-143 1-13 1 125 1 130 1-282 2 112 1-42 1 54 1-175 1 78 1 80 1-2 1-41 2 102 1 356 1-312 1-241 1 33 1 157 1-219 2 56 1-30 1 136 1 153 1-305 1 233 1 88 1-16 2 54 1-64 1-102 1-120 1 354 1-234 1-3 1-66 2 289 1-311 1 53 1-91 1-53 1 70 1-161 2 211 1-136 1 74 1-67 1-19 1 118 1 283 1-250 2-156 1 243 1-105 1-76 1 466 1-411 1-93 2 327 1-258 1 196 1-91 1-188 1 47 1 140 1-104 2 4 1-67 1 109 1 352 1-400 1 148 1-29 1-16 2-60 1 6 1 357 1-205 1-219 1 113 1 295 2-108 1-159 1-97 1 336 1-432 1 94 1-73 1-111 2 286 1 47 1-5 1-140 1-24 1 11 1 85 1-32 2 35 1 5 1-112 1 13 1 119 1-102 1 262 2-447 1 127 1 326 1-323 1 185 1-32 1 123 1-261 2 267 1-147 1-131 1 146 1-168 1 261 1-339 1 371 2-308 1 84 1-77 1-84 1 178 1-197 1 103 2 303 1-111 1-77 1 80 1-294 1 403 1-260 1 116 2-69 1-181 1 283 1-80 1-204 1 73 1 93 2-102 1 323 1-172 1 77 1-306 1 113 1 296 1-143 2 107 1-66 1-98 1 62 1-87 1 154 1 59 1-210 2-82 1 260 1-283 1 152 1 127 1-89 1-93 2-64 1 147 1 21 1 77 1-149 1 74 1-103 1 25 2 113 1-138 1-162 1 263 1 26 1 164 1-71 1-155 2-249 1 102 1 40 1 208 1 63 1-175 1-77 2 172 1 96 1-224 1-96 1 427 1-130 1 46 1 73 2-241 1 92 1-118 1-193 1 0 1 335 1-175 1 160 2-78 1-235 1 255 1-79 1 123 1 236 1-404 2-190 1 380 1-127 1 228 1-472 1 285 1-119 1 44 2 8 1 97 1-147 1 127 1-262 1 120 1 58 2 391 1-452 1 98 1-305 1 346 1-196 1 184 1-18 2-148 1 274 1-150 1 266 1-520 1 271 1 354 1-370 2 147 1 102 1-318 1-114 1 6 1-62 1 53 2 317 1-85 1-191 1-18 1 213 1 26 1 32 1-47 2-60 1 69 1-234 1 37 1 401 1-247 1-17 1-128 2 178 1-45 1-23 1-56 1 432 1-372 1-121 2-62 1 160 1 322 1-465 1 31 1 94 1-213 1 482 2-248 1-121 1 43 1-153 1 405 1 6 1-129 1-69 2 34 1-1 1-64 1 269 1-311 1 266 1-252 2 143 1-38 1-88 1-25 1 21 1 140 1 150 1-155 2 113 1-398 1 193 1 286 1-358 1 64 1 198 2-29 1-305 1 259 1 7 1-211 1 220 1 61 1-173 2 95 1-157 1 112 1-26 1 113 1-137 1-32 1-21 2 253 1-49 1-226 1 72 1 103 1-94 1 92 2-65 1-146 1 136 1-82 1-25 1 120 1-63 1 270 2-99 1 93 1-21 1-241 1 271 1-374 1 282 1-341 2 348 1-135 1-97 1 26 1 296 1-376 1 224 2 25 1-118 1-25 1-151 1 118 1 88 1 51 1-201 2 251 1 8 1-101 1 114 1-184 1 52 1-87 1-213 2 372 1-112 1 324 1-300 1-6 1 101 1-171 2 207 1-162 1 70 1 144 1 213 1-288 1-96 1-136 2 75 1-189 1 264 1-148 1 236 1-141 1 58 2 177 1-339 1 417 1-444 1 461 1-268 1-26 1-174 2 79 1 287 1-251 1 110 1-215 1 79 1 117 1-136 2 160 1 184 1-366 1 114 1-39 1 127 1 88 2-108 1 74 1-21 1-357 1 313 1-171 1 16 1 207 2 150 1-174 1-29 1-157 1 72 1 85 1 200 1-241 2 23 1 80 1 30 1 47" transform="scale(.1)" fill="none" stroke="#a9cfc0" stroke-width="9.5" stroke-linejoin="round"/>
<path d="M625 2394l1-177 1-25 1-114 2 60 1 119 1-138 1 67 1-41 1 125 1 120 1-213 2 113 1-275 1 392 1-15 1-236 1 4 1 185 1-124 2 178 1-128 1-138 1 215 1-344 1 99 1 198 2-167 1-117 1 264 1-39 1 42 1 51 1-342 1 286 2-159 1-90 1 164 1 170 1 16 1-332 1 272 1 160 2-289 1 70 1-80 1-96 1 17 1-29 1 37 2 282 1-85 1-145 1-67 1 560 1-494 1 70 1 87 2 121 1-392 1 279 1-70 1-17 1-93 1 333 2-207 1 52 1-10 1-248 1 284 1-148 1-119 1 231 2-63 1-58 1 21 1 54 1-139 1-43 1 290 1-333 2 143 1 102 1-155 1 269 1-237 1 122 1 162 2-171 1-8 1-127 1 292 1-293 1 178 1-243 1 3 2 132 1-203 1 273 1-32 1-198 1 378 1-290 1-136 2 220 1 236 1-384 1 116 1 60 1 9 1-128 2 279 1-152 1 7 1-162 1 237 1-367 1 276 1 69 2-70 1-77 1 117 1-150 1 136 1-190 1 2 1-46 2 372 1-393 1 221 1-110 1-78 1 72 1 378 2-305 1-58 1-17 1 301 1-435 1 109 1 142 1-236 2 160 1 48 1-85 1 73 1-28 1 165 1-177 2-106 1 210 1 169 1-205 1 88 1 17 1-128 1 137 2-64 1-189 1 196 1-102 1 134 1-76 1-9 1-28 2-17 1 270 1-35 1-89 1-154 1 52 1-151 2 108 1 98 1 18 1-194 1 31 1 96 1-138 1-28 2 52 1-87 1 234 1-90 1 164 1-215 1 122 1 31 2-72 1 169 1-237 1 566 1-325 1-240 1-18 2-4 1 162 1 111 1-302 1-82 1 178 1 127 1-292 2 223 1-69 1 75 1-46 1 74 1-26 1 53 1-105 2-58 1 53 1-44 1 315 1-390 1 342 1-88 2 108 1-134 1-22 1-253 1 89 1 104 1 57 1 190 2-325 1 326 1-266 1 125 1 57 1-203 1 92 2 17 1 4 1-185 1 26 1 330 1-203 1-106 1 223 2-256 1 144 1-55 1-88 1 88 1-91 1 114 1-89 2 321 1-387 1 124 1 61 1-129 1-106 1 175 2-251 1 273 1 56 1-128 1-95 1 244 1-143 1 87 2 234 1-110 1-388 1 99 1 89 1-54 1 362 1-457 2 438 1-328 1-58 1-2 1 197 1-220 1 235 2 18 1-71 1 33 1-14 1-60 1 43 1 336 1-385 2-154 1 192 1-231 1 274 1-235 1 164 1-101 1 43 2 312 1-262 1 95 1-122 1-27 1 128 1-35 2-5 1-63 1-101 1 38 1-46 1 227 1 170 1-281 2-63 1 503 1-422 1 63 1-251 1 202 1 41 2 178 1-118 1 132 1-284 1 281 1-314 1 125 1-114 2 122 1 176 1-355 1 97 1-68 1 115 1 48 1-233 2 459 1-334 1-151 1 336 1-89 1-98 1 29 2 237 1-144 1-235 1 109 1 139 1-202 1 127 1-152 2 134 1 98 1-81 1-82 1 88 1-165 1 71 1 136 2-58 1 247 1-299 1 339 1-346 1 181 1-172 2 37 1-13 1 57 1-105 1 178 1-61 1-104 1 86 2 46 1-99 1 296 1-90 1-288 1 145 1 26 1-189 2 111 1-36 1 448 1-280 1-170 1 91 1-186 2 198 1-5 1-51 1-6 1 123 1 97 1-15 1-70 2-76 1-225 1 310 1-80 1-79 1-25 1 54 2-75 1-3 1 54 1 136 1-22 1-50 1-205 1 408 2-416 1 184 1 15 1 154 1-288 1 279 1-300 1 152 2 83 1-176 1-91 1 128 1-79 1 187 1-189 2 17 1-71 1-38 1 382 1-301 1 333 1-404 1 436 2-300 1 75 1 201 1-152 1 271 1-394 1 87 1-276 2-116 1-229 1-103 1-221 1-173 1-156 1-151 2-131 1-96 1-74 1-68 1-55 1-23 1-4 1 7 2 15 1 6 1 13 1 7 1 17 1 5 1 11 1 11 2 7 1 6 1 13 1 20 1 0 1 17 1 5 2 24 1 6 1 1 1 17 1 0 1 19 1 5 1 8 2 19 1-3 1 21 1 0 1 7 1 33 1 16 1-22 2 7 1 31 1 10 1 3 1 5 1 11 1 19 2 13 1-11 1 19 1 1 1 16 1 4 1 32 1-10 2 10 1 7 1 33 1-2 1 19 1 16 1-14 2 15 1 7 1 23 1 15 1-4 1 11 1 14 1 3 2 25 1-8 1 41 1-8 1 18 1 8 1 23 1 1 2-19 1 40 1-11 1 26 1 2 1-18 1 41 2 13 1 12 1-25 1 48 1 3 1 26 1-39 1 27 2 52 1-2 1-26 1 34 1 7 1-35 1 41 1-2 2 30 1 1 1 22 1 57 1-39 1 8 1-17 2 41 1 23 1-24 1 77 1-61 1 41 1-13 1 51 2-31 1 76 1 51 1-68 1-3 1 25 1-26 1 22 2 28 1 24 1-40 1 56 1 0 1-17 1 22 2 32 1 19 1-46 1 76 1-45 1 82 1-76 1 1 2-36 1 59 1-57 1 133 1 41 1-129 1-2 2 76 1 23 1-9 1-9 1 13 1 10 1 69 1-73 2-11 1 48 1 17 1 93 1-82 1 9 1-1 1 75 2-70 1 37 1 86 1-81 1 0 1 85 1-44 2 123 1-37 1-125 1 57 1 138 1-115 1-21 1-2 2 147 1-122 1 17 1-219 1 304 1-170 1-1 1 211 2 105 1-213 1 144 1-140 1-43 1 276 1-2 2-76 1-81 1 131 1-212 1 87 1-21 1-76 1 86 2 98 1-47 1-5 1 79 1-167 1 39 1 58 1-107 2 72 1 150 1 49 1-221 1 17 1 107 1 74 2-36 1 261 1-343 1-78 1 101 1-112 1 282 1-207 2 220 1-58 1-273 1 293 1 4 1-282 1 12 2 215 1-114 1-26 1 88 1 48 1 117 1-172 1 368 2-486 1 218 1-260 1 130 1 100 1 75 1-254 1 175 2-50 1-191 1 88 1 24 1-124 1 186 1 3 2-91 1 197 1-145 1 14 1-15 1 32 1-48 1 40 2-26 1 143 1-237 1-80 1 131 1 77 1-82 1 233 2-188 1 139 1-5 1-52 1-195 1 158 1 93 2 133 1-367 1 216 1 15 1-291 1 187 1 40 1-141 2-68 1 357 1 108 1-267 1 45 1 37 1-35 1 0 2-74 1-37 1 104 1 37 1 108 1-25 1-55 2-141 1 39 1 145 1 5 1-120 1 287 1-349 1 242 2-81 1-142 1 58 1 119 1-344 1 207 1-98 2 92 1 160 1 32 1-156 1 11 1-9 1 121 1 51 2-11 1-272 1 156 1-269 1-5 1 139 1-13 1 66 2-146 1 94 1 145 1-242 1 180 1 229 1-317 2 78 1-249 1 186 1 72 1 94 1-296 1 127 1-123 2 38 1 110 1-19 1 27 1 99 1 59 1 176 1-334 2-157 1-74 1 282 1-158 1 58 1 17 1-73 2 114 1-93 1 120 1 55 1-101 1 153 1-200 1 269 2 4 1-384 1 27 1 65 1 75 1 69 1-34 1-85 2 80 1 319 1-513 1 252 1-110 1-116 1 227 2-168 1-77 1 142 1 106 1-296 1 398 1-188 1 158 2-95 1-178 1 173 1 93 1-102 1-259 1 205 2-145 1-62 1 171 1-16 1 248 1-369 1 329 1-219 2-126 1 456 1-246 1-20 1-54 1 172 1-130 1 54 2-207 1 214 1 10 1 75 1-331 1 91 1 64 2 74 1-129 1-53 1 140 1-104 1 396 1-382 1-83 2-21 1-16 1 227 1 58 1-9 1-118 1 210 1 8 2-21 1-120 1-21 1-31 1 388 1-197 1-7 2-86 1-151 1 34 1 108 1-153 1 220 1-254 1 102 2-94 1 408 1-164 1-84 1-69 1 243 1-293 1 53 2-26 1 114 1 222 1-120 1-166 1 143 1-123 2-5 1-1 1-55 1-116 1 120 1 48 1-13 1 26 2-152 1 231 1-27 1-58 1-70 1-40 1 94 1-117 2 94 1 38 1-172 1 277 1-204 1-97 1 226 2-92 1-115 1-40 1 52 1 209 1-114 1 400 1 37 2-600 1 253 1-247 1 165 1-134 1 253 1-288 2 115 1 168 1-71 1-119 1 202 1-88 1 84 1 312 2-461 1 270 1-74 1-254 1 137 1 97 1-47 1-255 2 357 1-191 1 61 1-236 1 353 1-205 1 84 2-108 1 196 1-289 1 331 1-352 1 100 1 276 1-41 2-59 1-69 1 156 1-73 1 244 1-311 1-228 1 71 2-66 1-24 1 292 1-261 1 132 1-12 1 155 2-236 1 94 1 333 1-131 1-303 1 196 1 15 1 132 2-202 1-118 1-67 1 106 1 235 1 63 1-99 1-110 2-118 1 6 1-84 1 374 1-32 1-105 1 4 2-86 1-20 1 103 1 184 1-180 1 227 1-158 1 110 2-130 1-142 1-17 1 73 1-235 1 184 1 171 2-86 1-143 1 165 1 81 1-162 1 171 1 329 1-342 2-116 1 23 1-105 1-172 1 265 1-183 1 394 1-399 2 237 1 60 1 186 1-424 1 303 1-396 1 249 2-70 1-134 1 276 1-99 1-80 1 32 1 35 1 207 2-386 1 83 1 56 1 6 1-33 1-120 1 195 1 411 2-406 1-20 1 38 1 25 1 234 1-342 1-117 2 108 1 108 1 5 1 1 1 200 1-329 1 8 1-59 2 142 1 264 1-233 1 24 1-27 1-46 1-62 1 11 2 332 1-426 1 147 1 135 1-79 1-55 1 175 2-294 1 8 1 117 1-130 1 364 1-373 1 182 1 22 2-279 1 197 1-199 1 251 1-62 1 18 1-63 2 134 1-209 1 147 1 239 1-279 1-211 1 311 1-90 2-87 1 29 1 58 1 309 1-332 1-187 1 252 1-115 2 103 1-101 1 323 1-171 1-93 1 206 1-310 2 172 1-123 1 304 1-241 1 106 1-58 1-11 1-123 2 299 1 176 1-219 1-93 1-139 1 197 1-83 1-159 2 125 1-119 1 163 1-176 1-94 1 39 1 227 2 91 1 143 1-240 1-240 1 291 1-239 1 239 1-34 2-27 1-151 1 262 1-17 1-82 1 282 1-236 1-146 2 175 1-40 1 116 1-189 1-5 1 180 1-319 2 22 1 67 1-175 1 231 1 69 1 147 1-117 1-55 2-45 1-67 1 233 1-136 1 173 1-268 1 235 2 30 1-217 1-29 1 20 1-144 1 219 1 36 1-192 2-84 1 220 1 81 1-125 1-129 1 215 1-140 1-81 2 320 1-125 1-98 1-89 1 163 1-94 1 128 2-217 1 145 1 14 1-48 1 111 1 24 1-223 1 260 2-114 1-175 1 290 1-203 1-121 1 172 1 105 1-178 2 529 1-412 1-10 1 161 1-288 1 470 1-384 2 38 1-208 1 374 1-281 1 32 1 145 1 94 1-89 2-157 1-59 1 333 1-283 1-109 1 324 1-35 1-127 2 29 1 41 1 78 1 78 1-207 1-25 1 38 2 135 1-148 1 21 1 58 1-52 1 30 1 30 1 84 2-72 1-299 1 80 1 21 1-24 1 195 1 239 2-440 1 18 1 169 1 261 1-201 1-25 1-38 1-66 2 40 1 48 1-115 1 318 1-354 1 313 1 327 1-625 2 25 1-49 1 122 1-147 1 112 1 42 1-125 2 159 1-19 1-184 1 61 1 186 1-82 1-202 1 610 2-540 1 229 1-209 1-2 1 92 1 130 1-192 1 7 2 221 1-128 1-38 1 189 1-243 1 108 1-249 2 126 1 173 1 29 1-258 1 100 1 7 1 193 1-127 2-56 1-63 1-163 1 443 1-224 1 130 1-130 1 202 2-28 1 62 1-243 1 42 1-142 1 236 1-159 2-75 1 148 1-88 1 98 1 31 1-44 1-29 1 61 2-46 1 57 1 79 1-168 1 135 1-20 1 4 2-76 1 61 1-168 1-1 1 14 1-8 1-8 1 37 2 62 1-190 1 160 1 101 1-49 1 46 1-219 1 334 2-137 1 55 1 34 1 57 1-220 1-80 1 355 2-365 1-3 1 311 1-188 1 8 1 148 1-259 1 218 2-124 1-162 1 172 1 89 1-175 1 161 1 183 1-155 2 44 1-18 1 169 1-279 1 75 1-102 1 204 2-121 1-172 1 218 1 192 1-276 1 84 1-132 1 67 2 128 1-142 1-79 1 68 1-29 1-11 1 162 1-161 2-165 1 87 1-26 1 20 1 76 1-73 1 125 2 50 1-162 1 202 1-207 1 19 1-36 1 143 1 54 2-244 1 47 1 158 1 78 1-90 1-22 1 39 1-21 2-255 1 315 1 11 1-185 1-13 1 96 1 105 2-85 1-98 1 117 1 17 1-7 1-128 1 63 1 86 2-156 1 76 1-100 1 123 1-160 1 264 1-80 2 93 1-56 1-85 1-59 1 174 1-296 1 267 1-265 2 137 1-8 1 190 1 135 1-188 1-23 1-164 1-89 2 217 1-61 1 54 1-72 1 78 1 34 1 148 2-318 1-22 1 203 1-70 1-99 1 235 1-350 1 84 2 52 1 97 1 7 1-210 1 302 1-242 1-73 1 58 2 24 1 13 1 149 1-97 1 32 1-120 1-25 2-1 1 162 1 0 1 93 1-288 1 404 1-249 1 161 2-329 1 129 1-77 1 361 1-286 1 115 1-121 1-90 2 90 1 150 1-70 1 76 1-324 1 186 1 438 2-337 1 519 1-320 1-193 1 99 1-230 1 351 1-158 2-81 1-52 1-123 1 214 1-216 1 144 1 105 2-171 1 129 1-24 1-27 1-216 1 74 1 183 1-161 2 65 1 128 1 28 1-248 1 76 1-93 1 371 1 67 2-226 1-96 1-15 1 54 1-136 1 23 1 187 2-117 1-20 1-35 1 207 1-62 1 266 1-144 1-135 2 13 1-7 1-241 1 195 1-3 1 25 1 164 1-269 2 308 1-190 1-79 1 10 1 81 1-258 1 171 2 223 1-8 1-67 1 210 1-428 1 287 1 120 1-262 2 74 1-75 1 196 1-383 1 220 1-60 1 132 1 50 2 54 1-295 1 30 1-86 1 134 1-267 1 253 2 117 1-139 1-109 1 125 1-181 1 157 1 288 1-335 2 4 1 84 1 137 1-322 1 73 1 28 1 55 2-149 1 304 1-176 1 143 1 53 1-169 1-1 1-11 2-115 1 101 1 88 1-211 1 362 1-390 1 127 1 80 2 90 1-154 1-84 1 232 1-55 1 0 1-183 2 272 1-230 1 9 1 14 1-156 1 292 1-188 1 541 2-467 1 213 1-42 1-254 1 383 1-123 1-250 1-8 2 361 1-205 1-231 1 311 1-308 1 107 1 84 2-147 1 153 1 25 1 53 1-88 1 26 1 62 1-28 2 13 1-15 1-221 1 64 1-84 1 66 1 175 1 179 2-324 1 501 1-450 1 47 1-20 1 119 1-259 2 116 1-28 1 54 1 117 1 8 1-260 1 137 1-118 2 215 1 192 1-177 1 53 1 74 1-177 1 139 2 61 1-209 1-187 1-56 1-21 1 87 1 12 1 281 2-196 1 279 1-238 1 236 1 3 1-181 1-259 1 75 2 188 1 80 1-63 1-257 1 243 1 205 1-166 2-35 1-208 1 317 1-379 1 159 1 196 1-161 1-65 2 14 1 334 1-105 1-225 1 46 1-12 1-98 1-12 2 243 1-197 1-22 1 304 1-47 1 179 1-345 2-61 1 131 1-107 1-20 1 1 1 199 1 96 1-318 2 116 1 71 1-289 1 206 1-115 1-42 1 259 1-132 2-51 1 177 1-157 1 377 1-279 1 119 1-79 2 60 1-205 1-70 1 537 1-593 1 237 1 149 1 14 2-356 1 374 1-273 1 24 1 3 1 46 1-93 2 139 1 123 1-91 1-84 1-12 1-234 1 16 1 180 2-17 1 12 1 52 1-51 1-169 1 64 1 23 1 117 2-18 1-77 1 83 1-61 1 69 1 165 1-231 2 28 1 183 1-37 1 129 1-289 1-136 1 158 1-57 2-128 1 178 1-65 1 336 1-320 1 279 1-242 1-59 2 157 1 55 1-171 1 16 1-61 1 411 1-120 2-206 1 152 1-140 1 368 1-198 1-157 1 138 1-186 2 204 1-91 1-43 1-205 1 268 1 210 1-464 1 224 2 42 1-155 1-63 1 180 1 34 1-106 1-90 2 473 1-485 1 206 1-158 1-14 1 66 1-139 1 9 2 71 1 62 1-192 1 171 1-58 1-120 1 110 1 167 2-98 1 236 1-259 1-150 1 371 1-145 1 109 2-7 1-199 1 75 1 165 1-369 1 240 1 66 1-248 2 527 1-156 1-258 1 68 1 51 1-273 1 413 2-405 1 111 1-117 1 453 1-110 1-44 1 106 1-143 2 57 1-270 1 104 1-22 1 84 1-134 1 238 1-231 2 235 1-325 1 218 1 106 1-149 1-56 1 144 2-256 1 192 1 135 1-8 1-36 1 182 1-279 1-181 2 262 1-59 1-169 1 147 1-40 1-168 1 57 1 48 2 183 1 48 1-292 1 157 1-69 1 231 1-372 2 215 1-208 1 142 1 58 1 364 1-92 1-25 1-452 2 106 1 152 1 15 1-116 1 31 1 105 1-146 1-20 2 54 1-93 1 74 1 153 1-190 1 103 1-151 2 63 1 0 1-82 1 183 1-157 1 156 1-38 1-154 2 83 1 195 1-250 1-70 1 141 1-109 1 183 2-44 1 22 1-122 1 126 1 92 1 64 1-171 1-21 2-36 1 3 1 52 1-29 1 127 1-284 1 230 1 113 2-119 1 165 1-131 1-4 1-80 1 57 1-76 2 142 1 43 1-119 1 182 1-19 1-153 1 236 1-421 2 36 1 229 1-214 1-1 1 475 1-433 1 160 1-177 2 104 1 56 1-49 1 135 1-203 1 207 1-126 2 204 1-233 1 303 1-460 1 113 1-11 1 94 1-173 2 167 1-100 1-55 1 281 1-250 1 174 1-127 1 19 2-195 1 270 1-265 1 148 1 75 1-100 1 38 2 81 1 18 1-84 1 33 1 122 1-363 1 334 1-82 2 66 1-162 1 141 1-65 1-132 1 199 1-62 2 19 1 71 1-222 1-83 1 337 1-365 1 163 1 174 2 8 1-82 1 17 1-82 1 58 1-58 1 75 1 133 2-63 1-8 1 63 1-113 1 204 1-142 1-117 2-28 1-20 1-42 1 17 1 64 1 155 1-51 1-140 2 156 1-94 1-197 1 287 1-207 1 186 1 29 1-318 2 172 1-9 1 90 1 170 1-375 1 133 1-81 2 160 1 316 1-456 1-112 1 183 1 79 1-201 1 227 2-90 1-59 1 109 1-94 1-93 1 299 1-180 1 79 2-158 1-24 1 43 1-50 1 174 1-7 1 485 2-655 1 241 1-110 1 28 1-28 1 21 1 181 1-59 2-156 1 18 1-161 1 119 1-8 1-78 1 179 2-115 1 36 1-27 1-88 1 59 1 252 1 102 1-305 2-77 1 104 1-80 1 208 1-102 1 354 1-540 1-22 2 290 1 60 1-38 1 49 1-180 1 90 1 0 2-78 1-230 1 155 1 40 1-102 1-62 1 378 1-193 2 113 1 136 1-440 1 239 1-54 1 332 1-378 1-53 2 22 1-96 1 85 1 175 1 1 1 308 1-397 2 60 1-49 1 140 1-173 1-126 1 184 1 71 1-3 2-292 1 257 1 7 1-31 1-207 1 223 1-83 1 5 2-142 1 479 1-150 1-347 1 221 1-161 1 49 2 452 1-206 1-210 1 33 1-49 1 236 1-221 1 326 2-216 1 208 1-347 1-17 1 2 1 147 1-47 2 39 1-5 1-65 1 2 1 97 1 46 1-309 1 184 2-21 1-50 1 179 1 77 1-116 1 74 1-83 1 23 2-233 1 390 1-348 1-82 1 32 1-48 1 254 2 94 1-265 1 41 1 16 1 171 1-63 1-84 1 92 2-54 1 42 1 9 1 197 1-195 1-165 1 140 1-95 2 24 1 237 1-285 1 212" transform="scale(.1)" fill="none" stroke="#dccab6" stroke-width="9.5" stroke-linejoin="round"/>
<path d="M625 2079l1 88 0 7 1 139 1-246 0 98 1-37 1 79 0 40 1-260 1 272 0-226 1 140 0-74 1-11 1 94 0-179 1 11 1 187 0 44 1-189 1 180 0-111 1 6 1 29 0-156 1 94 1-107 0 77 1 74 1 211 0-147 1-159 0 61 1 161 1-139 0 1 1 35 1 89 0-229 1 328 1-239 0 82 1 488 1-706 0 234 1-72 1 73 0-81 1-47 1-109 0 70 1 207 0-197 1 45 1-31 0 367 1-399 1 179 0 77 1-212 1 176 0 14 1-143 1 136 0-182 1 186 1-40 0 16 1-220 1 5 0 50 1 45 0 93 1-62 1-127 0 137 1-169 1 62 0-41 1 287 1-348 0 381 1-137 1-201 0 205 1-106 1 67 0-145 1 97 1-50 0 97 1-10 0-102 1-50 1 242 0-20 1-188 1 211 0 94 1-201 1 177 0-327 1 313 1-318 0 134 1 69 1 256 0-392 1 58 1 18 0-72 1 138 0 100 1-49 1-275 0 51 1 358 1-344 0 265 1-131 1-91 0 214 1-233 1 23 0 106 1-148 1-41 0 2 1 168 1-19 0-149 1 100 0-10 1-45 1 141 0 12 1-98 1 63 0-163 1 257 1-291 0 257 1-70 1 65 0-198 1 3 1 148 0-100 1 72 1 175 0-257 1 158 0 198 1-369 1 115 0 8 1 33 1-71 0 261 1-372 1 111 0 126 1 146 1-269 0-115 1-60 1 176 0-41 1-45 1 129 0-159 1 20 0 50 1-50 1-13 0 111 1-109 1 56 0 63 1 111 1-127 0 19 1 224 1-361 0-30 1 118 1-19 0-85 1 89 1 189 0-273 1 64 0 64 1 6 1-107 0-20 1 118 1 15 0 185 1-181 1 3 0-84 1 26 1 47 0 183 1-153 1 212 0-7 1-290 1 62 0-24 1-14 0-6 1 270 1-370 0 8 1 128 1 76 0-96 1 106 1-239 0 128 1-144 1 103 0-40 1 111 1 113 0-156 1 70 1 55 0-234 1 181 0-24 1 164 1-25 0-275 1 66 1 87 0-9 1 40 1-210 0 76 1 184 1-245 0 260 1-152 1 243 0-263 1 90 1-137 0 152 1 30 0-40 1-164 1 50 0 6 1 283 1-209 0-54 1 39 1 81 0 13 1-202 1 82 0 82 1 16 1-156 0 182 1-105 1-107 0 121 1-38 0 178 1-204 1-105 0 95 1 112 1-181 0 400 1-146 1-216 0-38 1 209 1-94 0-82 1-53 1 189 0-174 1-3 1 134 0 163 1-106 0-70 1-32 1-89 0 9 1 307 1-350 0 316 1-102 1 231 0-253 1-63 1 2 0 19 1-86 1-33 0 4 1 7 1-6 0-27 1 134 1 87 0-187 1 43 0-4 1 62 1 32 0-133 1-40 1 119 0 187 1-185 1 153 0-110 1-35 1 316 0-305 1-23 1 373 0-450 1 53 1-54 0 218 1-149 0-69 1 377 1-333 0 157 1-123 1-77 0 74 1 116 1-119 0 19 1-68 1 42 0 355 1-421 1 324 0-234 1 55 1 105 0 8 1-257 0 58 1 58 1-132 0 210 1-194 1 317 0-190 1 85 1-75 0-151 1 424 1-381 0-33 1-7 1 307 0-295 1 182 1 78 0-177 1 100 0-173 1 129 1-82 0 67 1 110 1-32 0-114 1 48 1 101 0-42 1-54 1-175 0 195 1-97 1 64 0 201 1-266 1 288 0-351 1 115 0 114 1-34 1-28 0-9 1 124 1-176 0 54 1 17 1-163 0 180 1-63 1-140 0-4 1-25 1 172 0-46 1-66 1-34 0 11 1 124 0-34 1-46 1 10 0 17 1 69 1 55 0-198 1-5 1 150 0-44 1-1 1-74 0 28 1-51 1 141 0 63 1 67 1-62 0 36 1 48 0-198 1 228 1-161 0-89 1 39 1 143 0-92 1-165 1 150 0 32 1 138 1-322 0 3 1 264 1 45 0-319 1-5 1 17 0 35 1 2 0 147 1-98 1-88 0-9 1 137 1 166 0 26 1-176 1-62 0 97 1 69 1-233 0-24 1 128 1 54 0 54 1-170 1-55 0 15 1 302 0-319 1 1 1 197 0-55 1 106 1-42 0-154 1 206 1-268 0 104 1 2 1 163 0-86 1 45 1-36 0-9 1-168 1 452 0-244 1-213 0 4 1 63 1-37 0 122 1-53 1 49 0-4 1-147 1 197 0 93 1-292 1 220 0-53 1-48 1-40 0-67 1 232 1-239 0 100 1 21 0 26 1 156 1-290 0 110 1-30 1-93 0 197 1 25 1-59 0 61 1-96 1 44 0-41 1 9 1-71 0-83 1 148 1 132 0-3 1-13 0-179 1-74 1 143 0 53 1-194 1 161 0-79 1 107 1-135 0 32 1 11 1-44 0 137 1-190 1 269 0-213 1 63 1-68 0 40 1 146 0-125 1 257 1-91 0-220 1 157 1 26 0 90 1-253 1-41 0 15 1 83 1-55 0 52 1-96 1 165 0-37 1 157 1-128 0-160 1 151 0-154 1 26 1 97 0 177 1-200 1 144 0-127 1 85 1 28 0-106 1 178 1-265 0 23 1 10 1 92 0-111 1-33 1-77 0 328 1-9 0-11 1-193 1 144 0-101 1 9 1 109 0-44 1-201 1 206 0-35 1-89 1 80 0-24 1 10 1-5 0-161 1 160 1 10 0-177 1 40 1 49 0 47 1 89 0-199 1 317 1-250 0 136 1-209 1 179 0 46 1 51 1-116 0 104 1-126 1-93 0 13 1 52 1 260 0-78 1-150 1-152 0 156 1-19 0 199 1-231 1-9 0 43 1 172 1-144 0 59 1-182 1 99 0 18 1-43 1-26 0-56 1-6 1 119 0 29 1 171 1-236 0-135 1 230 0-38 1 22 1 107 0-185 1 10 1 166 0-139 1 45 1-13 0-59 1-98 1 281 0-105 1-128 1 57 0-65 1 112 1 92 0-184 1-72 0 294 1-308 1-14 0 203 1 93 1-75 0-84 1-89 1 106 0 6 1-144 1 102 0 70 1 53 1-181 0-52 1 143 1-124 0 165 1-84 0-80 1 189 1 19 0-229 1 325 1-228 0-89 1 56 1 313 0-173 1 6 1-37 0-9 1 14 1 43 0-16 1-147 1 10 0 19 1 98 0-153 1 76 1-104 0 252 1-98 1-140 0 214 1-36 1-47 0-44 1 11 1-89 0 104 1 143 1-265 0 5 1 6 1 351 0-347 1-2 0 73 1 159 1-23 0-106 1 307 1-197 0-61 1-125 1 257 0-309 1 76 1 69 0-6 1-121 1 387 0-267 1 27 1-38 0 69 1-174 0 153 1 65 1-114 0-227 1 170 1-249 0 94 1-136 1-88 0-130 1-69 1-127 0-129 1-135 1-51 0-57 1-115 1-70 0-79 1-52 0-60 1-37 1-49 0-50 1-32 1-24 0-29 1-5 1-14 0-2 1 4 1 22 0-3 1 5 1 14 0 4 1 8 1 5 0 12 1 11 0 2 1 2 1 19 0 10 1 1 1 5 0 12 1-5 1 15 0 13 1-6 1 10 0 12 1 11 1 4 0 7 1 4 1 18 0-5 1 12 0 6 1 11 1 15 0-4 1 7 1 14 0 5 1 0 1 19 0 5 1 16 1-11 0 16 1 12 1 0 0 22 1-1 1 8 0-1 1 6 0 13 1 3 1 32 0-21 1 13 1 1 0 19 1 6 1 3 0 17 1-5 1 24 0 13 1-9 1 0 0 24 1 21 1-25 0 28 1 4 0 2 1-6 1 19 0-7 1 3 1 10 0 29 1 3 1-1 0 2 1 16 1 10 0 19 1-20 1 34 0-4 1 11 1 20 0-9 1 21 0-12 1 7 1 11 0-11 1 15 1 27 0-4 1-3 1 12 0-12 1 38 1-3 0 28 1-9 1 22 0-17 1 54 1-12 0 2 1 21 0-17 1-17 1 71 0-22 1-6 1-20 0 81 1-33 1-8 0 4 1 34 1 45 0-35 1-46 1 53 0 24 1 12 1-23 0 33 1 12 0-7 1 45 1-71 0 62 1-29 1 25 0-14 1 38 1-4 0 59 1-23 1-7 0 25 1-33 1 24 0 26 1 14 1 11 0 28 1-39 1-12 0 40 1 33 0-30 1-3 1-21 0 33 1 49 1-22 0 37 1-58 1 34 0 20 1-11 1 10 0 36 1-26 1-76 0 89 1 24 1 34 0-47 1-16 0 18 1-8 1 26 0-81 1 96 1 41 0 11 1 0 1 3 0-45 1 17 1 77 0-102 1-16 1 54 0-18 1 23 1 42 0-72 1 53 0 88 1-71 1-44 0 105 1-102 1 144 0-87 1 130 1-68 0-95 1 12 1-10 0 163 1-23 1 31 0-67 1 70 1-129 0 57 1-36 0 53 1-64 1-73 0 209 1-51 1 70 0-38 1-41 1-159 0 183 1-28 1 200 0-119 1 92 1 42 0-245 1 24 1 123 0 37 1-26 0 102 1-64 1-156 0 90 1 111 1-160 0 52 1 48 1-155 0 29 1 256 1 108 0-115 1-119 1-112 0 134 1 88 1 91 0-59 1-42 0-169 1-35 1 165 0-72 1 107 1 26 0-27 1 90 1-148 0 53 1 393 1-455 0 33 1-63 1 154 0-204 1 125 1 12 0 10 1-5 0-57 1 106 1-20 0 16 1-119 1 173 0-275 1 203 1-112 0 137 1-76 1 3 0 127 1-101 1-72 0-9 1 14 1 172 0-196 1 154 0-53 1 13 1-94 0 187 1 62 1-268 0 40 1 92 1 95 0-210 1 2 1 40 0 6 1-28 1 45 0-75 1 50 1 169 0-129 1-55 0 329 1-303 1 167 0-216 1 391 1-244 0-5 1-13 1-49 0 65 1 172 1-268 0-26 1 29 1 85 0 92 1-234 1 27 0 161 1 11 0-106 1 29 1-79 0-47 1 142 1-2 0-31 1 37 1-6 0-12 1-109 1 128 0-169 1 74 1 4 0-86 1 42 1 154 0-79 1 54 0 27 1-101 1 184 0-45 1-153 1-58 0 30 1 87 1-2 0 146 1-122 1-24 0-75 1 24 1-58 0 102 1-39 1 180 0 10 1-206 0-8 1 64 1-120 0 87 1 101 1-125 0 2 1 355 1-368 0 48 1 260 1-333 0 244 1-250 1 136 0-76 1 38 1-37 0 86 1-147 0 149 1-64 1 32 0-52 1 39 1 270 0-285 1 210 1-277 0 367 1-284 1-37 0 52 1-145 1 181 0 7 1-185 1 277 0-97 1-12 0-48 1 347 1-330 0-54 1 165 1-67 0 17 1-108 1 103 0-32 1-71 1 146 0-107 1-108 1 335 0-334 1 152 1-85 0 32 1 109 0-65 1 97 1 24 0-37 1 90 1-170 0-145 1 252 1-60 0 89 1-147 1-154 0 673 1-583 1-36 0 108 1-67 1 29 0 7 1-57 1 157 0-225 1 147 0-175 1 408 1-401 0 527 1-395 1 60 0-90 1-108 1 178 0 313 1-254 1 4 0-52 1 503 1-618 0 236 1-60 1 2 0-37 1-153 0 199 1-179 1 285 0-205 1 139 1-16 0-39 1-113 1 122 0-139 1-14 1-66 0 217 1-34 1-41 0-88 1-51 1 3 0 10 1 20 0 155 1-48 1 61 0-152 1-20 1 199 0-48 1 4 1 106 0-282 1 101 1-35 0-77 1-27 1 209 0-29 1-33 1 195 0-226 1-18 0-37 1 31 1 180 0-280 1 335 1-258 0 99 1-91 1-25 0 247 1-270 1 276 0-217 1 77 1-19 0 5 1-118 1-6 0-8 1 89 0 101 1-176 1 160 0 152 1-183 1-143 0 212 1 61 1 19 0-7 1-29 1 156 0-401 1 147 1 39 0 12 1-82 1 159 0 70 1-248 0-88 1 100 1 71 0-115 1 3 1 15 0 42 1-77 1 138 0 257 1-280 1-50 0 105 1-128 1 225 0-179 1-81 1-56 0 59 1 44 0 466 1-505 1 107 0-107 1 48 1-6 0 113 1-216 1 121 0-167 1 317 1-82 0 7 1-151 1 121 0 19 1-22 1-5 0-131 1-66 0 151 1 62 1 43 0-232 1 232 1-226 0 211 1-137 1 93 0 218 1-218 1 106 0-192 1-33 1 50 0 20 1 306 1-286 0 9 1 38 0 114 1-263 1 178 0-208 1 57 1 95 0-79 1 60 1-73 0-4 1 202 1-263 0 226 1-180 1 39 0-45 1 28 1-58 0 117 1 38 0 29 1 41 1 86 0 8 1-216 1-122 0 134 1-67 1-17 0 243 1-281 1 246 0-35 1 85 1-198 0 178 1-159 1-58 0 8 1-10 0-59 1 57 1 6 0 187 1-253 1 132 0 40 1-57 1 72 0 194 1-124 1 12 0-124 1 22 1-43 0-9 1 78 1-195 0 267 1-17 0 21 1-228 1 258 0-160 1 54 1 31 0-59 1-26 1 72 0-11 1 341 1-556 0 325 1-275 1 265 0-193 1 43 1-22 0-74 1 191 0-173 1 299 1-264 0-82 1 222 1-235 0 200 1-69 1-38 0 164 1-143 1-152 0 196 1 121 1-95 0 104 1-323 1 314 0-240 1 322 0-295 1 74 1-113 0-62 1 97 1-44 0 133 1-150 1 253 0-255 1 199 1-228 0 204 1-38 1-81 0 138 1 203 1-411 0 128 1-126 0 167 1-63 1 55 0-94 1 155 1 50 0-97 1-160 1 26 0 146 1-145 1 219 0-156 1-49 1 236 0-180 1 33 1-79 0 53 1 47 1-32 0 132 1-97 0-70 1 60 1 36 0 44 1-117 1 20 0-53 1 110 1-53 0-135 1 226 1-125 0-44 1 43 1 421 0-257 1-92 1 25 0 153 1-8 0-278 1 148 1-64 0 23 1-155 1 212 0-95 1-102 1-27 0 11 1 219 1-23 0-108 1-104 1 66 0 60 1-109 1 222 0-9 1 17 0-150 1 151 1-174 0-29 1 33 1-21 0 23 1-27 1 30 0 142 1-103 1 8 0-63 1 151 1-187 0-33 1 213 1 94 0-315 1 15 0 126 1 1 1-46 0 120 1 86 1 20 0-257 1 134 1-113 0 40 1 143 1-197 0-39 1 197 1-83 0 140 1-220 1 299 0-108 1-244 0 344 1-299 1 174 0 237 1-416 1 386 0-162 1-86 1-74 0 59 1-84 1-14 0 112 1 63 1-9 0-110 1 60 1 184 0-290 1-75 0 196 1-152 1 189 0-174 1 108 1-93 0-91 1 65 1-14 0 119 1-67 1 22 0-47 1 35 1 27 0 81 1 109 1-234 0-56 1 99 0 113 1-7 1-191 0 182 1 0 1-39 0-37 1-42 1-129 0 153 1-109 1 126 0 18 1 56 1-203 0 104 1 48 1-165 0 39 1 87 0 75 1-100 1 169 0-198 1-7 1-63 0 177 1-57 1 201 0-275 1-26 1-38 0 219 1-88 1 115 0-113 1-38 1-24 0 68 1 127 0-95 1-20 1-33 0 5 1 85 1 26 0-49 1-168 1 31 0-24 1 130 1 79 0-107 1-96 1 21 0 152 1-79 1-135 0 255 1-183 0 160 1-79 1-24 0-22 1 100 1-69 0-70 1 6 1 191 0-6 1-156 1 176 0-119 1 84 1-227 0 241 1 11 1-30 0-126 1-21 0 12 1 154 1-231 0 274 1-72 1-34 0 174 1-234 1 112 0-104 1 41 1-29 0 40 1 345 1-333 0-45 1-93 1 58 0 62 1-61 0 127 1-167 1 0 0 174 1-51 1 25 0-23 1-138 1 14 0 372 1-289 1-144 0 245 1-210 1-49 0 95 1 164 1-129 0 72 1 1 0 126 1-131 1-15 0-16 1-112 1 141 0-23 1-36 1 4 0 177 1-203 1 29 0 125 1-104 1-44 0-24 1 112 1 15 0 53 1-313 0 138 1-23 1 295 0-302 1 12 1 222 0-220 1 47 1-73 0-11 1 87 1 273 0-243 1-24 1-27 0 32 1-163 1 278 0-80 1 47 0-93 1-37 1 268 0-354 1 15 1 254 0-199 1 225 1-37 0-4 1-35 1-182 0-4 1 127 1-4 0-124 1-8 1-17 0 112 1 111 1-52 0-81 1 147 0-79 1 29 1-193 0 345 1-347 1 1 0 198 1 47 1-154 0 186 1-179 1-35 0 49 1 41 1 196 0-84 1-53 1-134 0 48 1-4 0 34 1 83 1 43 0-166 1 344 1-378 0-33 1 40 1 145 0-217 1 211 1-97 0 81 1-242 1 222 0 74 1-13 1-64 0-166 1-38 0 89 1-38 1 98 0 226 1-323 1-66 0 77 1-8 1 54 0 22 1-3 1 175 0-294 1 17 1 104 0 149 1-279 1 128 0 51 1-38 0-69 1 92 1-13 0-152 1 335 1-141 0-131 1 188 1-129 0 232 1-141 1-152 0 31 1 12 1 187 0-6 1-204 1 9 0-62 1 92 0 202 1-174 1 191 0-200 1 11 1 31 0-208 1 130 1 341 0-180 1-81 1-86 0 143 1-110 1-101 0 14 1 128 1-65 0 126 1-102 0-17 1 2 1-113 0 31 1 36 1-61 0 141 1 43 1-44 0-8 1-5 1-131 0 51 1 172 1-41 0-178 1 315 1-163 0 46 1-147 0 156 1 148 1-184 0-4 1-73 1 221 0-200 1 268 1-114 0 5 1-196 1 56 0-47 1 77 1-44 0 16 1 14 1 236 0 19 1-335 0 41 1-43 1 304 0-153 1 128 1-111 0-231 1 1 1 6 0 188 1-47 1 61 0-198 1 102 1 13 0-115 1 226 1-245 0 24 1 162 0 182 1-247 1 202 0-305 1 43 1 151 0 225 1-193 1-107 0-128 1 139 1 47 0-31 1 0 1-47 0 36 1 37 1-20 0-201 1 264 0 12 1-55 1-54 0-50 1 54 1-164 0 101 1-75 1 211 0-66 1 186 1-280 0 152 1-116 1-77 0 122 1-51 1-36 0 81 1 85 0-99 1-83 1 325 0-254 1-34 1 96 0 17 1-174 1 6 0 79 1 165 1-246 0 14 1 88 1-36 0-25 1-34 1 90 0 30 1 37 0-140 1-33 1 113 0 66 1-53 1 81 0-108 1 31 1-46 0-66 1 216 1-99 0-4 1 134 1-32 0-270 1 152 1 17 0 233 1-269 0 0 1 333 1-368 0 73 1-33 1-112 0 158 1-140 1 131 0 6 1 35 1-134 0 122 1 113 1-209 0 147 1-149 1-79 0 243 1-82 0 169 1-24 1-307 0 182 1-165 1 352 0-27 1-180 1 100 0-143 1 374 1-340 0 23 1 340 1-447 0-43 1 44 1 7 0 254 1-204 0-88 1 26 1 330 0 66 1-130 1-254 0 138 1-112 1-31 0 99 1-143 1 141 0-53 1 87 1-88 0 297 1-100 1-263 0 197 1 51 0 2 1-280 1 83 0 119 1-198 1 67 0 44 1-118 1 109 0-23 1-81 1 78 0 18 1 80 1-127 0 76 1 60 1-23 0-119 1 142 1 43 0 93 1-311 0 79 1 36 1-39 0 39 1 182 1-176 0-117 1 342 1-212 0 81 1-88 1-138 0 9 1 2 1 95 0 43 1-15 1 214 0-74 1-282 0 312 1-24 1-171 0 103 1-68 1-16 0 50 1-71 1 33 0 39 1-91 1 89 0-111 1 6 1 78 0 2 1-70 1 20 0-126 1 33 0 87 1 60 1-54 0 94 1-7 1-69 0 3 1 29 1-49 0 109 1-138 1-25 0 160 1-155 1 156 0-91 1 192 1-166 0-78 1-70 0 92 1 89 1 182 0-296 1 94 1 24 0-175 1 120 1-103 0 133 1-93 1 4 0 52 1 83 1-62 0 150 1-302 1 333 0 71 1-162 0-235 1 88 1 181 0-79 1-198 1 211 0 14 1-72 1 42 0-28 1-79 1 17 0 61 1 50 1-4 0-176 1 117 1 2 0 75 1-223 0 172 1 71 1-136 0-85 1 386 1-113 0-84 1 50 1-165 0 60 1 100 1-175 0 119 1-80 1 50 0 124 1 352 1-568 0-2 1 85 0-166 1 147 1 199 0-21 1-270 1 335 0-150 1-123 1-15 0 12 1-134 1 175 0-84 1 74 1-132 0 10 1 11 1 212 0-251 1 1 0 72 1-22 1 42 0 13 1-67 1 259 0-59 1-246 1 274 0-186 1 42 1-55 0 218 1-123 1 10 0-12 1 117 1-244 0 178 1-78 0-15 1 253 1-262 0-4 1 157 1-9 0-238 1 115 1 6 0 90 1-200 1 178 0 94 1 60 1-174 0 25 1-143 1-19 0 166 1-136 0-33 1 256 1-97 0-189 1 76 1 43 0 113 1-74 1-136 0 140 1-3 1 56 0-76 1-167 1 101 0 210 1-283 1-10 0 100 1-56 0 261 1-216 1 112 0 55 1 61 1 103 0-186 1 65 1-208 0 151 1-4 1-228 0 195 1-198 1 107 0-84 1 105 1 95 0-195 1 124 0 35 1 245 1-384 0 72 1-32 1 87 0-93 1 78 1-79 0 105 1-202 1 10 0 136 1-100 1 174 0-99 1 178 1-231 0 180 1-23 0-129 1 245 1-274 0 197 1-225 1 274 0-159 1 31 1 130 0-232 1 54 1 20 0-30 1 66 1-63 0 36 1-10 1 8 0-2 1-45 0-109 1 74 1 122 0 37 1-104 1-87 0-1 1 143 1-81 0 23 1 30 1-129 0 56 1 188 1 8 0-19 1 106 1-270 0 96 1-46 0 38 1-161 1 54 0 479 1-416 1 88 0-37 1 4 1-31 0 85 1-122 1-127 0 132 1-87 1 252 0-203 1 44 1 211 0-224 1-96 1 131 0 160 1-222 0-98 1 396 1-180 0-122 1-109 1 0 0 324 1-246 1-56 0 299 1-175 1-121 0 240 1-75 1-129 0 343 1-188 1-146 0 120 1 12 0-131 1 68 1 128 0-63 1 104 1-232 0 129 1 146 1-190 0 94 1-149 1 55 0-128 1 167 1 26 0 32 1-149 1-117 0 406 1-199 0-177 1 126 1 167 0-234 1 46 1-8 0-89 1 329 1-268 0 66 1 54 1-113 0 34 1 62 1-44 0 1 1-129 1 314 0-320 1 78 0 109 1-45 1-15 0 18 1 12 1-150 0 32 1 102 1-130 0-7 1 18 1 116 0-127 1 241 1 130 0-371 1 217 1-36 0-105 1-79 0 60 1 236 1-7 0-3 1-298 1 192 0 178 1-284 1 211 0-292 1 117 1 29 0 264 1-166 1 53 0-118 1-119 1 182 0-131 1 90 0-47 1-61 1 107 0-10 1-180 1 291 0-83 1-122 1 37 0-123 1 139 1-92 0 64 1-22 1-53 0 61 1-1 1-14 0 10 1-7 0 68 1-162 1-19 0 264 1 40 1-120 0 23 1 102 1-171 0-83 1 176 1-103 0-51 1 311 1-300 0 190 1-107 1 38 0 20 1-57 0 31 1 282 1-264 0-201 1 54 1 7 0 115 1-84 1 9 0 84 1-194 1 96 0 25 1-93 1 116 0 103 1 90 1-134 0-147 1 23 0 158 1-100 1 70 0 48 1-228 1 283 0-246 1-34 1 30 0-9 1 65 1 127 0-57 1-130 1-43 0 50 1 9 1 127 0-157 1-34 0 26 1 136 1-125 0 171 1 50 1-250 0 89 1-44 1 119 0-11 1 113 1-165 0-41 1 145 1-104 0-107 1 146 1 20 0-15 1 124 0-46 1 171 1-126 0-201 1 36 1-13 0-91 1 47 1 214 0-145 1 61 1-174 0 72 1 67 1 94 0-111 1 68 1-23 0-88 1-60 0 201 1-98 1 232 0-92 1-82 1-130 0 11 1-13 1 299 0-231 1-79 1 94 0 104 1-150 1 114 0 30 1-61 1-123 0 10 1 106 0-5 1-31 1-153 0 17 1 118 1 234 0-343 1-20 1 232 0-88 1-137 1 334 0-178 1 1 1 118 0-239 1 83 1-120 0 348 1-353 0 233 1-151 1 82 0-33 1 136 1-160 0-24 1 119 1-109 0 96 1-82 1 116 0 143 1 55 1-289 0-92 1 97 1-126 0 244 1-101 0-111 1 31 1 406 0-309 1 49 1-197 0 161 1-104 1 189 0-166 1 93 1-33 0-38 1-23 1-129 0 183 1-15 1-33 0 37 1 111 1-75 0 226 1-154 0 208 1-323 1 27 0 18 1 61 1-120 0-40 1 40 1-67 0-16 1-22 1 69 0 376 1-372 1-60 0 136 1 143 1-297 0 208 1-74 0-22 1-84 1 68 0 35 1-103 1 80 0-14 1-72 1 218 0-129 1 37 1 225 0-238 1-82 1 12 0 30 1-91 1 190 0-197 1 202 0 75 1-137 1-157 0 180 1 207 1-358 0 143 1 160 1-204 0-111 1 158 1-13 0-75 1 75 1 183 0-213 1 276 1-97 0-299 1 14 0 127 1 52 1 49 0-182 1 136 1-26 0-70 1-70 1 83 0-39 1 129 1-152 0 187 1-220 1 189 0-134 1-10 1 49 0 22 1-30 0 19 1-28 1 3 0-11 1-73 1 121 0 120 1-258 1 59 0 170 1 207 1-215 0-201 1 136 1 5 0 52 1-138 1 113 0-158 1 35 0-28 1 267 1-97 0-101 1 143 1-215 0 135 1-125 1 35 0-75 1 77 1 417 0-280 1-214 1 18 0 523 1-417 1-84 0 91 1-56 0 215 1-101 1 10 0 193 1-350 1-1 0 56 1 62 1 130 0-102 1 73 1-71 0-177 1 281 1-277 0 105 1 57 1-18 0 153 1-127 0 137 1-29 1-185 0 24 1-121 1-20 0 86 1 123 1-134 0 97 1-97 1 110 0-8 1 37 1 2 0-79 1 147 1-270 0 187 1-118 0 169 1 0 1-65 0-128 1-44 1 347 0-311 1 45 1 17 0 78 1-100 1 218 0-322 1 75 1 11 0 112 1-190 1 502 0-347 1 2 0 87 1-9 1 11 0-24 1-163 1 182 0 87 1 7 1-134 0 144 1-293 1 158 0 32 1-147 1 74 0-29 1 128 1-2 0-149 1 135 0-239 1 135 1-81 0 68 1-38 1 26 0-47 1 125 1-176 0 235 1-88 1-37 0 109 1-108 1-9 0-104 1 15 1 181 0 35 1-180 0 117 1-179 1 236 0-32 1-192 1 299 0-86 1-171 1 18 0 71 1-87 1 24 0 313 1-64 1-171 0-148 1 55 1-10 0 240 1-210 0 74 1 152 1 19 0-78 1-48 1-216 0 24 1 168 1-134 0 203 1 1 1 34 0-121 1 57 1-25 0 107 1-144 1-148 0 24 1-4 0 285 1-275 1 58 0-37 1 160 1 20 0-133 1-55 1 202 0-44 1-105 1 65 0 113 1-204 1 45 0 32 1-92 1 53 0 193 1-117 0 135 1-264 1 166 0-115 1 42 1-35 0-110 1 179 1-21 0 58 1-241 1 36 0 2 1 60 1-81 0 74 1-68 1 388 0-260 1-120 1 368 0-307 1-72 0 77 1 42 1-87 0-8 1-28 1 197 0-74 1 156 1-265 0 51 1 58 1-134 0 229 1-35 1 32 0 43 1-123 1 5 0 57 1-8 0-94 1 88 1-108 0 213 1-172 1-116 0 139 1 122 1-259 0 214 1-132 1-7 0 205 1-272 1 136 0 79 1-133 1 142 0-90 1 92 0 2 1-176 1 194 0-109 1-140 1 108 0-128 1 158 1-46 0 222 1-127 1 26 0-150 1 139 1-94 0 58 1-41 1-112 0 1 1 29 0-1 1 113 1-143 0 55 1-98 1 392 0-232 1-100 1-26 0 58 1 17 1-45 0 99 1 61 1-14 0-82 1-87 1 192 0-154 1 152 0 89 1-95 1 155 0-346 1-46 1 34 0 193 1-19 1 278 0-444 1 42 1 101 0 51 1 52 1 91 0-248 1 21 1-7 0-76 1 226 0-230 1 221 1-255 0 185 1 139 1-157 0 3 1 73 1-137 0 67 1-40 1 40 0-7 1-94 1 111 0-34 1-71 1-77 0 117 1 3 0 217 1-219 1-16 0-92 1-2 1 248 0 62 1-288 1 26 0 126 1 327 1-499 0 2 1 54 1 195 0-227 1 5 1 56 0 73 1-203 0 170 1 61 1-163 0 187 1-113 1 217 0-184 1-140 1 296 0-160 1-30 1 125 0-178 1 161 1-57 0 98 1-180 1 311 0-343 1 152 0-204 1 66 1 405 0-147 1-181 1 106 0-238 1 49 1-31 0 171 1-116 1-1 0 125 1-62 1-33 0-90 1-4 1 23 0-29 1 154 0-20 1 11 1-83 0-59 1 120 1 45 0-107 1 52 1 18 0 197 1-217 1 44 0 25 1 10 1 31 0-29 1-183 1 394 0-264 1-129 0 114 1 24 1-99 0 95 1-134 1 137 0-73 1 21 1-23 0-75 1 102 1 109 0-111 1-88 1 246 0-139 1-24 1 216 0-94 1 109 0-80 1-120 1-122 0 54 1 189 1-99 0-59 1 152 1-111 0 48 1-151 1 299 0 42 1-372 1 24 0 148 1 135 1-126 0-82 1-104 0 189 1 90 1-249 0 208 1-120 1 59 0-118 1 24 1 26 0 107 1-57 1-137 0 241 1-32 1 69 0-235 1 16 1 1 0 73 1 12 0 52 1-8 1-85 0 87 1-191 1-49 0 153 1 54 1 269 0-434 1 329 1-144 0-26 1 47 1-148 0-3 1 80 1-111 0 50 1 64 0 189 1-26 1-238 0 160 1-91 1-22 0-73 1 54 1-118 0 17 1 294 1-149 0-34 1 241 1-252 0-85 1-20 1 187 0-43 1-161 0 172 1-112 1-50 0 20 1 139 1 23 0-181 1 153 1-110 0-46 1 221 1-106 0 70 1-155 1 47 0 37 1 124 1-87 0-121 1 192 1-125 0 103 1 102 0-148 1-3 1 5 0 161 1-174 1 26 0 129 1-52 1-196 0 176 1-6 1-61 0 259 1-118 1-173 0-5 1 92 1 166 0-306 1-4 0 162 1-189 1 374 0-347 1 69 1-69 0 138 1-97 1 160 0-183 1 115 1-60 0 32 1-186 1 135 0-29 1-76 1 5 0-4 1 154 0-33 1-66 1 191 0-28 1 60 1-139 0-128 1 147 1-164 0 72 1 184 1 22 0-75 1-72 1-90 0 309 1-159 1-123 0 180 1-162 0 184 1-35 1-73 0-72 1 43 1 2 0 232 1-351 1 181 0-142 1 160 1-41 0 22 1 14 1-120 0 116 1-134 1 24 0 56 1 83 0-212 1 187 1 91 0-42 1-131 1 172 0-226 1 130 1-94 0 148 1-158 1 9 0-5 1-87 1 115 0 67 1 49 1-47 0-220 1 77 0-43 1 354 1-49 0-187 1-61 1 65 0-51 1-70 1 126 0-125 1 47 1 93 0-50 1 40 1-170 0 71 1 15 1 62 0 254 1-333 0 339 1-221 1 76 0-199 1 210 1-116 0-102 1 187 1-249 0 245 1-160 1 58 0 248 1-177 1 237 0-332 1 1 1 114 0-94 1-95 0 139 1 236 1-378 0 1 1-37 1 257 0-186 1 187 1-72 0-158 1 133 1 166 0-265 1 2 1 176 0-88 1 20 1-66 0 68 1-139 0 80 1-74 1 162 0 4 1 104 1-202 0-58 1 400 1-326 0-58 1 97 1-131 0-8 1 175 1 131 0-179 1 2 1-114 0 138 1 257 0-188 1-94 1 39 0-25 1-133 1 31 0-7 1 54 1 417 0-529 1 40 1 145 0 20 1-194 1 344 0-114 1-87 1-16 0 69 1 77 0-244 1 276 1-21 0-234 1 34 1-25 0 42 1-83 1 143 0-138 1 152 1-104 0 138 1-76 1-8 0-54 1 44 1-6 0 77 1-18 0 22 1-160 1 192 0 49 1-201 1 106 0-103 1 110 1-108 0 68 1-50 1-48 0 252 1-196 1 193 0-43 1-166 1 187 0-206 1 151 0-150 1 267 1-167 0-35 1-104 1 481 0-203 1 11 1-216 0-81 1 149 1 68 0-184 1 200 1-100 0-5 1 438 1-492 0-18 1 51 0 45 1-71 1-43 0 273 1-159 1 233 0-208 1-132 1 40 0-76 1 348 1-322 0 61 1 39 1 22 0-42 1 11 1 40 0-6 1 60 0-53 1-58 1 261 0-131 1-232 1 211 0-16 1-155 1 131 0-46 1-42 1 98 0 103 1-14 1-151 0 4 1 99 1-154 0 162 1 24 1 1 0-19 1-106 0-58 1 194 1-244 0-25 1 138 1 208 0-366 1 171 1-130 0 100 1 25 1-22 0-48 1 68 1 52 0-199 1 223 1 67 0 54 1-64 0-199 1 69 1 30 0-43 1-170 1 245 0-170 1 351 1-330 0 296 1-340 1 94 0 159 1-149 1-126 0 306 1-121 1-157 0 128 1 112 0-147 1 112 1-105 0-53 1 54 1 249 0-285 1 158 1-156 0-50 1-30 1 63 0 28 1-1 1 46 0 148 1-182 1 123 0 49 1-279 0 312 1-276 1 112 0-126 1 66 1 137 0-115 1 160 1-90 0-39 1 48 1-55 0 280 1-322 1-25 0-77 1 56 1 42 0-88 1-5 0 6 1 147 1 7 0 110 1-189 1-64 0 35 1 92 1 39 0-18 1-9 1-175 0 20 1 317 1-357 0 170 1-17 1-91 0 310 1-136 0 50 1-203 1-5 0-21 1 226 1-271 0 387 1-291 1-36 0 260 1-301 1 300 0-287 1 251 1-275 0 108 1-87 1 274 0-183 1 237 0-247 1 95 1-54 0 62 1 128 1-166 0-100 1 76 1-74 0 414 1-221 1-8 0 101 1-334 1 215 0 101 1-171 1-11 0 183 1-121 0-88 1 100 1-179 0 142 1 23 1-220 0 167 1-148 1 136 0-16 1 81 1-196 0 48 1 157 1-41 0-158 1 0 1 172 0-62 1-5 0-41 1-37 1 293 0-300 1 58 1 91 0 35 1 53 1-85 0 40 1-99 1 58 0 25 1-102 1 149 0-108 1 55 1-157 0 99 1-53 0 196 1-135 1 75 0-134 1 7 1-3 0-17 1 222 1-268 0-33 1 319 1-252 0-58 1-1 1 200 0-61 1 116 1-252 0 109 1 92 0-3 1 30 1-191 0 135 1-203 1-8 0 172 1-21 1 67 0 40 1-207 1 175 0-164 1 257 1-54 0 48 1-297 1 138 0 52 1-183 0 14 1-28 1 316 0-42 1 18 1-147 0-96 1 123 1 153 0-222 1 173 1-107 0 59 1 133 1-94 0 36 1-168 1-119 0 206 1-69 0 101 1-227 1 204 0-113 1-56 1 424 0-220 1-164 1 30 0 152 1-157 1-111 0-1 1 257 1-153 0 57 1 182 1 146 0-299 1-23 0-77 1 141 1-92 0 253 1-134 1-135 0-38 1 144 1-48 0-89 1 46 1-80 0 150 1 34 1-90 0 192 1-148 1 77 0-260 1-2 0 226 1 61 1-191 0-106 1 102 1-112 0 363 1-209 1 132 0-43 1-100" transform="scale(.1)" fill="none" stroke="#cfb59c" stroke-width="9.5" stroke-linejoin="round"/>
<path d="M625 1939l1 16 1 11 1-30 2 32 1-56 1 21 1 8 1 79 1 36 1-3 1-37 2-85 1 167 1-156 1 90 1-101 1 56 1 0 1-97 2 56 1-10 1-1 1 98 1-100 1-101 1 179 2-104 1-6 1 1 1 77 1-13 1 45 1-60 1-75 2 110 1 77 1-118 1-44 1 60 1-104 1 100 1-11 2 60 1-41 1-62 1-1 1-21 1 26 1 13 2 145 1-72 1-173 1 156 1-64 1 39 1-41 1 34 2 58 1-12 1-61 1 45 1 89 1-144 1-27 2 5 1-1 1 137 1-172 1 94 1 42 1-26 1 15 2 30 1-68 1-9 1 19 1-19 1 18 1 30 1-8 2-59 1 107 1-50 1-79 1 37 1-21 1 34 2 64 1-43 1-28 1 28 1-12 1-19 1-37 1 71 2-85 1 61 1-52 1-8 1-31 1 35 1-1 1-32 2 184 1-43 1-107 1 177 1-133 1 0 1 94 2-34 1-86 1 6 1 61 1 14 1-6 1-66 1 103 2-78 1 82 1-129 1 37 1-59 1 201 1-16 1-81 2-113 1 143 1-133 1 60 1 0 1-29 1 94 2-22 1 36 1-76 1-93 1 119 1-48 1 7 1 10 2 20 1-81 1 66 1 32 1-86 1 16 1 25 2 24 1-94 1 86 1 34 1-66 1 49 1-17 1 19 2-10 1 84 1-46 1-5 1 37 1-64 1-29 1 69 2-166 1 119 1-30 1 85 1-13 1-136 1 51 2 43 1 70 1-162 1 136 1-26 1-18 1-28 1 19 2 2 1-105 1 97 1-18 1 107 1-125 1 144 1-65 2-159 1 165 1-42 1 65 1 0 1-127 1 86 2-20 1 12 1 68 1-76 1-67 1 102 1-69 1-34 2 129 1-117 1 161 1-150 1 56 1 45 1-57 1 27 2 64 1-156 1-5 1 122 1-36 1 5 1-14 2 60 1-127 1 49 1 58 1-27 1 15 1-32 1-46 2-1 1 98 1-67 1 56 1 52 1-41 1-61 2 89 1-49 1-65 1 64 1 2 1 13 1 55 1-94 2-17 1-4 1 64 1-1 1-102 1 99 1-37 1 160 2-116 1 0 1 27 1-167 1 99 1 93 1-115 2 4 1-2 1-74 1 78 1-4 1 40 1 19 1-57 2 5 1 46 1-24 1-32 1-4 1 40 1 92 1-137 2 33 1 33 1-25 1 40 1-81 1 34 1 76 2-115 1-8 1 36 1-39 1 116 1-156 1 51 1-39 2 212 1-69 1-53 1-16 1-116 1 100 1 70 1-99 2 17 1 52 1-86 1-19 1 77 1 42 1-92 2 15 1 39 1 30 1-32 1-41 1 22 1 176 1-207 2-61 1 74 1-26 1 46 1-107 1 107 1-76 2-6 1 90 1-54 1 135 1-111 1 112 1-120 1 55 2-14 1 40 1-65 1-26 1 92 1-34 1-33 1 50 2-104 1-40 1 94 1 20 1-14 1 55 1 38 2-42 1-57 1 32 1 33 1 8 1-59 1 19 1-60 2 101 1-195 1 140 1-116 1 131 1-49 1 57 1-122 2 54 1 81 1-31 1-50 1 142 1-60 1-8 2 109 1-159 1-91 1 216 1-38 1-77 1-15 1 3 2 35 1 13 1 71 1-202 1 27 1 112 1-36 1 13 2 9 1 39 1-185 1 134 1-53 1 51 1-27 2-69 1 80 1-77 1 121 1-77 1-39 1 35 1 81 2 15 1-33 1 17 1-56 1 29 1 33 1 28 2-35 1-35 1-41 1 18 1-15 1-32 1 45 1 111 2-74 1 67 1-87 1 110 1-99 1-11 1-25 1 33 2-138 1 163 1-71 1 72 1 30 1-31 1 60 2-96 1 117" transform="scale(.1)" fill="none" stroke="#0a2652" stroke-width="9.5" stroke-linejoin="round"/>
<path d="M1918 1372l1-21 1 24 1-15 1-3 1-2 1 17 2-26 1-9 1 33 1-9 1 14 1-12 1-21 1 38 2 5 1-9 1 4 1-10 1 5 1 78 1-36 2-60 1 31 1-4 1 11 1-35 1 6 1 19 1-7 2 6 1 22 1-9 1-34 1 20 1-35 1 37 1 42 2-37 1 15 1 27 1 1 1-53 1 6 1 38 2-9 1-3 1-15 1 9 1-24 1 41 1-43 1 20 2 13 1 3 1-8 1-6 1 26 1 4 1-2 2 4 1-27 1 6 1 53 1-25 1 16 1-20 1 6 2 8 1-28 1 24 1-13 1 11 1-18 1 2 1 20 2-14 1 7 1-27 1 50 1-20 1 6 1 5 2-48 1 39 1-16 1 0 1 19 1 1 1 26 1-1 2-17 1 43 1-59 1-17 1 68 1-38 1-10 1 37 2 5 1 18 1-47 1 16 1-10 1 30 1-19 2-20 1 22 1-15 1-9 1 24 1-7 1-9 1 2 2-7 1 83 1-54 1 9 1-54 1 47 1-8 1-32 2 105 1-48 1 48 1-95 1 13 1-27 1 63 2-17 1-4 1 66 1-37 1-16 1 44 1-20 1-41 2 17 1 42 1-3 1-35 1 48 1-14 1-16 2-26 1 40 1-6 1-10 1 16 1-4 1-45 1-1 2 32 1 3 1 3 1-27 1 43 1-33 1 6 1-22 2 20 1 36 1-19 1 2 1 33 1-11 1 21 2 13 1-58 1 51 1-37 1 23 1-44 1 18 1 0 2-11 1 21 1 35 1-31 1-9 1 14 1-9 1 43 2-40 1-49 1 83 1 0 1-93 1 51 1-29 2 17 1 75 1-80 1 35 1 27 1-37 1 9 1-3 2 50 1-94 1 65 1-30 1 76 1-12 1-50 1-6 2 43 1-39 1 41 1-3 1 5 1 11 1 12 2-42 1-27 1 11 1-44 1 72 1-16 1 35 1-25 2-25 1 21 1 35 1 5 1-11 1 17 1 4 2-41 1 45 1-14 1-35 1 69 1-73 1 50 1 11 2-31 1 7 1-5 1-50 1 40 1 51 1-33 1-25 2 4 1 40 1-15 1 6 1 20 1-36 1 18 2-13 1-7 1 23 1-63 1 70 1-29 1 12 1-9 2-37 1 75 1-56 1 58 1-49 1 57 1-31 1 15 2-8 1-41 1-3 1 33 1 21 1-47 1 65 2 11 1-43 1 1 1-9 1 7 1-84 1 112 1-12 2 10 1-52 1 56 1 14 1-32 1 15 1-29 1 79 2-93 1 18 1 21 1 10 1-33 1 23 1-21 2-44 1 56 1-33 1 16 1 41 1-61 1 18 1 57 2-42 1-48 1 29 1 6 1 41 1-13 1-15 1 40 2 35 1-111 1 76 1 36 1-111 1 61 1 24 2 9 1-73 1 47 1 36 1-59 1 14 1 23 1 2 2 1 1-23 1 18 1 23 1-73 1-11 1 52 2-6 1-33 1 58 1-35 1-29 1 52 1 63 1-28 2-17 1-23 1 60 1-7 1-67 1-56 1 49 1 29 2-45 1 2 1 4 1 81 1-109 1 117 1-40 2 75 1-96 1 19 1-30 1 33 1 36 1-41 1 51 2-125 1 135 1-85 1 64 1-12 1-6 1-48 1 27 2-3 1 57 1-81 1 40 1 8 1-68 1 18 2 32 1-25 1 73 1-38 1-13 1 23 1 10 1-20 2 41 1-40 1-45 1 22 1 10 1 32 1-94 1 71 2 43 1-117 1 3 1 72 1-20 1 8 1 10 2-23 1 55 1 0 1 14 1-53 1 17 1 3 1-40 2 58 1-13 1-24 1-52 1 1 1 43 1 23 2-20 1 72 1-72 1-11 1 40 1 55 1-82 1 44 2-17 1 29 1-36 1 61 1-41 1-38 1 37 1 4 2-61 1-42 1 98 1 4 1 29 1-51 1-24 2 26 1 29 1-37 1 19 1 16 1 28 1-57 1 15 2-48 1 76 1-29 1-13 1 38 1-7 1-2 1-26 2-46 1 43 1 80 1-24 1-33 1-30 1 21 2-17 1 56 1-128 1 110 1 50 1-62 1-68 1 108 2-61 1 6 1-43 1 49 1-22 1 23 1-7 1 56 2 9 1-54 1 10 1-5 1-43 1 102 1-51 2-46 1 96 1-12 1 39 1-102 1 8 1 81 1-108 2 66 1-5 1-33 1-12 1 72 1-50 1 14 2-60 1 88 1-87 1 132 1-99 1-37 1 35 1-25 2 11 1 103 1-35 1-73 1 37 1 17 1-63 1 38 2 109 1-40 1-52 1 21 1 25 1-31 1 9 2-87 1 70 1 3 1 11 1 6 1-20 1 8 1-7 2 2 1 34 1-43 1 54 1-67 1-46 1 72 1-7 2-84 1 92 1 42 1-62 1 55 1-65 1 80 2-57 1-7 1-34 1 29 1 65 1-56 1 5 1-58 2 79 1-6 1-28 1 28 1 34 1-12 1-36 1 6 2 40 1-30 1-13 1 95 1-25 1 23 1-14 2-83 1 4 1 86 1-109 1-11 1 40 1-15 1 0 2 43 1-88 1 101 1-21 1 90 1-138 1 58 2-95 1 138 1-133 1 164 1-92 1-7 1 18 1-79 2 102 1-26 1-16 1 5 1 9 1-27 1 27 1-67 2 90 1-30 1-22 1-4 1-35 1 82 1-62 2 41 1 80 1-116 1 91 1-34 1-42 1 45 1 15 2-60 1-20 1 67 1-10 1-31 1 14 1 14 1-85 2 87 1 25 1-21 1-31 1 45 1 11 1 26 2-150 1 61 1 73 1-70 1 3 1-31 1 90 1-90 2 16 1 83 1-57 1-1 1-4 1 109 1-106 1 27 2-50 1 25 1 34 1 18 1-31 1-23 1 15 2 58 1-125 1 30 1 32 1-6 1-14 1 13 1 19 2-55 1 53 1 6 1-15 1 7 1-11 1-125 2 153 1-40 1-17 1 100 1-52 1 55 1-36 1 35 2-73 1 34 1-68 1 55 1 5 1 9 1 10 1-78 2 101 1-108 1 59 1 46 1-59 1 32 1 2 2-81 1 26 1 154 1-119 1 1 1 12 1-85 1 102 2-1 1-42 1-41 1 110 1-54 1 5 1-40 1-66 2 58 1 55 1 14 1 85 1-121 1-35 1 9 2 52 1-89 1 117 1-96 1 24 1 46 1-69 1 93 2-9 1-54 1-64 1 41 1 66 1-98 1-32 1 89 2 9 1 49 1 2 1 17 1-19 1 27 1-57 2 20 1-16 1-35 1 65 1-14 1-37 1-97 1 64 2 128 1-120 1 8 1 35 1 117 1-91 1-54 1-63 2 37 1 56 1 0 1-38 1 3 1-40 1 191 2-132 1 12 1 17 1-10 1 13 1 6 1 40 1-47 2-49 1-29 1 53 1-80 1 12 1 160 1-103 2 2 1-22 1-24 1 70 1-62 1 130 1-113 1 83 2 0 1-95 1 70 1-59 1 32 1-16 1 29 1 63 2-135 1 0 1 50 1 10 1 29 1 10 1 2 2 17 1-56 1-60 1 75 1-41 1-2 1 56 1-64 2 34 1-68 1 6 1 70 1 0 1-86 1 118 1-125 2 25 1 77 1-16 1-44 1 92 1-7 1-85 2 25 1-3 1-94 1 101 1 31 1-66 1 19 1 49 2 22 1-64 1 39 1 18 1-7 1-90 1 69 1-19 2 78 1-6 1 24 1-90 1 35 1 71 1-198 2 95 1 39 1-81 1 26 1 2 1-49 1 75 1-43 2 75 1 11 1-4 1-60 1 11 1 25 1-42 2-31 1 114 1-93 1-14 1 27 1-9 1 38 1 42 2-105 1 86 1-62 1-38 1 15 1 39 1 0 1-40 2-8 1 105 1 22 1-84 1-11 1 24 1-1 2 23 1-30 1 84 1-97 1-18 1 17 1 72 1-27 2-32 1 17 1-16 1-5 1 63 1-68 1-80 1 119 2 16 1-48 1 7 1-36 1 15 1-16 1 62 2-60 1 10 1-22 1-7 1 100 1 7 1-22 1-86 2 48 1 81 1-58 1 64 1-162 1 63 1 82 1-74 2-93 1 91 1 84 1-47 1-49 1-45 1 42 2 7 1 79 1-83 1-38 1 109 1 1 1 1 1-59 2 25 1-85 1 17 1 31 1 15 1 87 1-60 2-12 1-73 1 71 1-50 1 32 1-10 1 49 1 50 2-107 1-12 1 141 1-67 1-20 1-36 1 94 1-153 2 100 1-30 1 22 1-54 1 20 1-16 1 66 2-34 1-13 1-73 1 63 1 39 1-65 1 93 1-48 2 3 1 36 1-8 1-33 1 100 1-83 1 107 1 7 2-153 1 48 1-36 1 17 1 126 1-169 1 68 2 16 1-11 1 147 1-62 1-133 1 130 1-115 1-12 2 91 1-4 1 11 1-19 1-30 1 18 1-10 1 21 2-125 1 79 1 33 1 22 1-76 1 21 1-37 2 40 1-33 1 63 1 57 1-59 1 21 1-2 1-79 2 12 1 16 1 27 1-49 1 35 1-17 1-26 2 49 1 6 1-70 1 68 1-15 1-53 1 60 1 13 2-99 1 48 1 75 1-49 1 27 1-16 1-72 1 145 2-4 1-103 1 54 1 8 1 32 1-132 1 8 2 64 1 21 1-59 1-15 1 29 1 19 1 51 1-63 2-85 1 136 1 54 1-21 1-69 1-56 1-3 1 75 2 1 1-91 1 58 1-30 1 45 1-39 1 29 2-55 1 99 1 20 1-84 1 121 1-119 1-29 1 29 2 15 1-23 1 23 1 78 1-67 1 39 1-111 1 34 2 41 1-23 1 29 1-77 1 102 1-127 1 37 2 100 1-29 1-32 1-12 1-24 1 69 1 22 1-42 2 108 1-68 1-20 1 34 1-157 1 71 1 36 2-37 1 34 1 29 1-54 1 84 1-24 1-79 1 36 2-30 1 23 1 77 1-42 1-68 1 53 1-43 1 35 2 59 1-98 1 56 1 74 1-159 1 78 1 20 2 87 1-94 1-34 1 105 1-72 1 94 1-156 1 41 2-40 1-33 1 106 1 100 1-175 1 85 1 62 1-125 2 61 1-120 1 49 1 132" transform="scale(.1)" fill="none" stroke="#0a2652" stroke-width="9.5" stroke-linejoin="round"/>
</g>
<rect x="62.5" y="1.75" width="260.0" height="274.15" fill="none" stroke="#2a2a2a" stroke-width="1.4"/>
<path d="M62.5 275.9L56.5 275.9 M62.5 257.4L59.5 257.4 M62.5 246.6L59.5 246.6 M62.5 239L59.5 239 M62.5 233L59.5 233 M62.5 228.2L59.5 228.2 M62.5 224.1L59.5 224.1 M62.5 220.5L59.5 220.5 M62.5 217.4L59.5 217.4 M62.5 214.5L56.5 214.5 M62.5 196.1L59.5 196.1 M62.5 185.3L59.5 185.3 M62.5 177.6L59.5 177.6 M62.5 171.7L59.5 171.7 M62.5 166.8L59.5 166.8 M62.5 162.7L59.5 162.7 M62.5 159.1L59.5 159.1 M62.5 156L59.5 156 M62.5 153.2L56.5 153.2 M62.5 134.7L59.5 134.7 M62.5 123.9L59.5 123.9 M62.5 116.3L59.5 116.3 M62.5 110.3L59.5 110.3 M62.5 105.5L59.5 105.5 M62.5 101.4L59.5 101.4 M62.5 97.8L59.5 97.8 M62.5 94.7L59.5 94.7 M62.5 91.8L56.5 91.8 M62.5 73.4L59.5 73.4 M62.5 62.6L59.5 62.6 M62.5 54.9L59.5 54.9 M62.5 49L59.5 49 M62.5 44.1L59.5 44.1 M62.5 40L59.5 40 M62.5 36.4L59.5 36.4 M62.5 33.3L59.5 33.3 M62.5 30.5L56.5 30.5 M62.5 12L59.5 12 M62.5 275.9L62.5 281.4 M127.5 275.9L127.5 278.9 M192.5 275.9L192.5 281.4 M257.5 275.9L257.5 278.9 M322.5 275.9L322.5 281.4" stroke="#2a2a2a" stroke-width="1.4" fill="none"/>
<text transform="translate(52.8,282.1) scale(1.04,1)" font-size="15.8" fill="#1e1e1e" stroke="#1e1e1e" text-anchor="end">10<tspan font-size="9.5" dy="-8.4">0</tspan></text>
<text transform="translate(52.8,220.7) scale(1.04,1)" font-size="15.8" fill="#1e1e1e" stroke="#1e1e1e" text-anchor="end">10<tspan font-size="9.5" dy="-8.4">1</tspan></text>
<text transform="translate(52.8,159.4) scale(1.04,1)" font-size="15.8" fill="#1e1e1e" stroke="#1e1e1e" text-anchor="end">10<tspan font-size="9.5" dy="-8.4">2</tspan></text>
<text transform="translate(52.8,98) scale(1.04,1)" font-size="15.8" fill="#1e1e1e" stroke="#1e1e1e" text-anchor="end">10<tspan font-size="9.5" dy="-8.4">3</tspan></text>
<text transform="translate(52.8,36.7) scale(1.04,1)" font-size="15.8" fill="#1e1e1e" stroke="#1e1e1e" text-anchor="end">10<tspan font-size="9.5" dy="-8.4">4</tspan></text>
<text x="48.4" y="296.9" font-size="16" fill="#1e1e1e" stroke="#1e1e1e">0.0</text>
<text transform="translate(162.8,298.5) scale(1,1)" font-size="16" fill="#1e1e1e" stroke="#1e1e1e">5.0x10<tspan font-size="9.5" dy="-9.0">4</tspan></text>
<text transform="translate(292.6,298.7) scale(1,1)" font-size="16" fill="#1e1e1e" stroke="#1e1e1e">1.0x10<tspan font-size="9.5" dy="-9.0">5</tspan></text>
<text x="192.4" y="323.8" font-size="16.5" fill="#1e1e1e" stroke="#1e1e1e" text-anchor="middle">Lifetime/ps</text>
<text transform="translate(22.4,128.4) rotate(-90) scale(1,1)" font-size="16.4" fill="#1e1e1e" stroke="#1e1e1e" text-anchor="middle">Counts per bin</text>
<text x="0.2" y="22.2" font-size="23.5" fill="#1e1e1e" stroke="#1e1e1e" letter-spacing="0.8">(a)</text>
<line x1="240" y1="15.6" x2="266" y2="15.6" stroke="#364d71" stroke-width="1.6"/>
<text x="269.6" y="19.6" font-size="11.1" fill="#364d71" stroke="#364d71">1 atm</text>
<line x1="240" y1="29.7" x2="266" y2="29.7" stroke="#31527c" stroke-width="1.6"/>
<text x="269.6" y="33.7" font-size="11.1" fill="#31527c" stroke="#31527c">1.0 GPa</text>
<line x1="240" y1="43.7" x2="266" y2="43.7" stroke="#2d608a" stroke-width="1.6"/>
<text x="269.6" y="47.7" font-size="11.1" fill="#2d608a" stroke="#2d608a">2.0 GPa</text>
<line x1="240" y1="57.8" x2="266" y2="57.8" stroke="#2b6b92" stroke-width="1.6"/>
<text x="269.6" y="61.8" font-size="11.1" fill="#2b6b92" stroke="#2b6b92">3.0 GPa</text>
<line x1="240" y1="71.9" x2="266" y2="71.9" stroke="#298696" stroke-width="1.6"/>
<text x="269.6" y="75.9" font-size="11.1" fill="#298696" stroke="#298696">4.0 GPa</text>
<line x1="240" y1="85.9" x2="266" y2="85.9" stroke="#269898" stroke-width="1.6"/>
<text x="269.6" y="89.9" font-size="11.1" fill="#269898" stroke="#269898">5.0 GPa</text>
<line x1="240" y1="100" x2="266" y2="100" stroke="#2aa69b" stroke-width="1.6"/>
<text x="269.6" y="104" font-size="11.1" fill="#2aa69b" stroke="#2aa69b">6.0 GPa</text>
<line x1="240" y1="114.1" x2="266" y2="114.1" stroke="#62bca6" stroke-width="1.6"/>
<text x="269.6" y="118.1" font-size="11.1" fill="#62bca6" stroke="#62bca6">7.0 GPa</text>
<line x1="240" y1="128.2" x2="266" y2="128.2" stroke="#a9cfc0" stroke-width="1.6"/>
<text x="269.6" y="132.2" font-size="11.1" fill="#a9cfc0" stroke="#a9cfc0">8.0 GPa</text>
<line x1="240" y1="142.2" x2="266" y2="142.2" stroke="#dccab6" stroke-width="1.6"/>
<text x="269.6" y="146.2" font-size="11.1" fill="#dccab6" stroke="#dccab6">9.0 GPa</text>
<line x1="240" y1="156.3" x2="266" y2="156.3" stroke="#cfb59c" stroke-width="1.6"/>
<text x="269.6" y="160.3" font-size="11.1" fill="#cfb59c" stroke="#cfb59c">10.0GPa</text>
<rect x="417.6" y="7.9" width="259.69999999999993" height="272.70000000000005" fill="none" stroke="#2a2a2a" stroke-width="1.4"/>
<path d="M417.6 280.6L412.6 280.6 M417.6 235.2L414.6 235.2 M417.6 189.7L412.6 189.7 M417.6 144.2L414.6 144.2 M417.6 98.8L412.6 98.8 M417.6 53.3L414.6 53.3 M417.6 7.9L412.6 7.9 M439.3 280.6L439.3 285.6 M461 280.6L461 283.6 M482.6 280.6L482.6 285.6 M504.3 280.6L504.3 283.6 M526 280.6L526 285.6 M547.6 280.6L547.6 283.6 M569.3 280.6L569.3 285.6 M591 280.6L591 283.6 M612.7 280.6L612.7 285.6 M634.3 280.6L634.3 283.6 M656 280.6L656 285.6" stroke="#2a2a2a" stroke-width="1.4" fill="none"/>
<text x="408.3" y="285.3" font-size="16.0" fill="#1e1e1e" stroke="#1e1e1e" text-anchor="end">0</text>
<text x="408.3" y="194.4" font-size="16.0" fill="#1e1e1e" stroke="#1e1e1e" text-anchor="end">3000</text>
<text x="408.3" y="103.5" font-size="16.0" fill="#1e1e1e" stroke="#1e1e1e" text-anchor="end">6000</text>
<text x="408.3" y="12.6" font-size="16.0" fill="#1e1e1e" stroke="#1e1e1e" text-anchor="end">9000</text>
<text x="439.6" y="303.2" font-size="16.4" fill="#1e1e1e" stroke="#1e1e1e" text-anchor="middle">0</text>
<text x="482.9" y="303.2" font-size="16.4" fill="#1e1e1e" stroke="#1e1e1e" text-anchor="middle">2</text>
<text x="526.3" y="303.2" font-size="16.4" fill="#1e1e1e" stroke="#1e1e1e" text-anchor="middle">4</text>
<text x="569.6" y="303.2" font-size="16.4" fill="#1e1e1e" stroke="#1e1e1e" text-anchor="middle">6</text>
<text x="613" y="303.2" font-size="16.4" fill="#1e1e1e" stroke="#1e1e1e" text-anchor="middle">8</text>
<text x="656.3" y="303.2" font-size="16.4" fill="#1e1e1e" stroke="#1e1e1e" text-anchor="middle">10</text>
<text x="547.3" y="321.6" font-size="16.2" fill="#1e1e1e" stroke="#1e1e1e" text-anchor="middle">Pressure/GPa</text>
<text transform="translate(367.6,145) rotate(-90) scale(1,1)" font-size="16.1" fill="#1e1e1e" stroke="#1e1e1e" text-anchor="middle">Short average lifetime/ps</text>
<text x="337.5" y="22.5" font-size="23.5" fill="#1e1e1e" stroke="#1e1e1e" letter-spacing="0.8">(b)</text>
<path d="M440.9 45.7L459.4 111.6 M464.5 122.2L479.1 142.2 M486.6 151.6L500.4 167.4 M508.3 176.5L522 192.1 M531.1 199.7L542.5 206.5 M552.9 212.4L564.1 218.6 M575 223.6L585.4 227.4 M596.4 231.9L607.2 236.9 M618.4 241.1L628.6 244.1 M640 247.8L650.3 251.5" stroke="#8c8c14" stroke-width="2.1" fill="none"/>
<circle cx="439.3" cy="39.9" r="4.8" fill="url(#ball)"/>
<circle cx="461" cy="117.3" r="4.8" fill="url(#ball)"/>
<circle cx="482.6" cy="147" r="4.8" fill="url(#ball)"/>
<circle cx="504.3" cy="171.9" r="4.8" fill="url(#ball)"/>
<circle cx="526" cy="196.6" r="4.8" fill="url(#ball)"/>
<circle cx="547.6" cy="209.5" r="4.8" fill="url(#ball)"/>
<circle cx="569.3" cy="221.5" r="4.8" fill="url(#ball)"/>
<circle cx="591" cy="229.4" r="4.8" fill="url(#ball)"/>
<circle cx="612.7" cy="239.4" r="4.8" fill="url(#ball)"/>
<circle cx="634.3" cy="245.8" r="4.8" fill="url(#ball)"/>
<circle cx="656" cy="253.5" r="4.8" fill="url(#ball)"/>
<g clip-path="url(#cc)">
<path d="M867 5212l22-785 24-456 11 63 11 64 11 114 11 97 11 75 11 76 11 62 11 57 11 60 11 63 11 63 11 72 11 62 11 66 11 47 11 43 11 20 11 14 11 16 11 9 11 8 11 14 10 6 13-11 12-3 12 4 13 0 13 2 12 12 12-6 13 1 13-3 12 0 12 1 13-2 13 7 12-7 12 15 13-9 13 8 12 2 12-12 13 8 13-2 12-8 12 14 13-10 13 12 12-3 12 5 13-5 13 4 12 2 12-1 13-7 13-3 12 14 12-9 13 12 13-7 12 5 12-1 13 1 13 3 12 10 12-14 13 1 13-3 12 3 12 9 13 0 13 1 12-3 12 12 13-11 13-1 12 8 12-8 13-6 13 10 12 0 12 2 13 10 13-13 12 6 12-2 13 2 13 2 12 2 12-2 13 0 13-1 12 10 12-1 13 1 13 2 12-4 12 1 13-9 13 8 12 11 12-12 13 4 13 2 12-1 12-1 13 0 13 12 12-15 12 13 13 0 13-2 12 0 12 6 13 5 13-12 12 5 12 2 13-1 13 4 12-5 12 12 13-6 13-6 12 8 12-7 13 0 13 3 12 0 12 18 13-15 13 2 12-6 12 7 13 11 13-9 12 0 12 15 13-12 13 1 12-1 12-3 13 6 13 9 12-15 12 12 13 2 13 2 12 6 12-6 13-1 13-1 12-1 12 11 13-5 13 10 12-13 12-7 13 10 13 6 12-3 12-5 13 11 13-20 12 34 12-11 13-4 13-6 12 5 12 0 13 0 13-4 12 9 12 4 13 15 13-21 12-2 12 5 13 5 13-11 12 2 12 24 13-14 13 2 12 10 12-7 13-5 13 2 12-2 12 9 13-14 13 6 12 11 12-4 13-2 13 8 12-13 12 8 13 1 13 1 12 1 12 0 13 0 13 10 12-3 12-1 13-9 13 2 12 10 12 2 13-2 13 2 12-1 12 11 13-8 13-4 12 16 12-5 13-3 13-9 12 15 12 6 13-16 13 10 12-10 12 11 13-5 13 6 12-13 12 14 13 12 13-5 12-11 12 7 13-6 13 11 12-9 12-1 13 6 13-4 12 6 12 10 13-5 13-1 12-2 12-5 13 6 13 5 12-3 12 12 13-14 13 4 12 10 12-9 13 9 13-10 12-1 12 9 13 0 13 10 12-3 12 7 13-16 13-2 12 20 12-8 13-11 13 10 12 7 12 1 13-9 13-4 12 13 12 6 13-17 13 1 12 10 12 2 13-12 13 15 12-8 12 4 13 14 13-13 12 13 12-3 13 2 13-20 12 4 12 19 13 0 13 2 12-13 12-1 13 13 13 9 12 0 12 2 13-17 13 9 12-5 12-3 13 15 13-12 12-9 12 21 13-7 13-11 12 10 12-7 13 23 13-20 12 9 12 3 13-14 13 15 12-10 12 11 13-4 13 9 12 0 12-1 13 0 13-18 12 16 12 21 13-7 13-29 12 11 12-3 13 34 13-20 12-7 12 0 13 17 13-13 12 1 12 1 13 11 13-5 12 5 12-7 13-8 13 25 12-23 12 22 13-1 13-18 12 13 12 2 13-7 13 7 12-2 12-13 13 28 13-1 12-10 12 10 13-1 13 2 12-23 12 6 13 15 13-5 12-4 12-1 13 21 13-11 12 6 12-11 13 8 13 4 12 12 12-4 13-2 13-12 12 14 12-1 13-5 13 5 12-4 12-12 13 20 13-6 12 8 12-6 13 10 13 3 12-14 12-1 13 17 13 2 12 3 12-7 13-27 13 35 12-22 12 25 13-23 13 18 12-18 12 16 13-23 13 12 12 3 12 5 13 16 13-9 12-9 12 16 13-7 13 9 12-13 12-15 13 23 13-6 12 10 12-6 13 14 13-20 12 6 12-19 13 15 13 10 12-9 12 8 13 3 13-9 12 28 12 1 13-16 13-10 12 9 12-11 13 13 13 3 12-10 12 6 13 3 13-17 12 19 12-3 13 2 13 21 12-2 12 0 13-11 13-5 12-8 12 36 13-18 13-23 12-3 12 17 13-15 13 30 12 10 12-12 13-4 13-9 12 5 12 6 13 4 13 24 12-23 12 17 13-5 13-2 12-15 12 2 13 8 13 16 12-15 12-13" transform="scale(.1)" fill="none" stroke="#163a68" stroke-width="18.5" stroke-linejoin="round"/>
<path d="M867 5626l22-1249 24-416 11 171 11 142 11 113 11 88 11 77 11 77 11 83 11 111 11 123 11 113 11 108 11 106 11 106 11 9 11 74 11 6 11 16 11-11 11-7 11 27 11-32 11 5 10 40 13-30 12-8 12 20 13-16 13 4 12 3 12 10 13-18 13 9 12-2 12 44 13-52 13 34 12-39 12 22 13-6 13 5 12 12 12-16 13 5 13 7 12-24 12-1 13 35 13-11 12-9 12 5 13 2 13 5 12-4 12 12 13-7 13-7 12-5 12 14 13-1 13 25 12-2 12-29 13 2 13-9 12-20 12 36 13 11 13-26 12 30 12-17 13-5 13 19 12-2 12-1 13 4 13-26 12 11 12 28 13-17 13 7 12-6 12 11 13-8 13 6 12-2 12 9 13-14 13 9 12-21 12 15 13 21 13-17 12 3 12 5 13-21 13-15 12 16 12 40 13-28 13 1 12 16 12-3 13 4 13 22 12-2 12-32 13 10 13-23 12 10 12 21 13 6 13-22 12 12 12 29 13-17 13 2 12-4 12-15 13-3 13-8 12 26 12 36 13-51 13 11 12 12 12-15 13-4 13 13 12 4 12 13 13-1 13-9 12 2 12 31 13-42 13 5 12 1 12-7 13 18 13-3 12-17 12 34 13-31 13 23 12-25 12 48 13-65 13 40 12-16 12 8 13-11 13 33 12-24 12-3 13 0 13 30 12-42 12 23 13-22 13 17 12 18 12 1 13-10 13 33 12-39 12 12 13-16 13 24 12-7 12 19 13-9 13-12 12 5 12 10 13-2 13-12 12 23 12-47 13 29 13 40 12-61 12 50 13-31 13-13 12 9 12-11 13 1 13 23 12 10 12-12 13 17 13-19 12 15 12-25 13 15 13 4 12 4 12-20 13 19 13-9 12-15 12 8 13 27 13-19 12-12 12 21 13 30 13-19 12 1 12-11 13-35 13 26 12 20 12-25 13 39 13-14 12-15 12 15 13-32 13 5 12 52 12-33 13 26 13 1 12 2 12-9 13-5 13-27 12 13 12 5 13 4 13 22 12-10 12-23 13 6 13 3 12 35 12-33 13 43 13-13 12-31 12 18 13-26 13 51 12-40 12-13 13-4 13 27 12-26 12 88 13-40 13-7 12-20 12 30 13-24 13-5 12-20 12 28 13 24 13-20 12-20 12 45 13-34 13 10 12-15 12 12 13-3 13-5 12-1 12 40 13-29 13 10 12-7 12-20 13 28 13 30 12-2 12-41 13 29 13-11 12-5 12 3 13 6 13-31 12 19 12 24 13 8 13-4 12-33 12 2 13 6 13 14 12-12 12 12 13 28 13-30 12 16 12 0 13 18 13-22 12 19 12 2 13-11 13 12 12-29 12 20 13-12 13-27 12 24 12 13 13-17 13 13 12 1 12-4 13 7 13 7 12-1 12-14 13 19 13-38 12 21 12-3 13 4 13-29 12 15 12 62 13-65 13 63 12-10 12-10 13-16 13 10 12-20 12-15 13 36 13-40 12 29 12-6 13-8 13 8 12 14 12 42 13-71 13 43 12-35 12 7 13 19 13-25 12 31 12 18 13-37 13 16 12 18 12 0 13 10 13-61 12 20 12-25 13 64 13-18 12-10 12 0 13 36 13-29 12 7 12 18 13-10 13 16 12-24 12-6 13 12 13-19 12-29 12 33 13-17 13 57 12-48 12-13 13 60 13-70 12 67 12-56 13 35 13-14 12-37 12 18 13 15 13 30 12 3 12-7 13-10 13-4 12-61 12 58 13 28 13-1 12-45 12 21 13 27 13-28 12-18 12 13 13 38 13-16 12 27 12-24 13 16 13 15 12-36 12 13 13 20 13-39 12-15 12 37 13-42 13 48 12-43 12 78 13-70 13 6 12-6 12 7 13-4 13 22 12 25 12-56 13 40 13-52 12 57 12-22 13 25 13-34 12 50 12-36 13 8 13-11 12 70 12-31 13-42 13 8 12-51 12 58 13 26 13-40 12-16 12-3 13 89 13-58 12 2 12-18 13 61 13-77 12 50 12 14 13-32 13-5 12 37 12-54 13 15 13 16 12-14 12-3 13-6 13 8 12 6 12-24 13 15 13-9 12 38 12-11 13-12 13 27 12-26 12-48" transform="scale(.1)" fill="none" stroke="#0f3f70" stroke-width="18.5" stroke-linejoin="round"/>
<path d="M867 5765l22-1439 24-386 11 217 11 175 11 122 11 100 11 84 11 86 11 138 11 144 11 145 11 136 11 149 11 70 11 9 11 18 11 22 11 15 11 19 11-5 11-46 11-5 11 74 11-66 10 31 13-10 12-9 12 9 13-35 13 58 12-55 12 15 13 4 13 5 12 6 12-12 13 4 13-2 12 9 12 10 13 11 13-3 12-7 12 38 13-38 13-17 12 17 12 23 13-15 13-21 12 25 12 2 13-11 13-25 12 31 12 16 13-34 13 9 12-5 12 17 13-10 13 43 12-19 12 15 13-48 13 2 12 18 12-14 13 14 13 20 12 5 12 0 13-5 13-12 12-30 12 57 13-22 13-13 12 32 12-24 13 31 13-13 12-13 12 22 13 5 13-27 12 5 12 2 13 37 13-13 12-37 12-40 13 73 13-44 12 60 12-10 13-38 13 29 12-5 12 17 13 4 13-60 12 18 12 21 13 31 13-14 12 18 12-49 13 37 13-46 12 21 12 32 13 20 13-42 12-9 12 7 13-8 13 6 12-13 12-11 13 42 13-22 12-13 12 21 13 13 13-27 12 28 12 5 13 40 13-43 12-15 12-43 13 49 13-10 12 23 12-36 13 50 13-27 12-43 12 55 13 6 13-12 12 11 12-14 13-8 13 7 12 18 12 43 13-116 13 36 12 27 12-24 13 66 13-47 12 18 12-9 13 8 13 0 12 20 12-1 13-11 13 27 12-12 12-10 13-13 13 34 12-55 12 55 13 11 13 12 12-57 12 8 13-7 13 35 12-7 12-17 13-26 13 39 12-13 12 12 13-6 13 84 12-68 12 10 13-17 13-12 12-31 12 65 13 19 13-44 12 13 12 14 13-90 13 49 12 37 12 1 13 2 13-25 12 0 12 18 13 26 13-62 12 8 12 24 13 42 13-67 12 61 12-26 13-59 13 67 12-68 12 72 13-44 13 48 12 4 12 19 13-54 13 54 12-81 12 62 13-26 13 62 12-44 12 33 13-24 13-47 12 25 12-18 13 0 13 76 12-50 12-7 13 53 13-7 12-26 12-41 13 52 13-39 12 93 12-72 13-48 13 46 12 38 12-11 13-28 13-16 12 22 12-36 13 34 13-2 12 30 12-16 13 33 13-23 12-49 12 58 13-34 13 30 12-34 12 47 13-32 13-19 12 7 12 12 13 0 13 7 12 7 12-15 13 46 13-76 12 69 12-22 13 76 13-68 12-34 12-4 13 42 13-32 12 72 12-65 13-32 13 45 12 33 12-6 13 35 13-41 12 33 12-67 13 38 13-13 12-34 12 18 13 40 13-27 12-4 12-31 13 20 13 33 12-28 12-8 13-50 13 76 12 45 12 21 13-2 13-69 12-28 12 38 13 9 13-47 12 50 12-26 13 7 13-30 12 86 12-66 13-2 13 7 12 9 12 57 13-15 13-41 12 4 12 29 13-11 13-18 12 14 12-8 13-67 13 61 12 36 12-14 13-33 13 23 12-11 12 3 13 22 13-6 12 19 12-43 13 0 13 5 12-19 12 21 13 22 13 1 12-1 12-56 13 31 13 32 12-28 12 28 13 3 13-3 12 13 12 31 13-37 13-56 12 44 12-35 13 26 13 1 12-3 12-29 13 25 13-19 12 9 12 11 13 33 13-28 12 9 12-8 13 28 13-51 12 53 12-33 13 21 13-61 12 47 12-56 13 59 13-61 12 57 12-28 13 37 13-19 12 101 12-98 13 83 13-75 12-18 12 120 13-96 13-15 12 5 12-2 13 54 13-49 12 2 12 20 13-13 13-56 12 64 12-50 13-49 13 55 12 32 12-15 13-61 13 83 12 1 12 17 13 2 13-21 12-23 12-4 13 61 13-145 12 86 12 6 13-9 13 64 12-32 12-9 13-10 13 25 12 31 12 27 13-75 13 31 12-19 12-39 13 42 13-42 12 29 12-18 13 56 13-30 12-49 12 41 13 50 13-27 12-23 12-48 13 63 13-32 12 14 12 13 13 31 13 27 12-18 12-23 13 16 13-22 12-37 12 7 13 50 13 27 12 7 12-44 13 29 13-35 12 4 12 16 13 60 13-102 12-25 12 48 13 51 13-18 12-35 12 13 13-10 13-18 12 48 12 10" transform="scale(.1)" fill="none" stroke="#1a5a8a" stroke-width="18.5" stroke-linejoin="round"/>
<path d="M867 5773l22-1498 24-355 11 245 11 200 11 137 11 113 11 79 11 130 11 198 11 196 11 168 11 135 11 90 11 0 11 28 11 5 11-9 11 75 11-98 11 35 11-32 11 59 11-32 11 17 10 21 13-10 12-59 12 71 13 1 13-58 12 61 12-90 13 18 13 85 12-68 12-28 13 50 13 15 12 57 12-50 13-26 13 7 12 59 12-92 13 74 13-73 12 39 12-24 13 28 13 23 12-73 12 56 13-6 13 22 12-75 12 72 13 3 13-42 12 16 12-28 13 36 13 50 12-50 12 13 13-15 13 8 12-13 12-11 13-23 13 101 12-77 12 30 13 48 13-39 12 45 12-76 13 19 13-1 12 19 12-1 13-12 13 31 12-38 12-25 13 8 13 3 12 79 12-37 13-6 13-45 12 31 12 57 13-41 13-85 12 44 12 80 13-31 13 4 12-91 12 89 13-19 13 75 12-56 12 29 13-21 13 47 12-72 12 63 13-48 13 60 12-43 12-39 13 53 13-53 12 78 12-65 13 33 13-11 12 29 12-42 13 8 13 21 12-56 12 25 13 24 13 39 12-32 12-33 13 60 13-38 12-66 12 73 13-67 13 64 12 14 12-45 13 40 13 5 12 2 12-51 13-8 13 37 12 84 12-100 13 101 13-31 12-95 12 79 13-94 13 101 12-62 12-34 13 26 13 78 12-39 12 27 13-91 13 43 12-3 12 55 13-23 13-4 12 2 12-9 13 47 13-56 12 67 12-36 13-90 13 125 12-12 12-12 13 17 13 17 12-32 12 27 13-33 13 59 12-23 12 11 13-32 13-24 12 14 12 62 13 43 13-82 12-71 12 16 13 27 13-3 12 18 12 44 13-54 13 46 12-4 12-99 13 106 13-109 12 131 12 24 13-64 13 40 12-32 12-18 13 26 13-62 12 24 12-9 13 0 13 51 12 22 12-138 13 121 13-41 12 20 12-32 13-46 13 44 12-10 12-48 13 30 13 15 12 52 12 32 13-90 13 43 12 95 12-58 13 27 13-75 12 104 12-80 13 103 13-130 12-40 12 48 13-13 13 31 12-22 12 22 13 5 13-15 12-9 12 31 13 18 13 58 12-100 12 40 13-13 13 145 12-155 12-81 13 81 13 9 12 23 12-49 13 47 13 24 12-115 12 59 13-4 13 26 12-40 12 48 13 5 13 13 12-48 12 169 13-215 13 57 12-11 12 118 13-102 13-18 12 85 12-49 13-9 13 32 12 29 12-55 13 83 13-87 12 37 12 35 13-63 13-48 12 50 12-58 13 40 13 12 12 42 12-108 13 24 13 0 12 29 12 28 13-9 13 65 12-117 12 127 13-91 13 52 12-33 12 52 13-49 13 29 12-135 12 17 13 82 13-24 12 55 12-14 13 24 13 41 12-63 12 44 13-26 13-45 12 1 12 9 13-15 13 47 12 35 12-44 13 55 13-95 12 15 12 86 13-47 13-6 12 27 12-71 13 44 13-40 12 83 12-5 13-101 13 64 12-57 12 8 13 94 13-76 12 11 12 4 13-72 13 53 12-24 12 89 13-105 13 26 12-47 12 22 13 81 13-27 12-17 12 96 13-136 13 65 12 90 12-148 13 101 13-37 12 69 12-92 13-11 13 38 12-52 12 59 13-24 13 80 12 23 12-153 13 73 13 13 12-12 12 62 13-102 13-105 12 173 12-75 13 91 13-54 12 63 12 60 13-111 13-44 12-30 12-33 13 99 13-13 12-43 12 10 13-26 13 73 12-25 12 33 13-36 13 66 12-18 12-8 13 8 13-56 12 63 12-56 13-18 13 71 12 126 12-200 13 91 13 76 12-120 12 4 13-15 13 31 12 1 12 109 13-166 13 4 12 7 12 6 13 13 13 70 12-113 12 15 13 48 13 45 12-63 12-54 13-13 13 103 12 17 12-24 13-84 13 33 12 47 12 8 13-1 13-57 12 105 12-66 13 114 13-140 12 83 12-66 13 51 13-24 12-63 12 64 13-68 13 79 12-52 12 75 13 8 13-104 12 209 12-220 13 15 13-27 12 23 12 62 13-93 13 91 12-136 12 101 13 17 13-29 12 26 12-25 13 30 13-36 12 105 12-39 13-19 13 39 12-93 12 106" transform="scale(.1)" fill="none" stroke="#1b7393" stroke-width="18.5" stroke-linejoin="round"/>
<path d="M867 5971l22-1747 24-344 11 289 11 225 11 146 11 98 11 163 11 284 11 316 11 335 11 46 11 79 11-50 11-5 11 39 11-31 11-42 11 160 11-56 11-48 11 34 11 32 11 24 11-76 10-8 13 69 12-60 12 0 13-1 13 56 12-44 12 10 13 15 13 65 12-74 12-46 13-29 13 63 12-55 12 26 13 7 13 8 12 51 12-37 13-10 13-27 12 134 12 11 13-84 13-113 12 92 12 148 13-112 13 7 12-67 12 71 13-29 13-78 12 12 12 36 13 65 13 18 12-22 12-115 13 50 13-54 12 37 12 33 13 27 13-78 12 56 12-35 13 22 13-44 12 48 12 92 13-55 13-60 12 109 12-65 13-27 13 31 12 0 12-24 13-65 13 120 12-22 12 76 13-55 13-26 12 92 12-165 13 88 13 25 12-101 12 74 13-59 13 61 12-16 12 36 13-12 13-106 12 58 12 16 13 11 13 10 12 30 12 44 13-51 13-10 12 10 12 6 13-70 13-32 12 43 12-11 13 100 13-62 12 0 12 38 13-13 13-71 12-2 12 15 13 26 13 63 12-118 12 38 13 16 13-16 12 29 12 32 13 23 13-17 12-75 12 68 13-77 13-16 12 120 12-74 13 147 13-119 12 10 12 144 13-127 13-11 12-39 12 57 13-31 13 66 12 4 12-99 13 52 13-42 12 8 12-27 13-15 13 101 12-42 12-84 13 125 13-139 12 135 12 35 13-105 13-19 12 70 12-10 13 26 13-115 12 117 12-107 13-32 13 53 12 132 12-120 13 12 13 23 12-42 12 42 13 2 13 1 12-79 12 87 13-64 13 39 12 2 12-128 13 80 13 119 12-113 12 51 13 3 13 23 12-3 12-64 13-63 13 81 12 20 12-14 13-18 13-6 12 40 12-66 13 80 13-33 12-13 12 32 13 1 13-24 12-104 12 112 13 6 13 81 12-123 12 53 13-6 13-3 12 73 12 94 13-206 13-73 12 130 12 9 13 54 13-178 12 52 12 51 13 3 13 1 12-51 12 114 13-62 13-46 12 71 12-48 13-35 13 33 12 31 12-8 13-70 13 0 12-22 12 41 13 120 13-86 12 10 12 84 13-98 13 28 12 74 12-48 13-88 13 27 12-15 12 2 13-6 13 40 12-61 12-48 13 111 13 27 12-87 12 117 13-96 13 23 12-27 12 46 13-20 13 83 12-28 12-80 13-16 13 18 12 122 12-89 13 82 13-24 12-65 12-5 13 24 13 26 12-42 12-9 13 45 13-53 12 45 12-42 13 88 13-98 12 119 12 68 13-194 13 35 12-15 12-43 13 12 13 79 12 7 12-150 13 162 13-15 12 55 12 3 13-107 13-88 12 174 12-35 13-13 13 44 12-38 12 56 13-109 13 99 12-111 12 110 13-71 13 77 12-121 12-19 13 130 13-70 12-72 12 0 13 99 13-14 12-3 12 25 13 96 13-72 12-13 12 42 13-69 13-96 12 166 12-73 13-39 13 55 12-95 12-17 13 72 13 3 12-21 12 20 13 41 13 16 12-101 12 54 13 74 13-26 12-34 12-2 13-55 13 48 12 31 12-10 13 76 13 3 12-12 12-84 13-3 13 37 12 34 12-84 13-22 13 70 12 36 12-140 13 110 13-112 12 47 12 43 13-59 13 1 12 53 12-21 13 3 13 53 12-90 12 64 13-58 13 29 12-26 12 54 13 15 13-81 12 80 12-92 13 61 13-57 12 47 12 24 13 19 13-19 12-19 12-66 13 116 13-51 12 11 12 50 13 2 13-136 12 78 12 33 13-20 13 10 12-46 12 38 13-24 13 35 12-64 12 65 13-42 13-22 12-7 12 154 13-86 13-79 12 59 12-1 13-53 13-46 12 28 12 47 13 54 13-22 12 26 12-53 13 16 13 96 12-32 12-23 13 2 13-58 12 8 12 17 13 5 13 10 12-40 12 125 13-101 13-17 12 36 12-59 13 34 13-11 12 50 12-44 13-39 13 63 12-4 12-37 13 71 13 2 12-58 12 58 13-60 13-58 12 81 12 69 13-26 13 37 12-135 12 38 13 4 13 63 12-104 12 87 13 33 13-114 12 38 12 19 13 15 13-50 12 98 12-81" transform="scale(.1)" fill="none" stroke="#1d9a98" stroke-width="18.5" stroke-linejoin="round"/>
<path d="M867 6134l22-1859 24-390 11 362 11 253 11 202 11 224 11 259 11 382 11 338 11 168 11 77 11-84 11-1 11-88 11 65 11-52 11 29 11 121 11-170 11 174 11-131 11-67 11 147 11-35 10-41 13-11 12 137 12-45 13 10 13 9 12-14 12 76 13-96 13-22 12 159 12-139 13-6 13-28 12-4 12-43 13-28 13 132 12-2 12-30 13 42 13 22 12 25 12-89 13 80 13-70 12-60 12-15 13-11 13 156 12-80 12 49 13 43 13-195 12 83 12-34 13 234 13-247 12-34 12 183 13-190 13 77 12 71 12-68 13 18 13 84 12-105 12 129 13-50 13-70 12-107 12 216 13-56 13 18 12-17 12-76 13 15 13 64 12-34 12 38 13 23 13-22 12 114 12-200 13 48 13 91 12-14 12-105 13 53 13 46 12-196 12 70 13 142 13-85 12-2 12-26 13-50 13-1 12 47 12-25 13 14 13 87 12 6 12-71 13-87 13 92 12 97 12-112 13 43 13 174 12-205 12 91 13-100 13-34 12 67 12 27 13-24 13-69 12 62 12 18 13-26 13 129 12 55 12-247 13-5 13 126 12-94 12 146 13-166 13 41 12 86 12 18 13 15 13 40 12-127 12-97 13-4 13 109 12-104 12 44 13 20 13 12 12-2 12 96 13-7 13-140 12 90 12-70 13 29 13 1 12-10 12 54 13-21 13-39 12 117 12-104 13-27 13 51 12-27 12 14 13 120 13-86 12-44 12 40 13-69 13-23 12 123 12 8 13 61 13-163 12 165 12-138 13-91 13 122 12 6 12 40 13 54 13-186 12 24 12 48 13 12 13-4 12-15 12 33 13-12 13-69 12 56 12-4 13 20 13-6 12 13 12-72 13 62 13-189 12 93 12 131 13 25 13-69 12 15 12-71 13 34 13-65 12 212 12-193 13 111 13-140 12 118 12 49 13-71 13 18 12 47 12-30 13-166 13 186 12-6 12-56 13 48 13-38 12 29 12-59 13 79 13-16 12-83 12 75 13-38 13 30 12 110 12-201 13 125 13-126 12 85 12-92 13 101 13-40 12-19 12 143 13-179 13 163 12-142 12 76 13-6 13-68 12 25 12 136 13 15 13-181 12 67 12 24 13-67 13-121 12 213 12 24 13-105 13 8 12-53 12 111 13 44 13-94 12 48 12-31 13 74 13-137 12-1 12 128 13-45 13 9 12-3 12-65 13-43 13-22 12 16 12 87 13-99 13 103 12 0 12-31 13 14 13-95 12 0 12 69 13 6 13 87 12-149 12 110 13 25 13 50 12-166 12 159 13-209 13 150 12-82 12 33 13 39 13-56 12 72 12-60 13-5 13 18 12-67 12 55 13-21 13 78 12-118 12 35 13 223 13-162 12-118 12 227 13-107 13-11 12 57 12 86 13-128 13-11 12 1 12-68 13 225 13-212 12-93 12 194 13-84 13-17 12-31 12 197 13-39 13-78 12 16 12-23 13-102 13 15 12 167 12 25 13-45 13 56 12-195 12 100 13-40 13 58 12-108 12-23 13 92 13 148 12-181 12 172 13-145 13-4 12-69 12-66 13 134 13 24 12-82 12 204 13-174 13 27 12 85 12 6 13-112 13 16 12 105 12-122 13 4 13-36 12 22 12-32 13 24 13 19 12-10 12 187 13-70 13-59 12 32 12-71 13 117 13-264 12 198 12 55 13-92 13 73 12-124 12 77 13 52 13-99 12-55 12 47 13 37 13-88 12 238 12-58 13-145 13-65 12 272 12-167 13 69 13 18 12 4 12-183 13 179 13-105 12 2 12-36 13 63 13 16 12-60 12-30 13-58 13 128 12-39 12 172 13-71 13-117 12 151 12-93 13 17 13 107 12-54 12-37 13 60 13-31 12-55 12-48 13 0 13 12 12 115 12-70 13 106 13-101 12-122 12 29 13-40 13 133 12 83 12-112 13 69 13-64 12 15 12 46 13-128 13 153 12 54 12-108 13 3 13 72 12-80 12 38 13 70 13-61 12 37 12 46 13-168 13-51 12 63 12-37 13 100 13-32 12-20 12 59 13-204 13 152 12-18 12-9 13 26 13 20 12-49 12 35 13 13 13-5 12-25 12 89 13-95 13-3 12 91 12-106" transform="scale(.1)" fill="none" stroke="#4aaea4" stroke-width="18.5" stroke-linejoin="round"/>
<path d="M867 6327l22-2001 24-406 11 428 11 307 11 354 11 369 11 407 11 223 11 101 11-30 11 125 11-1 11-219 11 161 11-68 11 195 11-192 11 47 11 85 11 16 11-11 11-133 11-22 11 88 10-17 13-46 12 165 12 26 13-77 13-103 12 62 12-89 13 122 13-116 12-77 12 48 13 174 13-170 12-1 12 235 13-253 13 98 12 36 12 11 13 11 13-85 12-17 12 0 13-19 13 133 12-110 12 130 13-60 13 3 12-57 12 64 13-43 13 12 12 5 12-24 13 193 13 13 12-74 12-80 13-108 13 124 12 29 12-16 13 105 13-174 12 126 12-139 13 130 13-159 12-32 12 73 13-29 13 123 12-79 12 33 13 9 13-110 12 142 12-151 13 15 13 82 12-121 12 237 13-64 13-120 12 3 12 78 13-88 13 55 12-81 12 56 13-43 13 96 12 23 12 1 13 31 13-138 12 243 12-47 13-129 13 13 12-90 12-59 13 136 13-46 12 37 12 14 13-26 13-39 12-27 12 104 13 14 13-121 12 10 12 122 13-133 13-7 12 0 12 153 13-165 13 118 12 82 12-153 13 295 13-211 12-15 12 18 13-98 13 46 12-21 12 9 13 52 13-65 12 110 12-88 13 21 13-67 12 183 12-52 13-7 13-157 12 219 12-100 13-25 13 34 12-66 12 107 13-162 13 134 12-66 12 95 13-201 13 154 12 127 12-194 13-72 13 79 12 90 12-9 13 7 13-93 12 34 12 262 13-376 13 111 12 167 12-139 13-105 13 116 12-19 12 34 13 84 13-193 12 205 12-125 13 44 13-40 12 128 12-122 13 9 13 122 12-115 12-131 13 34 13 109 12-133 12 71 13-5 13-49 12 109 12 36 13-118 13 96 12-94 12 174 13-207 13 101 12 46 12-168 13 78 13-20 12 99 12-8 13-77 13 107 12-131 12-46 13-16 13 71 12-29 12 112 13-58 13-23 12 97 12-34 13 4 13-24 12 42 12-92 13 100 13-7 12-43 12 64 13-138 13 119 12-71 12 49 13-51 13 53 12-93 12 54 13 54 13-7 12-56 12 156 13-157 13 62 12-16 12-21 13 67 13-141 12-73 12 58 13 131 13 84 12-198 12 207 13-270 13 256 12-60 12-114 13 98 13 53 12-24 12-131 13 45 13-48 12 150 12-130 13-59 13-22 12 167 12 21 13-100 13-36 12-58 12 74 13-48 13 43 12 113 12-72 13-90 13 41 12 151 12-53 13 20 13 70 12-141 12 148 13-90 13-75 12 113 12-43 13-156 13 209 12-136 12 37 13 2 13 130 12-116 12-22 13 168 13-101 12-38 12 15 13 99 13-134 12 56 12-23 13 37 13-23 12-65 12-15 13 35 13-31 12 168 12-79 13-145 13 15 12-26 12 14 13 77 13-25 12-14 12 104 13-62 13 141 12-39 12-34 13-100 13 160 12-35 12-148 13 184 13-243 12 94 12-29 13 15 13 10 12 242 12-207 13-80 13 141 12-1 12-47 13-23 13 35 12-91 12 185 13-136 13 92 12-42 12-11 13-130 13 210 12-227 12 129 13-23 13 90 12-108 12-35 13-18 13 25 12-54 12 69 13 36 13 42 12 41 12-117 13 47 13 207 12-270 12 57 13 63 13-62 12-3 12-33 13 31 13-63 12 125 12 56 13-150 13-14 12 118 12-236 13 188 13 102 12-51 12-39 13 43 13-37 12-107 12 155 13-30 13-55 12 29 12-17 13-33 13-67 12 60 12 5 13-17 13-9 12 73 12-87 13 49 13 191 12-155 12-100 13 176 13-161 12 126 12 17 13-144 13-74 12 74 12 24 13 164 13-57 12-28 12-37 13 106 13-40 12-109 12 59 13 19 13-32 12-2 12 25 13-10 13-2 12-121 12 125 13 22 13 46 12-166 12 166 13-26 13-102 12 1 12-57 13-19 13 20 12 73 12-80 13 254 13-88 12-105 12 28 13-45 13 197 12-166 12 185 13-116 13 157 12-242 12-6 13 129 13-147 12 51 12 121 13-122 13 67 12-84 12-46 13 64 13-51 12 112 12-165 13 160 13-188 12 204 12-21 13 104 13-83 12-2 12 14 13-146 13-22 12-33 12 77" transform="scale(.1)" fill="none" stroke="#7dc1b1" stroke-width="18.5" stroke-linejoin="round"/>
<path d="M867 6399l22-1921 24-456 11 507 11 767 11 727 11 249 11 26 11 2 11 32 11 12 11-197 11 149 11 128 11-92 11 113 11-275 11-59 11 77 11-3 11 73 11-18 11 0 11 85 11 3 10-31 13 164 12-221 12 246 13-169 13-139 12 116 12 3 13-74 13 107 12-18 12-102 13 234 13-33 12-60 12-33 13-151 13 55 12 41 12-50 13 165 13-24 12-180 12 145 13-117 13-6 12 167 12 78 13-153 13-100 12 104 12 9 13-63 13 64 12-40 12-40 13 2 13 132 12-168 12-5 13 82 13-33 12 150 12-175 13 82 13-14 12 123 12-11 13 32 13-50 12 5 12-152 13 43 13 145 12-132 12 17 13 39 13 71 12-59 12-223 13 207 13-19 12 55 12-74 13-107 13 73 12 45 12-22 13-144 13 174 12-130 12 151 13-142 13 180 12-29 12 107 13-252 13 356 12-297 12 33 13-97 13 260 12-297 12 65 13 21 13 38 12-86 12 55 13 162 13-194 12 55 12 16 13-37 13 124 12-91 12-39 13-26 13 39 12-49 12-88 13 359 13-267 12 30 12-70 13 273 13-324 12 84 12 105 13 69 13 19 12-203 12 158 13-173 13 290 12-291 12-9 13 144 13-41 12-103 12 80 13 17 13 25 12-74 12 109 13 32 13 53 12-200 12 123 13 28 13-258 12 151 12 17 13 170 13-115 12-33 12-186 13 218 13-21 12-11 12 130 13-65 13-2 12-61 12-106 13 87 13-172 12 114 12 85 13 141 13-56 12-317 12 413 13-181 13-56 12 112 12-95 13 1 13 5 12 239 12-223 13-198 13 161 12 7 12 56 13-89 13 143 12-172 12 146 13-56 13 19 12-46 12 100 13 32 13-91 12 253 12-262 13-105 13 112 12 35 12 14 13-7 13 6 12-104 12 91 13 24 13 43 12-65 12-33 13 73 13-102 12 97 12-151 13 144 13 66 12-54 12 48 13-130 13 237 12-231 12-26 13-2 13-56 12 116 12-129 13 39 13 23 12 279 12-295 13 17 13 39 12-84 12 111 13-16 13 72 12-188 12 153 13-171 13 188 12 12 12-168 13 127 13 105 12-334 12 414 13-76 13-136 12 48 12-64 13-34 13 71 12-60 12 83 13-99 13-54 12 61 12 35 13-84 13 27 12 3 12 43 13 145 13-121 12 70 12-141 13 193 13-203 12 38 12 132 13 137 13-132 12-123 12-37 13 206 13-237 12 120 12-18 13 219 13-178 12 7 12 152 13-215 13 0 12 174 12-122 13-23 13-33 12-61 12 218 13-257 13 133 12 15 12-49 13-44 13 37 12-5 12 98 13-115 13 154 12-239 12 7 13 43 13 137 12-163 12 204 13-116 13-14 12-18 12 56 13-74 13-79 12 178 12-130 13 167 13-30 12 36 12-130 13 51 13-118 12 198 12-87 13 63 13-2 12-115 12-94 13 178 13-152 12 189 12 41 13-81 13-28 12-121 12 213 13-18 13-82 12 56 12-82 13 5 13 62 12-31 12-77 13 200 13-195 12-11 12 281 13-20 13-62 12 67 12-18 13-107 13 69 12-233 12 231 13-103 13-4 12-103 12 34 13 158 13-137 12 87 12-17 13-93 13 268 12-188 12-94 13 220 13-183 12-76 12-5 13 70 13-9 12 59 12-94 13-30 13-57 12 31 12 2 13 108 13 330 12-117 12-153 13-54 13 103 12-21 12 145 13-99 13 4 12-323 12 364 13-140 13-92 12 47 12 131 13-20 13-9 12-149 12 223 13-103 13-120 12 204 12-90 13-67 13 178 12-102 12 41 13 1 13-8 12 35 12-258 13 300 13-117 12 129 12-102 13 81 13-123 12-103 12 251 13-150 13-177 12 282 12-177 13 16 13 92 12-11 12-64 13-36 13 332 12-373 12 159 13-65 13 82 12-172 12 82 13-76 13 123 12-174 12 457 13-429 13 32 12 161 12 34 13-82 13 94 12-74 12 66 13-91 13-60 12 23 12-40 13 44 13-4 12 89 12-15 13-197 13 184 12 1 12-134 13 12 13-2 12-72 12 154 13 5 13-29 12-156 12 124 13 82 13 33 12 29 12-179 13 3 13 75 12 258 12-209" transform="scale(.1)" fill="none" stroke="#a7c2b1" stroke-width="18.5" stroke-linejoin="round"/>
<path d="M867 6390l22-1810 24-457 11 457 11 967 11 682 11-1 11-1 11 60 11-18 11 33 11-12 11-177 11 280 11-108 11-42 11-4 11 85 11-70 11 171 11-86 11-97 11 153 11-138 11 35 10 29 13 51 12-71 12-21 13-29 13 102 12-57 12-39 13 59 13-23 12 18 12 18 13-6 13-153 12 154 12 59 13-177 13 138 12-78 12 25 13 50 13 206 12-287 12-110 13-13 13 158 12-100 12 166 13 117 13-283 12-105 12 218 13-61 13 143 12-127 12-67 13 70 13-15 12 144 12 21 13-156 13-17 12 206 12-216 13 81 13-86 12 209 12-141 13 30 13-8 12-209 12 112 13 43 13-11 12-30 12 168 13-214 13 93 12 155 12-293 13 270 13 1 12-74 12-104 13 33 13-77 12 124 12-51 13-8 13-14 12-30 12 56 13-42 13 6 12 73 12 89 13-34 13 9 12 9 12-205 13 172 13-61 12-50 12 163 13-188 13 166 12-122 12 165 13-104 13-103 12 179 12-173 13 0 13 69 12 39 12-43 13 21 13-101 12 254 12-322 13 261 13-205 12-52 12 447 13-233 13 99 12-137 12-126 13-7 13 178 12-117 12-24 13-63 13 175 12-32 12-89 13 67 13 47 12 10 12-37 13-46 13-104 12 291 12-263 13 114 13 5 12-154 12 111 13-48 13 98 12-12 12-63 13 121 13 149 12-233 12 154 13-90 13-28 12 44 12-70 13-56 13 177 12-220 12 140 13-66 13 114 12-199 12 183 13-74 13-62 12 97 12 41 13-56 13 16 12-105 12-103 13 257 13-7 12-136 12 58 13 17 13-89 12 93 12-91 13-46 13 49 12 5 12-95 13 157 13-21 12-55 12 208 13-162 13 88 12-35 12-36 13 72 13-121 12 129 12 20 13-86 13 147 12-123 12-80 13 121 13-24 12-155 12-37 13 184 13-66 12 20 12 36 13-31 13 111 12-261 12 138 13 183 13-232 12 51 12-17 13 130 13-118 12 51 12 52 13-1 13-160 12 77 12-57 13-25 13 27 12-76 12 86 13 118 13 98 12-107 12 6 13-67 13 86 12-104 12 102 13-9 13-154 12 173 12-80 13 29 13-82 12-66 12 65 13 107 13-74 12-73 12 90 13-63 13 16 12 93 12-172 13 115 13 110 12-18 12-150 13 127 13 5 12-135 12-3 13 36 13 28 12 233 12-158 13-11 13-109 12 176 12-165 13 70 13-129 12 159 12-142 13-9 13 115 12-14 12-58 13 73 13-31 12-23 12-23 13-92 13-4 12 152 12-94 13 140 13-77 12-10 12 56 13 38 13 23 12-111 12 47 13-14 13-83 12 17 12 60 13 195 13-69 12-185 12 100 13-90 13-3 12-48 12 133 13 22 13-63 12-38 12 49 13 35 13 9 12-24 12 7 13-38 13-80 12-67 12 146 13-11 13 90 12-174 12 36 13 100 13-18 12 191 12-163 13-53 13 41 12-2 12-154 13 85 13 89 12-143 12 94 13 2 13-44 12 67 12-140 13 193 13-76 12 137 12-238 13 15 13 25 12 102 12-143 13 107 13 89 12-159 12 16 13 63 13 31 12-112 12 209 13-99 13-18 12-64 12-45 13-8 13 66 12 153 12 94 13-229 13 55 12-15 12-176 13 71 13 28 12 67 12 24 13-93 13 325 12-375 12 54 13 194 13 90 12-199 12-33 13 35 13-101 12 132 12 58 13 36 13-227 12 128 12-36 13-111 13 253 12-92 12-153 13 41 13 208 12-198 12 89 13 17 13-92 12-48 12-108 13 162 13-16 12-44 12 47 13-54 13-15 12 145 12-116 13 108 13-123 12 130 12 136 13-180 13 18 12-113 12 155 13-60 13-24 12-62 12 113 13 17 13-104 12 199 12-37 13-170 13 157 12-126 12-50 13 186 13-52 12-79 12-53 13 67 13-32 12-2 12 93 13-133 13 403 12-326 12-109 13 211 13 14 12-36 12-106 13 101 13-101 12 78 12 137 13-3 13-135 12-19 12-33 13 53 13-173 12 37 12 39 13 14 13 254 12-266 12 28 13 30 13 87 12-92 12-15 13 24 13-193 12 295 12-123 13-30 13 114 12-91 12-10" transform="scale(.1)" fill="none" stroke="#d1bca5" stroke-width="18.5" stroke-linejoin="round"/>
</g>
<rect x="62.9" y="340.8" width="618.9" height="324.7" fill="none" stroke="#2a2a2a" stroke-width="1.4"/>
<path d="M62.9 665.9L58.9 665.9 M62.9 656.9L58.9 656.9 M62.9 650.6L58.9 650.6 M62.9 645.7L58.9 645.7 M62.9 641.7L58.9 641.7 M62.9 638.3L58.9 638.3 M62.9 635.3L58.9 635.3 M62.9 632.7L58.9 632.7 M62.9 630.4L55.9 630.4 M62.9 615.1L58.9 615.1 M62.9 606.2L58.9 606.2 M62.9 599.9L58.9 599.9 M62.9 594.9L58.9 594.9 M62.9 590.9L58.9 590.9 M62.9 587.5L58.9 587.5 M62.9 584.6L58.9 584.6 M62.9 582L58.9 582 M62.9 579.7L55.9 579.7 M62.9 564.4L58.9 564.4 M62.9 555.5L58.9 555.5 M62.9 549.1L58.9 549.1 M62.9 544.2L58.9 544.2 M62.9 540.2L58.9 540.2 M62.9 536.8L58.9 536.8 M62.9 533.9L58.9 533.9 M62.9 531.3L58.9 531.3 M62.9 529L55.9 529 M62.9 513.7L58.9 513.7 M62.9 504.8L58.9 504.8 M62.9 498.4L58.9 498.4 M62.9 493.5L58.9 493.5 M62.9 489.5L58.9 489.5 M62.9 486.1L58.9 486.1 M62.9 483.2L58.9 483.2 M62.9 480.6L58.9 480.6 M62.9 478.2L55.9 478.2 M62.9 463L58.9 463 M62.9 454L58.9 454 M62.9 447.7L58.9 447.7 M62.9 442.8L58.9 442.8 M62.9 438.8L58.9 438.8 M62.9 435.4L58.9 435.4 M62.9 432.4L58.9 432.4 M62.9 429.8L58.9 429.8 M62.9 427.5L55.9 427.5 M62.9 412.3L58.9 412.3 M62.9 403.3L58.9 403.3 M62.9 397L58.9 397 M62.9 392.1L58.9 392.1 M62.9 388.1L58.9 388.1 M62.9 384.7L58.9 384.7 M62.9 381.7L58.9 381.7 M62.9 379.1L58.9 379.1 M62.9 376.8L55.9 376.8 M62.9 361.5L58.9 361.5 M62.9 352.6L58.9 352.6 M62.9 346.3L58.9 346.3 M62.9 341.3L58.9 341.3 M86.6 665.5L86.6 672.5 M142.4 665.5L142.4 669.5 M198.3 665.5L198.3 672.5 M254.2 665.5L254.2 669.5 M310 665.5L310 672.5 M365.9 665.5L365.9 669.5 M421.7 665.5L421.7 672.5 M477.5 665.5L477.5 669.5 M533.4 665.5L533.4 672.5 M589.2 665.5L589.2 669.5 M645.1 665.5L645.1 672.5" stroke="#2a2a2a" stroke-width="1.4" fill="none"/>
<text transform="translate(51.6,638) scale(1.08,1)" font-size="18.2" fill="#1e1e1e" stroke="#1e1e1e" text-anchor="end">10<tspan font-size="10.5" dy="-10.0">1</tspan></text>
<text transform="translate(51.6,587.3) scale(1.08,1)" font-size="18.2" fill="#1e1e1e" stroke="#1e1e1e" text-anchor="end">10<tspan font-size="10.5" dy="-10.0">2</tspan></text>
<text transform="translate(51.6,536.6) scale(1.08,1)" font-size="18.2" fill="#1e1e1e" stroke="#1e1e1e" text-anchor="end">10<tspan font-size="10.5" dy="-10.0">3</tspan></text>
<text transform="translate(51.6,485.8) scale(1.08,1)" font-size="18.2" fill="#1e1e1e" stroke="#1e1e1e" text-anchor="end">10<tspan font-size="10.5" dy="-10.0">4</tspan></text>
<text transform="translate(51.6,435.1) scale(1.08,1)" font-size="18.2" fill="#1e1e1e" stroke="#1e1e1e" text-anchor="end">10<tspan font-size="10.5" dy="-10.0">5</tspan></text>
<text transform="translate(51.6,384.4) scale(1.08,1)" font-size="18.2" fill="#1e1e1e" stroke="#1e1e1e" text-anchor="end">10<tspan font-size="10.5" dy="-10.0">6</tspan></text>
<text x="75.9" y="689.8" font-size="16.3" fill="#1e1e1e" stroke="#1e1e1e">0.0</text>
<text transform="translate(197.9,691.8) scale(1,1)" font-size="16.3" fill="#1e1e1e" stroke="#1e1e1e" text-anchor="middle">5.0x10<tspan font-size="9.8" dy="-9.3">5</tspan></text>
<text transform="translate(309.6,691.8) scale(1,1)" font-size="16.3" fill="#1e1e1e" stroke="#1e1e1e" text-anchor="middle">1.0x10<tspan font-size="9.8" dy="-9.3">6</tspan></text>
<text transform="translate(421.3,691.8) scale(1,1)" font-size="16.3" fill="#1e1e1e" stroke="#1e1e1e" text-anchor="middle">1.5x10<tspan font-size="9.8" dy="-9.3">6</tspan></text>
<text transform="translate(533,691.8) scale(1,1)" font-size="16.3" fill="#1e1e1e" stroke="#1e1e1e" text-anchor="middle">2.0x10<tspan font-size="9.8" dy="-9.3">6</tspan></text>
<text transform="translate(644.7,691.8) scale(1,1)" font-size="16.3" fill="#1e1e1e" stroke="#1e1e1e" text-anchor="middle">2.5x10<tspan font-size="9.8" dy="-9.3">6</tspan></text>
<text x="381.7" y="717.6" font-size="19.3" fill="#1e1e1e" stroke="#1e1e1e" text-anchor="middle">Lifetime/ps</text>
<text transform="translate(15.6,490.2) rotate(-90) scale(1,1)" font-size="19.5" fill="#1e1e1e" stroke="#1e1e1e" text-anchor="middle">Counts per bin</text>
<text x="5" y="357.6" font-size="23.5" fill="#1e1e1e" stroke="#1e1e1e" letter-spacing="0.5">(c)</text>
<line x1="574" y1="383.4" x2="605.3" y2="383.4" stroke="#163a68" stroke-width="1.9"/>
<text x="609.6" y="388.1" font-size="13.3" fill="#163a68" stroke="#163a68">1 atm</text>
<line x1="574" y1="400.1" x2="605.3" y2="400.1" stroke="#0f3f70" stroke-width="1.9"/>
<text x="609.6" y="404.8" font-size="13.3" fill="#0f3f70" stroke="#0f3f70">1.0 GPa</text>
<line x1="574" y1="416.8" x2="605.3" y2="416.8" stroke="#1a5a8a" stroke-width="1.9"/>
<text x="609.6" y="421.5" font-size="13.3" fill="#1a5a8a" stroke="#1a5a8a">2.0 GPa</text>
<line x1="574" y1="433.5" x2="605.3" y2="433.5" stroke="#1b7393" stroke-width="1.9"/>
<text x="609.6" y="438.2" font-size="13.3" fill="#1b7393" stroke="#1b7393">3.0 GPa</text>
<line x1="574" y1="450.2" x2="605.3" y2="450.2" stroke="#1d9a98" stroke-width="1.9"/>
<text x="609.6" y="454.9" font-size="13.3" fill="#1d9a98" stroke="#1d9a98">4.0 GPa</text>
<line x1="574" y1="466.8" x2="605.3" y2="466.8" stroke="#4aaea4" stroke-width="1.9"/>
<text x="609.6" y="471.5" font-size="13.3" fill="#4aaea4" stroke="#4aaea4">5.0 GPa</text>
<line x1="574" y1="483.5" x2="605.3" y2="483.5" stroke="#7dc1b1" stroke-width="1.9"/>
<text x="609.6" y="488.2" font-size="13.3" fill="#7dc1b1" stroke="#7dc1b1">7.0 GPa</text>
<line x1="574" y1="500.2" x2="605.3" y2="500.2" stroke="#a7c2b1" stroke-width="1.9"/>
<text x="609.6" y="504.9" font-size="13.3" fill="#a7c2b1" stroke="#a7c2b1">9.0 GPa</text>
<line x1="574" y1="516.9" x2="605.3" y2="516.9" stroke="#d1bca5" stroke-width="1.9"/>
<text x="609.6" y="521.6" font-size="13.3" fill="#d1bca5" stroke="#d1bca5">10.0GPa</text>
</svg></body></html>
